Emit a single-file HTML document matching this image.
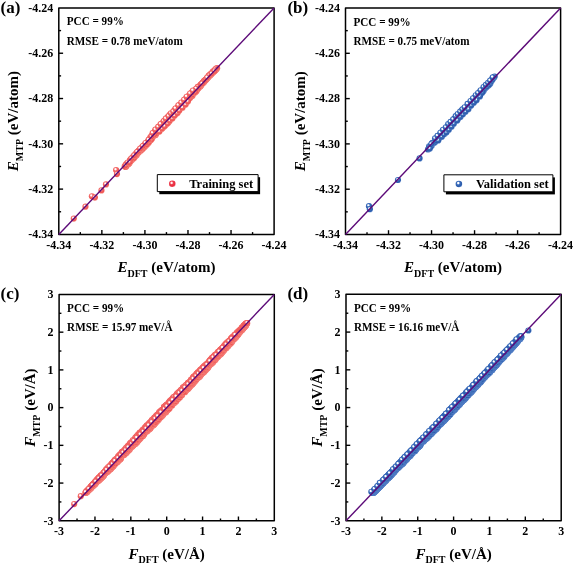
<!DOCTYPE html>
<html><head><meta charset="utf-8"><style>
html,body{margin:0;padding:0;background:#fff;width:575px;height:564px;overflow:hidden}
svg{display:block;will-change:transform}
text{font-family:"Liberation Serif", serif;fill:#000}
</style></head><body>
<svg width="575" height="564" viewBox="0 0 575 564">
<defs>
<radialGradient id="gr" cx="0.40" cy="0.36" r="0.62">
<stop offset="0" stop-color="#ffffff"/><stop offset="0.16" stop-color="#ffffff"/><stop offset="0.42" stop-color="#f36a6a"/><stop offset="0.85" stop-color="#f05552"/><stop offset="1" stop-color="#f47a74"/></radialGradient>
<radialGradient id="gb" cx="0.40" cy="0.36" r="0.62">
<stop offset="0" stop-color="#ffffff"/><stop offset="0.16" stop-color="#ffffff"/><stop offset="0.42" stop-color="#3a6cbc"/><stop offset="0.85" stop-color="#2a5aa9"/><stop offset="1" stop-color="#4f7cc4"/></radialGradient>
<radialGradient id="grl" cx="0.40" cy="0.36" r="0.62">
<stop offset="0" stop-color="#ffffff"/><stop offset="0.16" stop-color="#fde8ea"/><stop offset="0.42" stop-color="#ee3e4e"/><stop offset="0.85" stop-color="#e8283c"/><stop offset="1" stop-color="#f0606e"/></radialGradient>
</defs>
<g stroke="#000" stroke-width="1.4"><line x1="80.33" y1="234.4" x2="80.33" y2="232.10"/><line x1="58.8" y1="211.76" x2="61.10" y2="211.76"/><line x1="101.86" y1="234.4" x2="101.86" y2="230.10"/><line x1="58.8" y1="189.11" x2="63.10" y2="189.11"/><line x1="123.39" y1="234.4" x2="123.39" y2="232.10"/><line x1="58.8" y1="166.46" x2="61.10" y2="166.46"/><line x1="144.92" y1="234.4" x2="144.92" y2="230.10"/><line x1="58.8" y1="143.82" x2="63.10" y2="143.82"/><line x1="166.45" y1="234.4" x2="166.45" y2="232.10"/><line x1="58.8" y1="121.17" x2="61.10" y2="121.17"/><line x1="187.98" y1="234.4" x2="187.98" y2="230.10"/><line x1="58.8" y1="98.53" x2="63.10" y2="98.53"/><line x1="209.51" y1="234.4" x2="209.51" y2="232.10"/><line x1="58.8" y1="75.88" x2="61.10" y2="75.88"/><line x1="231.04" y1="234.4" x2="231.04" y2="230.10"/><line x1="58.8" y1="53.24" x2="63.10" y2="53.24"/><line x1="252.57" y1="234.4" x2="252.57" y2="232.10"/><line x1="58.8" y1="30.59" x2="61.10" y2="30.59"/></g><rect x="58.8" y="7.95" width="215.30" height="226.45" fill="none" stroke="#000" stroke-width="1.5" stroke-linejoin="round"/><g stroke="#000" stroke-width="1.4"><line x1="367.01" y1="234.5" x2="367.01" y2="232.20"/><line x1="345.5" y1="211.85" x2="347.80" y2="211.85"/><line x1="388.52" y1="234.5" x2="388.52" y2="230.20"/><line x1="345.5" y1="189.20" x2="349.80" y2="189.20"/><line x1="410.03" y1="234.5" x2="410.03" y2="232.20"/><line x1="345.5" y1="166.55" x2="347.80" y2="166.55"/><line x1="431.54" y1="234.5" x2="431.54" y2="230.20"/><line x1="345.5" y1="143.90" x2="349.80" y2="143.90"/><line x1="453.05" y1="234.5" x2="453.05" y2="232.20"/><line x1="345.5" y1="121.25" x2="347.80" y2="121.25"/><line x1="474.56" y1="234.5" x2="474.56" y2="230.20"/><line x1="345.5" y1="98.60" x2="349.80" y2="98.60"/><line x1="496.07" y1="234.5" x2="496.07" y2="232.20"/><line x1="345.5" y1="75.95" x2="347.80" y2="75.95"/><line x1="517.58" y1="234.5" x2="517.58" y2="230.20"/><line x1="345.5" y1="53.30" x2="349.80" y2="53.30"/><line x1="539.09" y1="234.5" x2="539.09" y2="232.20"/><line x1="345.5" y1="30.65" x2="347.80" y2="30.65"/></g><rect x="345.5" y="8.0" width="215.10" height="226.50" fill="none" stroke="#000" stroke-width="1.5" stroke-linejoin="round"/><g stroke="#000" stroke-width="1.4"><line x1="77.03" y1="520.8" x2="77.03" y2="518.50"/><line x1="59.1" y1="501.94" x2="61.40" y2="501.94"/><line x1="94.97" y1="520.8" x2="94.97" y2="516.50"/><line x1="59.1" y1="483.07" x2="63.40" y2="483.07"/><line x1="112.90" y1="520.8" x2="112.90" y2="518.50"/><line x1="59.1" y1="464.21" x2="61.40" y2="464.21"/><line x1="130.83" y1="520.8" x2="130.83" y2="516.50"/><line x1="59.1" y1="445.35" x2="63.40" y2="445.35"/><line x1="148.77" y1="520.8" x2="148.77" y2="518.50"/><line x1="59.1" y1="426.49" x2="61.40" y2="426.49"/><line x1="166.70" y1="520.8" x2="166.70" y2="516.50"/><line x1="59.1" y1="407.62" x2="63.40" y2="407.62"/><line x1="184.63" y1="520.8" x2="184.63" y2="518.50"/><line x1="59.1" y1="388.76" x2="61.40" y2="388.76"/><line x1="202.57" y1="520.8" x2="202.57" y2="516.50"/><line x1="59.1" y1="369.90" x2="63.40" y2="369.90"/><line x1="220.50" y1="520.8" x2="220.50" y2="518.50"/><line x1="59.1" y1="351.04" x2="61.40" y2="351.04"/><line x1="238.43" y1="520.8" x2="238.43" y2="516.50"/><line x1="59.1" y1="332.17" x2="63.40" y2="332.17"/><line x1="256.37" y1="520.8" x2="256.37" y2="518.50"/><line x1="59.1" y1="313.31" x2="61.40" y2="313.31"/></g><rect x="59.1" y="294.45" width="215.20" height="226.35" fill="none" stroke="#000" stroke-width="1.5" stroke-linejoin="round"/><g stroke="#000" stroke-width="1.4"><line x1="363.93" y1="520.8" x2="363.93" y2="518.50"/><line x1="346.0" y1="501.93" x2="348.30" y2="501.93"/><line x1="381.87" y1="520.8" x2="381.87" y2="516.50"/><line x1="346.0" y1="483.06" x2="350.30" y2="483.06"/><line x1="399.80" y1="520.8" x2="399.80" y2="518.50"/><line x1="346.0" y1="464.19" x2="348.30" y2="464.19"/><line x1="417.73" y1="520.8" x2="417.73" y2="516.50"/><line x1="346.0" y1="445.32" x2="350.30" y2="445.32"/><line x1="435.67" y1="520.8" x2="435.67" y2="518.50"/><line x1="346.0" y1="426.45" x2="348.30" y2="426.45"/><line x1="453.60" y1="520.8" x2="453.60" y2="516.50"/><line x1="346.0" y1="407.57" x2="350.30" y2="407.57"/><line x1="471.53" y1="520.8" x2="471.53" y2="518.50"/><line x1="346.0" y1="388.70" x2="348.30" y2="388.70"/><line x1="489.47" y1="520.8" x2="489.47" y2="516.50"/><line x1="346.0" y1="369.83" x2="350.30" y2="369.83"/><line x1="507.40" y1="520.8" x2="507.40" y2="518.50"/><line x1="346.0" y1="350.96" x2="348.30" y2="350.96"/><line x1="525.33" y1="520.8" x2="525.33" y2="516.50"/><line x1="346.0" y1="332.09" x2="350.30" y2="332.09"/><line x1="543.27" y1="520.8" x2="543.27" y2="518.50"/><line x1="346.0" y1="313.22" x2="348.30" y2="313.22"/></g><rect x="346.0" y="294.35" width="215.20" height="226.45" fill="none" stroke="#000" stroke-width="1.5" stroke-linejoin="round"/><g fill="url(#gr)"><circle cx="73.80" cy="218.60" r="3.1"/><circle cx="85.50" cy="206.70" r="3.1"/><circle cx="91.90" cy="196.30" r="3.1"/><circle cx="94.90" cy="197.60" r="3.1"/><circle cx="101.50" cy="190.40" r="3.1"/><circle cx="106.00" cy="184.40" r="3.1"/><circle cx="116.10" cy="170.10" r="3.1"/><circle cx="117.00" cy="174.10" r="3.1"/><circle cx="198.71" cy="86.51" r="3.1"/><circle cx="178.28" cy="111.24" r="3.1"/><circle cx="172.66" cy="116.04" r="3.1"/><circle cx="211.66" cy="73.35" r="3.1"/><circle cx="131.74" cy="160.33" r="3.1"/><circle cx="148.56" cy="140.69" r="3.1"/><circle cx="191.01" cy="93.33" r="3.1"/><circle cx="174.22" cy="114.75" r="3.1"/><circle cx="182.18" cy="106.17" r="3.1"/><circle cx="184.46" cy="101.35" r="3.1"/><circle cx="126.15" cy="164.69" r="3.1"/><circle cx="155.85" cy="133.60" r="3.1"/><circle cx="215.69" cy="69.70" r="3.1"/><circle cx="133.21" cy="157.71" r="3.1"/><circle cx="125.99" cy="164.68" r="3.1"/><circle cx="210.91" cy="74.48" r="3.1"/><circle cx="173.21" cy="113.78" r="3.1"/><circle cx="149.84" cy="140.81" r="3.1"/><circle cx="166.24" cy="118.65" r="3.1"/><circle cx="168.50" cy="121.65" r="3.1"/><circle cx="190.44" cy="97.28" r="3.1"/><circle cx="141.28" cy="149.51" r="3.1"/><circle cx="135.38" cy="155.43" r="3.1"/><circle cx="192.39" cy="91.89" r="3.1"/><circle cx="187.05" cy="100.80" r="3.1"/><circle cx="142.32" cy="146.90" r="3.1"/><circle cx="141.58" cy="148.43" r="3.1"/><circle cx="152.05" cy="137.99" r="3.1"/><circle cx="182.89" cy="104.86" r="3.1"/><circle cx="190.97" cy="93.99" r="3.1"/><circle cx="203.15" cy="82.58" r="3.1"/><circle cx="133.34" cy="156.79" r="3.1"/><circle cx="181.65" cy="105.94" r="3.1"/><circle cx="213.37" cy="72.29" r="3.1"/><circle cx="195.83" cy="91.53" r="3.1"/><circle cx="200.49" cy="86.14" r="3.1"/><circle cx="200.24" cy="86.46" r="3.1"/><circle cx="152.17" cy="135.59" r="3.1"/><circle cx="137.12" cy="153.54" r="3.1"/><circle cx="138.78" cy="150.96" r="3.1"/><circle cx="200.57" cy="84.73" r="3.1"/><circle cx="154.22" cy="132.37" r="3.1"/><circle cx="167.81" cy="119.36" r="3.1"/><circle cx="125.61" cy="166.97" r="3.1"/><circle cx="168.22" cy="116.54" r="3.1"/><circle cx="206.53" cy="79.20" r="3.1"/><circle cx="193.45" cy="92.91" r="3.1"/><circle cx="170.32" cy="119.08" r="3.1"/><circle cx="174.76" cy="110.86" r="3.1"/><circle cx="209.91" cy="75.77" r="3.1"/><circle cx="148.90" cy="142.07" r="3.1"/><circle cx="192.57" cy="92.95" r="3.1"/><circle cx="146.33" cy="144.24" r="3.1"/><circle cx="210.49" cy="74.21" r="3.1"/><circle cx="150.21" cy="139.75" r="3.1"/><circle cx="171.08" cy="118.02" r="3.1"/><circle cx="143.70" cy="145.71" r="3.1"/><circle cx="130.37" cy="160.43" r="3.1"/><circle cx="125.53" cy="166.09" r="3.1"/><circle cx="154.96" cy="130.99" r="3.1"/><circle cx="136.66" cy="155.29" r="3.1"/><circle cx="127.98" cy="164.15" r="3.1"/><circle cx="131.47" cy="159.03" r="3.1"/><circle cx="199.33" cy="86.80" r="3.1"/><circle cx="161.43" cy="128.70" r="3.1"/><circle cx="155.68" cy="130.30" r="3.1"/><circle cx="156.30" cy="129.89" r="3.1"/><circle cx="138.89" cy="150.53" r="3.1"/><circle cx="163.36" cy="123.60" r="3.1"/><circle cx="185.87" cy="102.33" r="3.1"/><circle cx="210.20" cy="74.75" r="3.1"/><circle cx="158.08" cy="128.21" r="3.1"/><circle cx="217.13" cy="68.20" r="3.1"/><circle cx="174.67" cy="110.04" r="3.1"/><circle cx="152.55" cy="136.21" r="3.1"/><circle cx="157.19" cy="128.77" r="3.1"/><circle cx="163.53" cy="121.53" r="3.1"/><circle cx="201.21" cy="85.24" r="3.1"/><circle cx="167.37" cy="122.78" r="3.1"/><circle cx="143.12" cy="146.59" r="3.1"/><circle cx="147.62" cy="141.98" r="3.1"/><circle cx="162.41" cy="128.04" r="3.1"/><circle cx="186.04" cy="101.17" r="3.1"/><circle cx="200.46" cy="85.26" r="3.1"/><circle cx="138.00" cy="152.56" r="3.1"/><circle cx="132.55" cy="157.43" r="3.1"/><circle cx="178.12" cy="107.10" r="3.1"/><circle cx="208.70" cy="75.91" r="3.1"/><circle cx="134.22" cy="156.10" r="3.1"/><circle cx="194.69" cy="90.94" r="3.1"/><circle cx="128.92" cy="163.14" r="3.1"/><circle cx="156.64" cy="132.59" r="3.1"/><circle cx="151.72" cy="138.38" r="3.1"/><circle cx="187.63" cy="101.36" r="3.1"/><circle cx="179.36" cy="105.11" r="3.1"/><circle cx="176.08" cy="108.76" r="3.1"/><circle cx="162.12" cy="126.81" r="3.1"/><circle cx="207.99" cy="77.24" r="3.1"/><circle cx="190.05" cy="95.51" r="3.1"/><circle cx="178.55" cy="107.52" r="3.1"/><circle cx="152.62" cy="134.77" r="3.1"/><circle cx="180.68" cy="107.80" r="3.1"/><circle cx="178.00" cy="107.43" r="3.1"/><circle cx="163.62" cy="126.76" r="3.1"/><circle cx="169.71" cy="114.96" r="3.1"/><circle cx="179.37" cy="106.52" r="3.1"/><circle cx="136.82" cy="152.85" r="3.1"/><circle cx="191.01" cy="96.02" r="3.1"/><circle cx="134.84" cy="156.32" r="3.1"/><circle cx="166.89" cy="121.64" r="3.1"/><circle cx="208.60" cy="76.60" r="3.1"/><circle cx="145.84" cy="145.24" r="3.1"/><circle cx="165.75" cy="124.37" r="3.1"/><circle cx="184.39" cy="103.94" r="3.1"/><circle cx="142.91" cy="148.31" r="3.1"/><circle cx="158.13" cy="128.62" r="3.1"/><circle cx="197.48" cy="89.10" r="3.1"/><circle cx="171.16" cy="115.50" r="3.1"/><circle cx="185.22" cy="99.38" r="3.1"/><circle cx="191.84" cy="95.95" r="3.1"/><circle cx="176.38" cy="108.60" r="3.1"/><circle cx="201.42" cy="84.36" r="3.1"/><circle cx="150.18" cy="137.52" r="3.1"/><circle cx="204.27" cy="80.74" r="3.1"/><circle cx="126.43" cy="166.17" r="3.1"/><circle cx="167.40" cy="117.48" r="3.1"/><circle cx="130.16" cy="161.79" r="3.1"/><circle cx="181.60" cy="104.57" r="3.1"/><circle cx="148.91" cy="139.81" r="3.1"/><circle cx="132.86" cy="158.63" r="3.1"/><circle cx="153.01" cy="135.03" r="3.1"/><circle cx="162.55" cy="123.53" r="3.1"/><circle cx="160.65" cy="125.79" r="3.1"/><circle cx="165.93" cy="124.64" r="3.1"/><circle cx="212.46" cy="72.45" r="3.1"/><circle cx="129.36" cy="163.16" r="3.1"/><circle cx="213.18" cy="71.42" r="3.1"/><circle cx="210.27" cy="74.99" r="3.1"/><circle cx="140.83" cy="149.56" r="3.1"/><circle cx="171.47" cy="113.69" r="3.1"/><circle cx="188.06" cy="96.26" r="3.1"/><circle cx="202.68" cy="82.71" r="3.1"/><circle cx="137.78" cy="151.53" r="3.1"/><circle cx="145.20" cy="146.10" r="3.1"/><circle cx="130.01" cy="160.30" r="3.1"/><circle cx="176.58" cy="108.29" r="3.1"/><circle cx="204.64" cy="80.53" r="3.1"/><circle cx="157.87" cy="130.43" r="3.1"/><circle cx="184.09" cy="101.94" r="3.1"/><circle cx="207.06" cy="78.61" r="3.1"/><circle cx="182.32" cy="102.79" r="3.1"/><circle cx="209.08" cy="75.66" r="3.1"/><circle cx="197.77" cy="86.89" r="3.1"/><circle cx="151.26" cy="136.37" r="3.1"/><circle cx="179.59" cy="107.91" r="3.1"/><circle cx="166.30" cy="123.82" r="3.1"/><circle cx="168.78" cy="120.08" r="3.1"/><circle cx="170.44" cy="114.47" r="3.1"/><circle cx="158.73" cy="130.92" r="3.1"/><circle cx="152.26" cy="137.97" r="3.1"/><circle cx="138.74" cy="152.46" r="3.1"/><circle cx="196.15" cy="90.71" r="3.1"/><circle cx="171.08" cy="117.72" r="3.1"/><circle cx="183.91" cy="105.07" r="3.1"/><circle cx="189.20" cy="96.05" r="3.1"/><circle cx="144.38" cy="147.24" r="3.1"/><circle cx="215.99" cy="69.42" r="3.1"/><circle cx="212.61" cy="72.61" r="3.1"/><circle cx="196.35" cy="89.20" r="3.1"/><circle cx="145.41" cy="144.01" r="3.1"/><circle cx="174.56" cy="114.40" r="3.1"/><circle cx="196.02" cy="90.15" r="3.1"/><circle cx="216.46" cy="68.99" r="3.1"/><circle cx="159.76" cy="129.27" r="3.1"/><circle cx="175.94" cy="109.74" r="3.1"/><circle cx="139.80" cy="150.50" r="3.1"/><circle cx="204.14" cy="81.40" r="3.1"/><circle cx="146.64" cy="143.60" r="3.1"/><circle cx="181.93" cy="104.65" r="3.1"/><circle cx="175.99" cy="113.89" r="3.1"/><circle cx="196.56" cy="91.10" r="3.1"/><circle cx="187.99" cy="97.40" r="3.1"/><circle cx="139.19" cy="150.44" r="3.1"/><circle cx="206.00" cy="79.79" r="3.1"/><circle cx="205.33" cy="79.93" r="3.1"/><circle cx="134.55" cy="157.17" r="3.1"/><circle cx="211.56" cy="73.71" r="3.1"/><circle cx="128.63" cy="163.97" r="3.1"/><circle cx="185.37" cy="101.53" r="3.1"/><circle cx="212.89" cy="72.02" r="3.1"/><circle cx="216.08" cy="68.52" r="3.1"/><circle cx="215.17" cy="70.40" r="3.1"/><circle cx="126.90" cy="163.51" r="3.1"/><circle cx="188.64" cy="98.53" r="3.1"/><circle cx="149.18" cy="141.73" r="3.1"/><circle cx="176.60" cy="112.76" r="3.1"/><circle cx="198.90" cy="87.00" r="3.1"/><circle cx="193.54" cy="90.79" r="3.1"/><circle cx="135.15" cy="155.63" r="3.1"/><circle cx="144.84" cy="145.75" r="3.1"/><circle cx="214.66" cy="70.45" r="3.1"/><circle cx="167.74" cy="117.48" r="3.1"/><circle cx="129.28" cy="162.16" r="3.1"/><circle cx="167.62" cy="121.64" r="3.1"/><circle cx="175.75" cy="109.67" r="3.1"/><circle cx="214.14" cy="70.98" r="3.1"/><circle cx="198.21" cy="88.39" r="3.1"/><circle cx="204.10" cy="81.14" r="3.1"/><circle cx="127.27" cy="164.34" r="3.1"/><circle cx="207.86" cy="77.63" r="3.1"/><circle cx="136.51" cy="154.49" r="3.1"/><circle cx="175.48" cy="111.91" r="3.1"/><circle cx="184.15" cy="102.55" r="3.1"/><circle cx="190.06" cy="97.89" r="3.1"/><circle cx="136.81" cy="153.12" r="3.1"/><circle cx="207.16" cy="78.22" r="3.1"/><circle cx="141.08" cy="150.60" r="3.1"/><circle cx="147.12" cy="142.80" r="3.1"/><circle cx="197.83" cy="87.28" r="3.1"/><circle cx="192.55" cy="95.72" r="3.1"/><circle cx="155.68" cy="134.90" r="3.1"/><circle cx="150.26" cy="140.33" r="3.1"/><circle cx="161.03" cy="125.41" r="3.1"/><circle cx="192.61" cy="94.61" r="3.1"/><circle cx="124.77" cy="166.20" r="3.1"/><circle cx="188.31" cy="100.01" r="3.1"/><circle cx="125.82" cy="165.37" r="3.1"/><circle cx="205.51" cy="80.38" r="3.1"/><circle cx="130.59" cy="159.27" r="3.1"/><circle cx="197.82" cy="88.75" r="3.1"/><circle cx="205.78" cy="79.62" r="3.1"/><circle cx="172.10" cy="118.04" r="3.1"/><circle cx="215.19" cy="69.62" r="3.1"/><circle cx="214.43" cy="71.37" r="3.1"/><circle cx="145.68" cy="145.43" r="3.1"/><circle cx="180.71" cy="106.06" r="3.1"/><circle cx="201.02" cy="84.65" r="3.1"/><circle cx="208.17" cy="77.06" r="3.1"/><circle cx="155.42" cy="134.22" r="3.1"/><circle cx="169.50" cy="117.01" r="3.1"/><circle cx="203.87" cy="82.43" r="3.1"/><circle cx="161.55" cy="128.76" r="3.1"/><circle cx="147.82" cy="143.33" r="3.1"/><circle cx="188.18" cy="96.63" r="3.1"/><circle cx="203.29" cy="82.58" r="3.1"/><circle cx="201.52" cy="84.22" r="3.1"/><circle cx="137.95" cy="152.43" r="3.1"/><circle cx="183.95" cy="103.48" r="3.1"/><circle cx="154.83" cy="135.34" r="3.1"/><circle cx="158.76" cy="127.35" r="3.1"/><circle cx="161.89" cy="123.66" r="3.1"/><circle cx="209.33" cy="75.46" r="3.1"/><circle cx="156.46" cy="133.54" r="3.1"/><circle cx="142.62" cy="149.06" r="3.1"/><circle cx="131.91" cy="158.26" r="3.1"/><circle cx="151.19" cy="137.12" r="3.1"/><circle cx="143.86" cy="147.07" r="3.1"/><circle cx="168.64" cy="121.88" r="3.1"/><circle cx="179.11" cy="109.11" r="3.1"/><circle cx="194.58" cy="92.79" r="3.1"/><circle cx="202.52" cy="83.49" r="3.1"/><circle cx="130.13" cy="161.62" r="3.1"/><circle cx="159.16" cy="131.31" r="3.1"/><circle cx="127.65" cy="162.60" r="3.1"/><circle cx="133.94" cy="158.18" r="3.1"/><circle cx="131.33" cy="158.60" r="3.1"/><circle cx="153.95" cy="135.48" r="3.1"/><circle cx="140.27" cy="149.96" r="3.1"/><circle cx="202.14" cy="83.70" r="3.1"/><circle cx="175.74" cy="112.86" r="3.1"/><circle cx="187.17" cy="99.41" r="3.1"/><circle cx="158.97" cy="126.62" r="3.1"/><circle cx="141.47" cy="148.77" r="3.1"/><circle cx="135.23" cy="155.51" r="3.1"/><circle cx="173.23" cy="115.38" r="3.1"/><circle cx="156.37" cy="131.03" r="3.1"/><circle cx="142.73" cy="146.65" r="3.1"/><circle cx="161.87" cy="125.76" r="3.1"/><circle cx="186.53" cy="98.19" r="3.1"/><circle cx="173.62" cy="114.85" r="3.1"/><circle cx="180.11" cy="104.97" r="3.1"/><circle cx="193.07" cy="91.86" r="3.1"/><circle cx="211.74" cy="73.68" r="3.1"/><circle cx="147.05" cy="144.40" r="3.1"/><circle cx="150.67" cy="139.50" r="3.1"/><circle cx="207.21" cy="77.63" r="3.1"/><circle cx="196.12" cy="88.80" r="3.1"/><circle cx="166.55" cy="122.81" r="3.1"/><circle cx="148.41" cy="142.99" r="3.1"/><circle cx="195.27" cy="92.18" r="3.1"/><circle cx="151.27" cy="139.82" r="3.1"/><circle cx="135.63" cy="153.80" r="3.1"/><circle cx="154.33" cy="134.77" r="3.1"/><circle cx="165.23" cy="120.18" r="3.1"/><circle cx="164.28" cy="124.95" r="3.1"/><circle cx="192.10" cy="92.97" r="3.1"/><circle cx="173.94" cy="113.19" r="3.1"/><circle cx="187.61" cy="98.01" r="3.1"/><circle cx="129.71" cy="162.23" r="3.1"/><circle cx="161.74" cy="124.02" r="3.1"/><circle cx="159.51" cy="131.50" r="3.1"/><circle cx="162.18" cy="128.51" r="3.1"/><circle cx="164.70" cy="126.28" r="3.1"/><circle cx="167.81" cy="123.33" r="3.1"/><circle cx="169.81" cy="120.80" r="3.1"/><circle cx="172.41" cy="118.44" r="3.1"/><circle cx="174.58" cy="115.70" r="3.1"/><circle cx="177.54" cy="113.07" r="3.1"/><circle cx="179.38" cy="110.46" r="3.1"/><circle cx="182.53" cy="107.74" r="3.1"/><circle cx="185.71" cy="104.53" r="3.1"/><circle cx="187.87" cy="101.53" r="3.1"/><circle cx="134.17" cy="155.46" r="3.1"/><circle cx="137.17" cy="152.03" r="3.1"/><circle cx="140.16" cy="148.63" r="3.1"/><circle cx="142.85" cy="145.99" r="3.1"/><circle cx="145.47" cy="143.00" r="3.1"/><circle cx="148.60" cy="139.90" r="3.1"/><circle cx="151.54" cy="136.57" r="3.1"/><circle cx="152.68" cy="133.02" r="3.1"/><circle cx="155.41" cy="129.65" r="3.1"/><circle cx="158.23" cy="126.93" r="3.1"/><circle cx="160.63" cy="124.06" r="3.1"/><circle cx="163.79" cy="120.99" r="3.1"/><circle cx="165.82" cy="118.63" r="3.1"/><circle cx="168.74" cy="116.13" r="3.1"/><circle cx="170.97" cy="113.35" r="3.1"/><circle cx="173.32" cy="111.38" r="3.1"/><circle cx="175.44" cy="108.48" r="3.1"/><circle cx="178.38" cy="105.32" r="3.1"/><circle cx="181.28" cy="102.61" r="3.1"/><circle cx="184.05" cy="99.74" r="3.1"/><circle cx="186.65" cy="96.74" r="3.1"/><circle cx="190.05" cy="93.53" r="3.1"/><circle cx="192.93" cy="90.59" r="3.1"/></g><g fill="url(#gb)"><circle cx="369.00" cy="206.20" r="3.1"/><circle cx="369.90" cy="209.20" r="3.1"/><circle cx="398.00" cy="180.00" r="3.1"/><circle cx="419.60" cy="158.40" r="3.1"/><circle cx="489.17" cy="84.10" r="3.1"/><circle cx="494.14" cy="77.17" r="3.1"/><circle cx="438.77" cy="138.77" r="3.1"/><circle cx="432.02" cy="143.33" r="3.1"/><circle cx="480.88" cy="93.59" r="3.1"/><circle cx="435.23" cy="141.50" r="3.1"/><circle cx="473.76" cy="101.64" r="3.1"/><circle cx="431.70" cy="145.77" r="3.1"/><circle cx="452.60" cy="123.02" r="3.1"/><circle cx="455.67" cy="120.73" r="3.1"/><circle cx="466.73" cy="108.21" r="3.1"/><circle cx="445.82" cy="130.20" r="3.1"/><circle cx="484.65" cy="88.86" r="3.1"/><circle cx="455.36" cy="118.13" r="3.1"/><circle cx="493.52" cy="77.92" r="3.1"/><circle cx="486.48" cy="85.69" r="3.1"/><circle cx="460.53" cy="113.13" r="3.1"/><circle cx="435.83" cy="140.94" r="3.1"/><circle cx="492.48" cy="78.64" r="3.1"/><circle cx="476.60" cy="97.87" r="3.1"/><circle cx="484.70" cy="88.16" r="3.1"/><circle cx="427.98" cy="149.52" r="3.1"/><circle cx="447.57" cy="127.67" r="3.1"/><circle cx="440.71" cy="134.13" r="3.1"/><circle cx="449.59" cy="126.89" r="3.1"/><circle cx="494.69" cy="76.54" r="3.1"/><circle cx="468.16" cy="107.72" r="3.1"/><circle cx="458.97" cy="116.55" r="3.1"/><circle cx="466.70" cy="108.92" r="3.1"/><circle cx="460.32" cy="114.44" r="3.1"/><circle cx="429.18" cy="146.36" r="3.1"/><circle cx="445.90" cy="132.42" r="3.1"/><circle cx="471.19" cy="104.08" r="3.1"/><circle cx="442.82" cy="130.91" r="3.1"/><circle cx="470.22" cy="105.70" r="3.1"/><circle cx="435.03" cy="142.24" r="3.1"/><circle cx="440.13" cy="136.06" r="3.1"/><circle cx="468.11" cy="105.85" r="3.1"/><circle cx="441.55" cy="133.55" r="3.1"/><circle cx="480.17" cy="91.69" r="3.1"/><circle cx="471.77" cy="102.97" r="3.1"/><circle cx="458.64" cy="118.02" r="3.1"/><circle cx="483.58" cy="88.80" r="3.1"/><circle cx="470.75" cy="104.51" r="3.1"/><circle cx="434.18" cy="142.76" r="3.1"/><circle cx="432.47" cy="142.97" r="3.1"/><circle cx="462.52" cy="110.19" r="3.1"/><circle cx="488.51" cy="85.48" r="3.1"/><circle cx="440.21" cy="135.09" r="3.1"/><circle cx="454.82" cy="121.13" r="3.1"/><circle cx="428.79" cy="148.47" r="3.1"/><circle cx="452.30" cy="121.36" r="3.1"/><circle cx="457.69" cy="118.08" r="3.1"/><circle cx="490.77" cy="81.27" r="3.1"/><circle cx="457.86" cy="114.78" r="3.1"/><circle cx="483.57" cy="91.00" r="3.1"/><circle cx="464.97" cy="109.98" r="3.1"/><circle cx="478.55" cy="94.13" r="3.1"/><circle cx="479.09" cy="96.05" r="3.1"/><circle cx="444.29" cy="133.79" r="3.1"/><circle cx="485.76" cy="87.66" r="3.1"/><circle cx="454.54" cy="118.72" r="3.1"/><circle cx="430.41" cy="146.55" r="3.1"/><circle cx="460.14" cy="114.90" r="3.1"/><circle cx="436.92" cy="140.26" r="3.1"/><circle cx="461.51" cy="110.95" r="3.1"/><circle cx="438.32" cy="137.60" r="3.1"/><circle cx="491.41" cy="80.47" r="3.1"/><circle cx="450.14" cy="125.24" r="3.1"/><circle cx="492.34" cy="79.92" r="3.1"/><circle cx="450.36" cy="124.40" r="3.1"/><circle cx="490.24" cy="83.64" r="3.1"/><circle cx="448.22" cy="125.14" r="3.1"/><circle cx="429.93" cy="148.56" r="3.1"/><circle cx="474.53" cy="98.51" r="3.1"/><circle cx="452.18" cy="124.57" r="3.1"/><circle cx="464.38" cy="108.63" r="3.1"/><circle cx="446.59" cy="129.80" r="3.1"/><circle cx="448.16" cy="127.36" r="3.1"/><circle cx="441.71" cy="132.08" r="3.1"/><circle cx="438.30" cy="140.47" r="3.1"/><circle cx="472.58" cy="102.21" r="3.1"/><circle cx="479.08" cy="93.63" r="3.1"/><circle cx="431.25" cy="144.25" r="3.1"/><circle cx="437.98" cy="135.93" r="3.1"/><circle cx="475.09" cy="97.38" r="3.1"/><circle cx="488.90" cy="84.93" r="3.1"/><circle cx="482.72" cy="91.14" r="3.1"/><circle cx="445.82" cy="128.39" r="3.1"/><circle cx="453.07" cy="121.49" r="3.1"/><circle cx="461.71" cy="113.23" r="3.1"/><circle cx="475.05" cy="100.73" r="3.1"/><circle cx="464.59" cy="111.24" r="3.1"/><circle cx="477.03" cy="97.31" r="3.1"/><circle cx="468.75" cy="105.47" r="3.1"/><circle cx="473.10" cy="100.03" r="3.1"/><circle cx="490.81" cy="81.92" r="3.1"/><circle cx="482.28" cy="92.76" r="3.1"/><circle cx="478.16" cy="96.86" r="3.1"/><circle cx="486.92" cy="86.68" r="3.1"/><circle cx="441.90" cy="136.79" r="3.1"/><circle cx="444.05" cy="134.33" r="3.1"/><circle cx="446.54" cy="132.28" r="3.1"/><circle cx="448.84" cy="129.78" r="3.1"/><circle cx="451.58" cy="126.70" r="3.1"/><circle cx="453.84" cy="123.77" r="3.1"/><circle cx="457.32" cy="120.40" r="3.1"/><circle cx="460.44" cy="116.96" r="3.1"/><circle cx="462.96" cy="114.33" r="3.1"/><circle cx="465.56" cy="111.80" r="3.1"/><circle cx="468.39" cy="109.17" r="3.1"/><circle cx="471.22" cy="105.53" r="3.1"/><circle cx="473.83" cy="102.81" r="3.1"/><circle cx="476.56" cy="100.13" r="3.1"/><circle cx="479.95" cy="96.46" r="3.1"/><circle cx="435.09" cy="138.34" r="3.1"/><circle cx="437.55" cy="135.86" r="3.1"/><circle cx="440.38" cy="132.76" r="3.1"/><circle cx="443.06" cy="129.77" r="3.1"/><circle cx="445.87" cy="127.31" r="3.1"/><circle cx="448.24" cy="124.08" r="3.1"/><circle cx="450.53" cy="121.89" r="3.1"/><circle cx="453.19" cy="119.36" r="3.1"/><circle cx="455.68" cy="116.17" r="3.1"/><circle cx="457.73" cy="114.09" r="3.1"/><circle cx="460.16" cy="111.58" r="3.1"/><circle cx="462.39" cy="109.33" r="3.1"/><circle cx="464.65" cy="107.29" r="3.1"/><circle cx="467.58" cy="103.93" r="3.1"/><circle cx="470.52" cy="101.00" r="3.1"/><circle cx="473.02" cy="98.34" r="3.1"/><circle cx="475.76" cy="95.25" r="3.1"/><circle cx="478.09" cy="93.05" r="3.1"/><circle cx="480.62" cy="90.27" r="3.1"/><circle cx="483.52" cy="86.98" r="3.1"/><circle cx="485.87" cy="84.91" r="3.1"/><circle cx="488.13" cy="82.84" r="3.1"/><circle cx="490.12" cy="80.60" r="3.1"/><circle cx="492.75" cy="77.41" r="3.1"/></g><g fill="url(#gr)"><circle cx="74.20" cy="504.10" r="3.1"/><circle cx="80.80" cy="496.20" r="3.1"/><circle cx="86.60" cy="492.20" r="3.1"/><circle cx="86.04" cy="492.92" r="3.1"/><circle cx="86.01" cy="491.95" r="3.1"/><circle cx="85.68" cy="492.32" r="3.1"/><circle cx="86.53" cy="492.24" r="3.1"/><circle cx="86.54" cy="491.73" r="3.1"/><circle cx="86.50" cy="492.07" r="3.1"/><circle cx="87.24" cy="492.10" r="3.1"/><circle cx="86.65" cy="491.23" r="3.1"/><circle cx="86.69" cy="491.68" r="3.1"/><circle cx="87.36" cy="491.63" r="3.1"/><circle cx="87.02" cy="490.90" r="3.1"/><circle cx="87.51" cy="491.57" r="3.1"/><circle cx="87.26" cy="491.30" r="3.1"/><circle cx="87.42" cy="490.68" r="3.1"/><circle cx="87.45" cy="490.76" r="3.1"/><circle cx="87.55" cy="490.71" r="3.1"/><circle cx="87.56" cy="490.95" r="3.1"/><circle cx="87.39" cy="490.73" r="3.1"/><circle cx="87.75" cy="490.57" r="3.1"/><circle cx="88.06" cy="490.38" r="3.1"/><circle cx="88.42" cy="490.14" r="3.1"/><circle cx="88.20" cy="490.79" r="3.1"/><circle cx="87.85" cy="489.92" r="3.1"/><circle cx="88.59" cy="490.31" r="3.1"/><circle cx="88.74" cy="489.61" r="3.1"/><circle cx="88.37" cy="489.79" r="3.1"/><circle cx="88.70" cy="489.75" r="3.1"/><circle cx="88.82" cy="489.69" r="3.1"/><circle cx="89.21" cy="489.87" r="3.1"/><circle cx="89.00" cy="489.69" r="3.1"/><circle cx="88.81" cy="489.12" r="3.1"/><circle cx="89.63" cy="489.47" r="3.1"/><circle cx="89.22" cy="488.63" r="3.1"/><circle cx="89.50" cy="488.75" r="3.1"/><circle cx="89.54" cy="489.23" r="3.1"/><circle cx="89.84" cy="489.08" r="3.1"/><circle cx="89.98" cy="488.88" r="3.1"/><circle cx="90.02" cy="489.08" r="3.1"/><circle cx="90.07" cy="488.84" r="3.1"/><circle cx="89.83" cy="488.04" r="3.1"/><circle cx="90.46" cy="488.54" r="3.1"/><circle cx="89.99" cy="487.73" r="3.1"/><circle cx="90.30" cy="488.02" r="3.1"/><circle cx="90.88" cy="488.11" r="3.1"/><circle cx="91.20" cy="488.02" r="3.1"/><circle cx="91.30" cy="487.96" r="3.1"/><circle cx="91.04" cy="487.58" r="3.1"/><circle cx="90.63" cy="487.59" r="3.1"/><circle cx="90.76" cy="487.57" r="3.1"/><circle cx="91.34" cy="487.57" r="3.1"/><circle cx="91.55" cy="487.25" r="3.1"/><circle cx="90.76" cy="486.64" r="3.1"/><circle cx="90.94" cy="486.75" r="3.1"/><circle cx="91.25" cy="486.69" r="3.1"/><circle cx="91.39" cy="486.91" r="3.1"/><circle cx="91.25" cy="486.44" r="3.1"/><circle cx="91.78" cy="486.65" r="3.1"/><circle cx="91.68" cy="486.01" r="3.1"/><circle cx="92.08" cy="486.00" r="3.1"/><circle cx="92.19" cy="486.67" r="3.1"/><circle cx="91.82" cy="485.82" r="3.1"/><circle cx="92.29" cy="485.36" r="3.1"/><circle cx="92.12" cy="485.93" r="3.1"/><circle cx="92.27" cy="485.28" r="3.1"/><circle cx="92.81" cy="486.05" r="3.1"/><circle cx="92.57" cy="485.72" r="3.1"/><circle cx="92.55" cy="484.85" r="3.1"/><circle cx="92.57" cy="485.02" r="3.1"/><circle cx="92.42" cy="484.94" r="3.1"/><circle cx="92.82" cy="484.98" r="3.1"/><circle cx="93.67" cy="485.73" r="3.1"/><circle cx="93.90" cy="485.03" r="3.1"/><circle cx="93.65" cy="484.89" r="3.1"/><circle cx="93.36" cy="484.65" r="3.1"/><circle cx="93.65" cy="484.28" r="3.1"/><circle cx="93.33" cy="483.95" r="3.1"/><circle cx="93.77" cy="483.64" r="3.1"/><circle cx="93.67" cy="483.95" r="3.1"/><circle cx="94.18" cy="484.59" r="3.1"/><circle cx="93.64" cy="483.82" r="3.1"/><circle cx="94.24" cy="483.84" r="3.1"/><circle cx="94.84" cy="484.46" r="3.1"/><circle cx="94.18" cy="483.27" r="3.1"/><circle cx="94.36" cy="482.82" r="3.1"/><circle cx="95.35" cy="483.81" r="3.1"/><circle cx="95.38" cy="483.92" r="3.1"/><circle cx="95.29" cy="483.03" r="3.1"/><circle cx="94.77" cy="483.18" r="3.1"/><circle cx="95.17" cy="482.98" r="3.1"/><circle cx="95.57" cy="483.34" r="3.1"/><circle cx="95.16" cy="482.06" r="3.1"/><circle cx="94.89" cy="482.60" r="3.1"/><circle cx="95.04" cy="482.11" r="3.1"/><circle cx="95.08" cy="482.25" r="3.1"/><circle cx="96.47" cy="482.55" r="3.1"/><circle cx="95.92" cy="482.78" r="3.1"/><circle cx="96.26" cy="481.85" r="3.1"/><circle cx="95.60" cy="481.67" r="3.1"/><circle cx="95.72" cy="481.13" r="3.1"/><circle cx="95.93" cy="481.30" r="3.1"/><circle cx="96.77" cy="481.60" r="3.1"/><circle cx="96.79" cy="481.38" r="3.1"/><circle cx="96.77" cy="481.19" r="3.1"/><circle cx="96.71" cy="481.45" r="3.1"/><circle cx="96.60" cy="481.26" r="3.1"/><circle cx="97.46" cy="481.57" r="3.1"/><circle cx="96.43" cy="480.73" r="3.1"/><circle cx="96.79" cy="480.30" r="3.1"/><circle cx="96.81" cy="480.53" r="3.1"/><circle cx="96.81" cy="479.90" r="3.1"/><circle cx="97.13" cy="480.75" r="3.1"/><circle cx="97.18" cy="480.70" r="3.1"/><circle cx="97.00" cy="479.96" r="3.1"/><circle cx="97.98" cy="480.45" r="3.1"/><circle cx="97.71" cy="479.96" r="3.1"/><circle cx="98.06" cy="480.03" r="3.1"/><circle cx="97.54" cy="479.53" r="3.1"/><circle cx="98.35" cy="479.69" r="3.1"/><circle cx="98.82" cy="480.65" r="3.1"/><circle cx="98.48" cy="480.06" r="3.1"/><circle cx="97.71" cy="479.19" r="3.1"/><circle cx="99.07" cy="480.09" r="3.1"/><circle cx="98.86" cy="479.13" r="3.1"/><circle cx="98.25" cy="478.31" r="3.1"/><circle cx="98.48" cy="479.22" r="3.1"/><circle cx="99.74" cy="479.55" r="3.1"/><circle cx="98.49" cy="478.57" r="3.1"/><circle cx="98.52" cy="478.07" r="3.1"/><circle cx="99.27" cy="478.50" r="3.1"/><circle cx="99.90" cy="479.38" r="3.1"/><circle cx="98.72" cy="477.95" r="3.1"/><circle cx="100.16" cy="479.10" r="3.1"/><circle cx="99.25" cy="478.04" r="3.1"/><circle cx="100.17" cy="478.70" r="3.1"/><circle cx="100.10" cy="477.92" r="3.1"/><circle cx="100.57" cy="478.00" r="3.1"/><circle cx="99.57" cy="476.90" r="3.1"/><circle cx="100.83" cy="478.46" r="3.1"/><circle cx="99.87" cy="476.73" r="3.1"/><circle cx="101.02" cy="478.08" r="3.1"/><circle cx="100.92" cy="477.44" r="3.1"/><circle cx="101.34" cy="478.11" r="3.1"/><circle cx="100.58" cy="476.55" r="3.1"/><circle cx="101.68" cy="477.72" r="3.1"/><circle cx="100.92" cy="476.47" r="3.1"/><circle cx="101.47" cy="476.68" r="3.1"/><circle cx="101.48" cy="477.43" r="3.1"/><circle cx="101.96" cy="477.16" r="3.1"/><circle cx="101.91" cy="477.25" r="3.1"/><circle cx="101.77" cy="477.15" r="3.1"/><circle cx="100.73" cy="475.64" r="3.1"/><circle cx="101.04" cy="475.30" r="3.1"/><circle cx="102.53" cy="476.29" r="3.1"/><circle cx="103.03" cy="476.50" r="3.1"/><circle cx="102.69" cy="476.78" r="3.1"/><circle cx="101.76" cy="475.95" r="3.1"/><circle cx="101.54" cy="475.45" r="3.1"/><circle cx="101.52" cy="475.28" r="3.1"/><circle cx="102.23" cy="475.55" r="3.1"/><circle cx="102.91" cy="475.68" r="3.1"/><circle cx="102.81" cy="475.49" r="3.1"/><circle cx="102.30" cy="475.02" r="3.1"/><circle cx="103.52" cy="475.43" r="3.1"/><circle cx="103.56" cy="474.99" r="3.1"/><circle cx="103.18" cy="474.92" r="3.1"/><circle cx="103.76" cy="475.77" r="3.1"/><circle cx="104.06" cy="475.18" r="3.1"/><circle cx="103.32" cy="473.91" r="3.1"/><circle cx="103.71" cy="474.35" r="3.1"/><circle cx="103.63" cy="474.76" r="3.1"/><circle cx="103.94" cy="474.16" r="3.1"/><circle cx="103.47" cy="473.22" r="3.1"/><circle cx="103.30" cy="473.29" r="3.1"/><circle cx="103.90" cy="473.72" r="3.1"/><circle cx="104.24" cy="473.63" r="3.1"/><circle cx="104.26" cy="473.25" r="3.1"/><circle cx="104.38" cy="473.59" r="3.1"/><circle cx="103.87" cy="472.67" r="3.1"/><circle cx="104.50" cy="473.18" r="3.1"/><circle cx="104.09" cy="472.54" r="3.1"/><circle cx="105.08" cy="473.60" r="3.1"/><circle cx="104.37" cy="473.01" r="3.1"/><circle cx="105.23" cy="472.68" r="3.1"/><circle cx="105.52" cy="473.25" r="3.1"/><circle cx="104.98" cy="472.00" r="3.1"/><circle cx="104.92" cy="472.07" r="3.1"/><circle cx="105.54" cy="472.65" r="3.1"/><circle cx="105.09" cy="472.11" r="3.1"/><circle cx="104.71" cy="471.93" r="3.1"/><circle cx="105.29" cy="471.46" r="3.1"/><circle cx="105.88" cy="472.62" r="3.1"/><circle cx="106.24" cy="472.12" r="3.1"/><circle cx="105.59" cy="470.99" r="3.1"/><circle cx="106.43" cy="472.45" r="3.1"/><circle cx="107.22" cy="471.99" r="3.1"/><circle cx="105.78" cy="471.36" r="3.1"/><circle cx="106.25" cy="470.68" r="3.1"/><circle cx="106.12" cy="471.16" r="3.1"/><circle cx="105.75" cy="470.08" r="3.1"/><circle cx="107.50" cy="471.46" r="3.1"/><circle cx="106.83" cy="470.83" r="3.1"/><circle cx="107.07" cy="471.16" r="3.1"/><circle cx="107.19" cy="470.81" r="3.1"/><circle cx="107.39" cy="470.43" r="3.1"/><circle cx="107.95" cy="471.48" r="3.1"/><circle cx="106.45" cy="469.40" r="3.1"/><circle cx="107.24" cy="469.92" r="3.1"/><circle cx="108.01" cy="470.71" r="3.1"/><circle cx="108.06" cy="470.81" r="3.1"/><circle cx="106.82" cy="468.77" r="3.1"/><circle cx="106.75" cy="469.32" r="3.1"/><circle cx="107.39" cy="469.39" r="3.1"/><circle cx="108.15" cy="469.49" r="3.1"/><circle cx="109.10" cy="470.52" r="3.1"/><circle cx="108.34" cy="469.04" r="3.1"/><circle cx="108.23" cy="469.34" r="3.1"/><circle cx="108.28" cy="468.89" r="3.1"/><circle cx="109.05" cy="469.45" r="3.1"/><circle cx="108.89" cy="469.69" r="3.1"/><circle cx="108.96" cy="469.47" r="3.1"/><circle cx="108.90" cy="468.74" r="3.1"/><circle cx="108.29" cy="467.68" r="3.1"/><circle cx="108.79" cy="467.69" r="3.1"/><circle cx="109.65" cy="468.97" r="3.1"/><circle cx="109.68" cy="469.10" r="3.1"/><circle cx="109.37" cy="468.14" r="3.1"/><circle cx="110.57" cy="468.63" r="3.1"/><circle cx="108.27" cy="467.18" r="3.1"/><circle cx="110.60" cy="469.19" r="3.1"/><circle cx="109.47" cy="467.04" r="3.1"/><circle cx="110.64" cy="468.87" r="3.1"/><circle cx="109.84" cy="467.55" r="3.1"/><circle cx="110.97" cy="468.77" r="3.1"/><circle cx="110.73" cy="468.13" r="3.1"/><circle cx="110.83" cy="467.63" r="3.1"/><circle cx="110.87" cy="467.80" r="3.1"/><circle cx="111.42" cy="467.41" r="3.1"/><circle cx="111.28" cy="467.43" r="3.1"/><circle cx="110.76" cy="466.97" r="3.1"/><circle cx="110.80" cy="467.15" r="3.1"/><circle cx="111.77" cy="467.17" r="3.1"/><circle cx="110.28" cy="466.02" r="3.1"/><circle cx="112.14" cy="466.82" r="3.1"/><circle cx="112.37" cy="466.96" r="3.1"/><circle cx="110.27" cy="465.47" r="3.1"/><circle cx="110.48" cy="465.46" r="3.1"/><circle cx="112.53" cy="467.05" r="3.1"/><circle cx="112.09" cy="466.09" r="3.1"/><circle cx="112.07" cy="465.64" r="3.1"/><circle cx="111.28" cy="465.42" r="3.1"/><circle cx="112.83" cy="466.00" r="3.1"/><circle cx="113.25" cy="465.97" r="3.1"/><circle cx="111.29" cy="464.70" r="3.1"/><circle cx="112.67" cy="465.77" r="3.1"/><circle cx="112.44" cy="465.35" r="3.1"/><circle cx="113.49" cy="466.13" r="3.1"/><circle cx="113.25" cy="465.60" r="3.1"/><circle cx="113.02" cy="464.59" r="3.1"/><circle cx="112.49" cy="464.16" r="3.1"/><circle cx="111.97" cy="463.71" r="3.1"/><circle cx="113.05" cy="464.69" r="3.1"/><circle cx="112.52" cy="463.29" r="3.1"/><circle cx="112.28" cy="463.15" r="3.1"/><circle cx="114.03" cy="465.19" r="3.1"/><circle cx="112.91" cy="463.03" r="3.1"/><circle cx="113.68" cy="463.51" r="3.1"/><circle cx="112.72" cy="462.57" r="3.1"/><circle cx="114.03" cy="463.94" r="3.1"/><circle cx="114.15" cy="463.91" r="3.1"/><circle cx="113.75" cy="463.74" r="3.1"/><circle cx="114.78" cy="464.35" r="3.1"/><circle cx="114.19" cy="462.81" r="3.1"/><circle cx="113.54" cy="462.78" r="3.1"/><circle cx="114.53" cy="462.99" r="3.1"/><circle cx="115.13" cy="463.95" r="3.1"/><circle cx="114.14" cy="462.63" r="3.1"/><circle cx="114.12" cy="462.48" r="3.1"/><circle cx="113.78" cy="461.79" r="3.1"/><circle cx="115.08" cy="462.56" r="3.1"/><circle cx="114.24" cy="461.15" r="3.1"/><circle cx="114.32" cy="461.27" r="3.1"/><circle cx="116.09" cy="463.30" r="3.1"/><circle cx="115.47" cy="461.62" r="3.1"/><circle cx="114.65" cy="461.51" r="3.1"/><circle cx="116.11" cy="461.84" r="3.1"/><circle cx="115.78" cy="461.42" r="3.1"/><circle cx="114.95" cy="460.53" r="3.1"/><circle cx="115.57" cy="461.04" r="3.1"/><circle cx="116.09" cy="461.93" r="3.1"/><circle cx="114.61" cy="460.41" r="3.1"/><circle cx="116.75" cy="461.60" r="3.1"/><circle cx="114.87" cy="460.05" r="3.1"/><circle cx="117.15" cy="461.30" r="3.1"/><circle cx="116.81" cy="461.26" r="3.1"/><circle cx="116.63" cy="461.28" r="3.1"/><circle cx="115.61" cy="459.38" r="3.1"/><circle cx="117.77" cy="461.89" r="3.1"/><circle cx="117.69" cy="461.31" r="3.1"/><circle cx="115.74" cy="459.50" r="3.1"/><circle cx="117.63" cy="460.91" r="3.1"/><circle cx="117.34" cy="459.76" r="3.1"/><circle cx="117.37" cy="459.58" r="3.1"/><circle cx="117.20" cy="459.74" r="3.1"/><circle cx="116.54" cy="458.74" r="3.1"/><circle cx="117.63" cy="459.64" r="3.1"/><circle cx="118.00" cy="459.87" r="3.1"/><circle cx="118.71" cy="460.59" r="3.1"/><circle cx="116.98" cy="458.82" r="3.1"/><circle cx="118.54" cy="460.07" r="3.1"/><circle cx="118.18" cy="459.64" r="3.1"/><circle cx="118.60" cy="459.22" r="3.1"/><circle cx="118.02" cy="458.17" r="3.1"/><circle cx="119.54" cy="459.66" r="3.1"/><circle cx="119.19" cy="459.46" r="3.1"/><circle cx="118.58" cy="458.12" r="3.1"/><circle cx="118.51" cy="457.68" r="3.1"/><circle cx="119.96" cy="459.60" r="3.1"/><circle cx="118.69" cy="458.49" r="3.1"/><circle cx="120.11" cy="459.27" r="3.1"/><circle cx="118.75" cy="458.02" r="3.1"/><circle cx="120.25" cy="459.04" r="3.1"/><circle cx="118.71" cy="457.09" r="3.1"/><circle cx="118.15" cy="456.31" r="3.1"/><circle cx="118.52" cy="456.49" r="3.1"/><circle cx="119.62" cy="457.51" r="3.1"/><circle cx="120.63" cy="458.64" r="3.1"/><circle cx="119.60" cy="456.58" r="3.1"/><circle cx="121.04" cy="458.49" r="3.1"/><circle cx="120.39" cy="457.52" r="3.1"/><circle cx="119.10" cy="456.16" r="3.1"/><circle cx="120.75" cy="457.26" r="3.1"/><circle cx="119.02" cy="455.62" r="3.1"/><circle cx="119.84" cy="456.46" r="3.1"/><circle cx="120.97" cy="456.36" r="3.1"/><circle cx="121.34" cy="457.13" r="3.1"/><circle cx="120.38" cy="455.78" r="3.1"/><circle cx="120.71" cy="455.85" r="3.1"/><circle cx="120.39" cy="455.65" r="3.1"/><circle cx="121.41" cy="456.33" r="3.1"/><circle cx="121.15" cy="455.68" r="3.1"/><circle cx="120.20" cy="454.76" r="3.1"/><circle cx="121.70" cy="455.50" r="3.1"/><circle cx="120.05" cy="454.38" r="3.1"/><circle cx="120.81" cy="454.89" r="3.1"/><circle cx="120.77" cy="454.87" r="3.1"/><circle cx="121.81" cy="455.07" r="3.1"/><circle cx="121.57" cy="454.25" r="3.1"/><circle cx="121.22" cy="454.10" r="3.1"/><circle cx="121.84" cy="455.09" r="3.1"/><circle cx="122.09" cy="454.52" r="3.1"/><circle cx="121.45" cy="454.14" r="3.1"/><circle cx="121.92" cy="454.50" r="3.1"/><circle cx="122.06" cy="453.58" r="3.1"/><circle cx="122.89" cy="454.31" r="3.1"/><circle cx="122.16" cy="453.83" r="3.1"/><circle cx="124.11" cy="454.98" r="3.1"/><circle cx="123.13" cy="454.50" r="3.1"/><circle cx="123.37" cy="453.78" r="3.1"/><circle cx="121.90" cy="452.47" r="3.1"/><circle cx="121.74" cy="452.54" r="3.1"/><circle cx="123.09" cy="453.80" r="3.1"/><circle cx="124.39" cy="453.87" r="3.1"/><circle cx="124.86" cy="454.36" r="3.1"/><circle cx="123.89" cy="452.86" r="3.1"/><circle cx="122.15" cy="451.96" r="3.1"/><circle cx="124.79" cy="453.30" r="3.1"/><circle cx="124.26" cy="453.48" r="3.1"/><circle cx="122.96" cy="451.56" r="3.1"/><circle cx="124.73" cy="453.11" r="3.1"/><circle cx="124.45" cy="452.73" r="3.1"/><circle cx="124.04" cy="452.46" r="3.1"/><circle cx="124.39" cy="451.72" r="3.1"/><circle cx="124.47" cy="451.77" r="3.1"/><circle cx="125.11" cy="452.87" r="3.1"/><circle cx="126.45" cy="453.03" r="3.1"/><circle cx="125.91" cy="452.96" r="3.1"/><circle cx="124.68" cy="451.20" r="3.1"/><circle cx="124.72" cy="451.36" r="3.1"/><circle cx="124.26" cy="450.71" r="3.1"/><circle cx="124.09" cy="450.77" r="3.1"/><circle cx="124.54" cy="450.94" r="3.1"/><circle cx="125.80" cy="451.55" r="3.1"/><circle cx="126.50" cy="452.00" r="3.1"/><circle cx="124.44" cy="450.29" r="3.1"/><circle cx="126.96" cy="451.45" r="3.1"/><circle cx="126.00" cy="450.97" r="3.1"/><circle cx="124.98" cy="449.37" r="3.1"/><circle cx="127.12" cy="451.40" r="3.1"/><circle cx="127.31" cy="451.17" r="3.1"/><circle cx="126.33" cy="450.01" r="3.1"/><circle cx="127.94" cy="451.18" r="3.1"/><circle cx="127.52" cy="450.67" r="3.1"/><circle cx="127.02" cy="449.95" r="3.1"/><circle cx="127.66" cy="451.27" r="3.1"/><circle cx="127.18" cy="449.63" r="3.1"/><circle cx="127.06" cy="449.78" r="3.1"/><circle cx="128.06" cy="450.49" r="3.1"/><circle cx="127.58" cy="449.45" r="3.1"/><circle cx="126.54" cy="448.70" r="3.1"/><circle cx="128.20" cy="450.44" r="3.1"/><circle cx="126.14" cy="447.76" r="3.1"/><circle cx="128.55" cy="449.62" r="3.1"/><circle cx="128.49" cy="449.75" r="3.1"/><circle cx="126.44" cy="447.98" r="3.1"/><circle cx="128.81" cy="450.08" r="3.1"/><circle cx="128.95" cy="449.65" r="3.1"/><circle cx="128.49" cy="449.12" r="3.1"/><circle cx="129.63" cy="449.76" r="3.1"/><circle cx="128.59" cy="448.28" r="3.1"/><circle cx="129.03" cy="448.67" r="3.1"/><circle cx="129.20" cy="448.44" r="3.1"/><circle cx="129.57" cy="448.88" r="3.1"/><circle cx="128.84" cy="448.01" r="3.1"/><circle cx="128.71" cy="447.60" r="3.1"/><circle cx="129.64" cy="447.95" r="3.1"/><circle cx="127.69" cy="446.18" r="3.1"/><circle cx="128.83" cy="446.88" r="3.1"/><circle cx="129.81" cy="447.75" r="3.1"/><circle cx="129.43" cy="447.30" r="3.1"/><circle cx="129.77" cy="447.36" r="3.1"/><circle cx="130.24" cy="447.92" r="3.1"/><circle cx="130.59" cy="447.66" r="3.1"/><circle cx="130.66" cy="447.32" r="3.1"/><circle cx="128.75" cy="445.32" r="3.1"/><circle cx="130.71" cy="446.77" r="3.1"/><circle cx="130.44" cy="446.95" r="3.1"/><circle cx="129.95" cy="445.94" r="3.1"/><circle cx="130.69" cy="446.30" r="3.1"/><circle cx="129.16" cy="445.19" r="3.1"/><circle cx="131.24" cy="446.84" r="3.1"/><circle cx="130.05" cy="445.20" r="3.1"/><circle cx="131.60" cy="446.78" r="3.1"/><circle cx="129.79" cy="444.22" r="3.1"/><circle cx="130.71" cy="445.08" r="3.1"/><circle cx="129.78" cy="444.61" r="3.1"/><circle cx="132.48" cy="446.54" r="3.1"/><circle cx="131.65" cy="445.44" r="3.1"/><circle cx="131.89" cy="445.76" r="3.1"/><circle cx="130.21" cy="444.33" r="3.1"/><circle cx="131.59" cy="445.37" r="3.1"/><circle cx="131.62" cy="444.55" r="3.1"/><circle cx="130.33" cy="443.09" r="3.1"/><circle cx="132.87" cy="445.66" r="3.1"/><circle cx="131.85" cy="444.26" r="3.1"/><circle cx="131.64" cy="443.48" r="3.1"/><circle cx="130.57" cy="443.10" r="3.1"/><circle cx="133.54" cy="444.87" r="3.1"/><circle cx="133.64" cy="444.76" r="3.1"/><circle cx="133.66" cy="445.00" r="3.1"/><circle cx="133.48" cy="445.12" r="3.1"/><circle cx="133.31" cy="444.02" r="3.1"/><circle cx="132.00" cy="443.09" r="3.1"/><circle cx="133.90" cy="444.65" r="3.1"/><circle cx="133.82" cy="444.50" r="3.1"/><circle cx="133.04" cy="443.28" r="3.1"/><circle cx="131.58" cy="442.13" r="3.1"/><circle cx="133.18" cy="442.91" r="3.1"/><circle cx="134.40" cy="444.09" r="3.1"/><circle cx="134.82" cy="443.69" r="3.1"/><circle cx="133.80" cy="443.43" r="3.1"/><circle cx="133.75" cy="442.67" r="3.1"/><circle cx="132.65" cy="441.21" r="3.1"/><circle cx="135.03" cy="443.04" r="3.1"/><circle cx="135.65" cy="443.67" r="3.1"/><circle cx="135.71" cy="443.38" r="3.1"/><circle cx="135.33" cy="442.84" r="3.1"/><circle cx="133.43" cy="440.85" r="3.1"/><circle cx="135.57" cy="443.09" r="3.1"/><circle cx="135.87" cy="442.82" r="3.1"/><circle cx="133.02" cy="440.11" r="3.1"/><circle cx="134.30" cy="440.96" r="3.1"/><circle cx="135.87" cy="442.58" r="3.1"/><circle cx="135.52" cy="441.62" r="3.1"/><circle cx="135.21" cy="441.54" r="3.1"/><circle cx="134.78" cy="441.11" r="3.1"/><circle cx="136.47" cy="442.46" r="3.1"/><circle cx="136.95" cy="442.24" r="3.1"/><circle cx="135.62" cy="440.83" r="3.1"/><circle cx="135.05" cy="440.70" r="3.1"/><circle cx="134.77" cy="439.39" r="3.1"/><circle cx="137.28" cy="441.99" r="3.1"/><circle cx="134.85" cy="439.49" r="3.1"/><circle cx="134.87" cy="438.99" r="3.1"/><circle cx="135.73" cy="439.37" r="3.1"/><circle cx="135.27" cy="439.08" r="3.1"/><circle cx="137.69" cy="441.32" r="3.1"/><circle cx="135.74" cy="439.18" r="3.1"/><circle cx="136.09" cy="439.50" r="3.1"/><circle cx="135.29" cy="438.65" r="3.1"/><circle cx="136.16" cy="439.06" r="3.1"/><circle cx="137.65" cy="440.72" r="3.1"/><circle cx="137.96" cy="440.52" r="3.1"/><circle cx="136.79" cy="439.49" r="3.1"/><circle cx="138.66" cy="440.20" r="3.1"/><circle cx="135.55" cy="437.44" r="3.1"/><circle cx="137.43" cy="438.84" r="3.1"/><circle cx="138.73" cy="439.94" r="3.1"/><circle cx="137.15" cy="437.78" r="3.1"/><circle cx="137.13" cy="438.00" r="3.1"/><circle cx="138.21" cy="438.41" r="3.1"/><circle cx="137.70" cy="438.20" r="3.1"/><circle cx="137.08" cy="437.45" r="3.1"/><circle cx="139.49" cy="439.36" r="3.1"/><circle cx="136.81" cy="436.85" r="3.1"/><circle cx="139.33" cy="439.33" r="3.1"/><circle cx="136.73" cy="436.65" r="3.1"/><circle cx="137.67" cy="437.35" r="3.1"/><circle cx="138.70" cy="437.22" r="3.1"/><circle cx="139.40" cy="438.34" r="3.1"/><circle cx="138.38" cy="436.88" r="3.1"/><circle cx="138.56" cy="437.04" r="3.1"/><circle cx="140.52" cy="438.47" r="3.1"/><circle cx="139.85" cy="437.60" r="3.1"/><circle cx="139.21" cy="437.18" r="3.1"/><circle cx="137.46" cy="435.25" r="3.1"/><circle cx="137.73" cy="435.12" r="3.1"/><circle cx="139.20" cy="436.54" r="3.1"/><circle cx="140.76" cy="437.34" r="3.1"/><circle cx="139.84" cy="436.39" r="3.1"/><circle cx="140.83" cy="437.21" r="3.1"/><circle cx="139.46" cy="435.42" r="3.1"/><circle cx="139.34" cy="435.48" r="3.1"/><circle cx="139.48" cy="435.21" r="3.1"/><circle cx="140.31" cy="435.75" r="3.1"/><circle cx="140.69" cy="436.53" r="3.1"/><circle cx="141.83" cy="436.40" r="3.1"/><circle cx="139.31" cy="433.96" r="3.1"/><circle cx="141.58" cy="435.90" r="3.1"/><circle cx="139.71" cy="434.25" r="3.1"/><circle cx="141.24" cy="435.97" r="3.1"/><circle cx="139.46" cy="433.09" r="3.1"/><circle cx="139.76" cy="433.77" r="3.1"/><circle cx="140.53" cy="433.79" r="3.1"/><circle cx="140.84" cy="434.75" r="3.1"/><circle cx="139.69" cy="432.99" r="3.1"/><circle cx="140.55" cy="433.50" r="3.1"/><circle cx="142.97" cy="435.78" r="3.1"/><circle cx="143.15" cy="435.96" r="3.1"/><circle cx="140.23" cy="432.51" r="3.1"/><circle cx="141.38" cy="434.02" r="3.1"/><circle cx="141.34" cy="433.24" r="3.1"/><circle cx="141.65" cy="433.24" r="3.1"/><circle cx="140.63" cy="432.32" r="3.1"/><circle cx="141.86" cy="433.20" r="3.1"/><circle cx="142.12" cy="433.07" r="3.1"/><circle cx="143.26" cy="434.64" r="3.1"/><circle cx="143.60" cy="434.77" r="3.1"/><circle cx="142.34" cy="433.07" r="3.1"/><circle cx="141.58" cy="432.30" r="3.1"/><circle cx="144.25" cy="433.86" r="3.1"/><circle cx="144.28" cy="434.25" r="3.1"/><circle cx="142.43" cy="432.05" r="3.1"/><circle cx="143.76" cy="433.57" r="3.1"/><circle cx="142.85" cy="432.38" r="3.1"/><circle cx="142.00" cy="431.35" r="3.1"/><circle cx="141.71" cy="431.13" r="3.1"/><circle cx="143.07" cy="431.92" r="3.1"/><circle cx="143.73" cy="432.17" r="3.1"/><circle cx="142.53" cy="431.11" r="3.1"/><circle cx="142.70" cy="431.23" r="3.1"/><circle cx="143.69" cy="431.09" r="3.1"/><circle cx="144.52" cy="431.65" r="3.1"/><circle cx="144.61" cy="432.07" r="3.1"/><circle cx="143.14" cy="429.76" r="3.1"/><circle cx="143.24" cy="430.50" r="3.1"/><circle cx="142.89" cy="429.80" r="3.1"/><circle cx="143.23" cy="429.96" r="3.1"/><circle cx="145.55" cy="432.04" r="3.1"/><circle cx="144.41" cy="429.95" r="3.1"/><circle cx="144.62" cy="430.91" r="3.1"/><circle cx="144.59" cy="429.80" r="3.1"/><circle cx="143.86" cy="429.89" r="3.1"/><circle cx="146.03" cy="430.88" r="3.1"/><circle cx="144.90" cy="429.36" r="3.1"/><circle cx="144.21" cy="428.71" r="3.1"/><circle cx="144.80" cy="429.54" r="3.1"/><circle cx="147.40" cy="431.37" r="3.1"/><circle cx="146.09" cy="429.81" r="3.1"/><circle cx="147.32" cy="430.78" r="3.1"/><circle cx="145.65" cy="428.95" r="3.1"/><circle cx="145.31" cy="428.92" r="3.1"/><circle cx="145.87" cy="429.62" r="3.1"/><circle cx="147.19" cy="430.14" r="3.1"/><circle cx="147.40" cy="430.38" r="3.1"/><circle cx="146.01" cy="428.58" r="3.1"/><circle cx="145.15" cy="427.74" r="3.1"/><circle cx="146.43" cy="428.76" r="3.1"/><circle cx="145.95" cy="427.87" r="3.1"/><circle cx="145.12" cy="427.40" r="3.1"/><circle cx="148.17" cy="429.93" r="3.1"/><circle cx="146.75" cy="427.99" r="3.1"/><circle cx="148.10" cy="429.48" r="3.1"/><circle cx="146.82" cy="428.06" r="3.1"/><circle cx="146.01" cy="427.26" r="3.1"/><circle cx="146.31" cy="427.28" r="3.1"/><circle cx="147.00" cy="427.04" r="3.1"/><circle cx="146.36" cy="426.09" r="3.1"/><circle cx="149.56" cy="429.19" r="3.1"/><circle cx="146.61" cy="426.06" r="3.1"/><circle cx="148.31" cy="427.49" r="3.1"/><circle cx="149.04" cy="427.92" r="3.1"/><circle cx="148.80" cy="427.30" r="3.1"/><circle cx="150.02" cy="428.69" r="3.1"/><circle cx="149.87" cy="428.13" r="3.1"/><circle cx="146.86" cy="425.37" r="3.1"/><circle cx="147.28" cy="425.84" r="3.1"/><circle cx="150.56" cy="428.13" r="3.1"/><circle cx="148.92" cy="427.15" r="3.1"/><circle cx="148.55" cy="425.69" r="3.1"/><circle cx="150.57" cy="427.73" r="3.1"/><circle cx="149.43" cy="427.06" r="3.1"/><circle cx="150.50" cy="427.87" r="3.1"/><circle cx="149.93" cy="426.83" r="3.1"/><circle cx="149.39" cy="425.76" r="3.1"/><circle cx="148.51" cy="424.46" r="3.1"/><circle cx="150.89" cy="426.77" r="3.1"/><circle cx="148.29" cy="424.51" r="3.1"/><circle cx="149.77" cy="424.89" r="3.1"/><circle cx="149.60" cy="424.84" r="3.1"/><circle cx="151.01" cy="425.66" r="3.1"/><circle cx="148.90" cy="424.18" r="3.1"/><circle cx="150.71" cy="426.04" r="3.1"/><circle cx="150.65" cy="424.83" r="3.1"/><circle cx="149.28" cy="424.11" r="3.1"/><circle cx="151.32" cy="425.83" r="3.1"/><circle cx="151.38" cy="425.64" r="3.1"/><circle cx="152.01" cy="425.64" r="3.1"/><circle cx="149.62" cy="422.83" r="3.1"/><circle cx="150.47" cy="424.02" r="3.1"/><circle cx="149.49" cy="423.00" r="3.1"/><circle cx="152.69" cy="425.83" r="3.1"/><circle cx="150.39" cy="422.90" r="3.1"/><circle cx="151.93" cy="424.69" r="3.1"/><circle cx="151.03" cy="423.31" r="3.1"/><circle cx="150.54" cy="422.71" r="3.1"/><circle cx="152.97" cy="425.23" r="3.1"/><circle cx="152.80" cy="424.35" r="3.1"/><circle cx="151.19" cy="422.58" r="3.1"/><circle cx="154.03" cy="424.64" r="3.1"/><circle cx="152.31" cy="423.25" r="3.1"/><circle cx="153.20" cy="424.21" r="3.1"/><circle cx="153.42" cy="423.82" r="3.1"/><circle cx="150.85" cy="421.55" r="3.1"/><circle cx="152.97" cy="423.33" r="3.1"/><circle cx="154.07" cy="424.47" r="3.1"/><circle cx="152.01" cy="421.24" r="3.1"/><circle cx="154.26" cy="424.17" r="3.1"/><circle cx="153.02" cy="422.53" r="3.1"/><circle cx="154.18" cy="422.80" r="3.1"/><circle cx="154.10" cy="423.26" r="3.1"/><circle cx="151.88" cy="420.47" r="3.1"/><circle cx="152.80" cy="421.09" r="3.1"/><circle cx="155.44" cy="423.06" r="3.1"/><circle cx="155.12" cy="423.37" r="3.1"/><circle cx="153.96" cy="421.38" r="3.1"/><circle cx="151.90" cy="420.13" r="3.1"/><circle cx="154.92" cy="422.80" r="3.1"/><circle cx="155.53" cy="422.17" r="3.1"/><circle cx="155.61" cy="422.46" r="3.1"/><circle cx="155.03" cy="422.28" r="3.1"/><circle cx="154.96" cy="421.74" r="3.1"/><circle cx="154.46" cy="420.37" r="3.1"/><circle cx="154.42" cy="420.50" r="3.1"/><circle cx="155.23" cy="421.46" r="3.1"/><circle cx="154.73" cy="420.54" r="3.1"/><circle cx="153.21" cy="419.09" r="3.1"/><circle cx="156.39" cy="422.08" r="3.1"/><circle cx="155.53" cy="420.87" r="3.1"/><circle cx="155.71" cy="420.11" r="3.1"/><circle cx="154.46" cy="419.02" r="3.1"/><circle cx="154.34" cy="418.39" r="3.1"/><circle cx="157.12" cy="421.03" r="3.1"/><circle cx="156.83" cy="420.86" r="3.1"/><circle cx="155.92" cy="419.94" r="3.1"/><circle cx="157.23" cy="421.07" r="3.1"/><circle cx="155.35" cy="418.23" r="3.1"/><circle cx="154.21" cy="417.96" r="3.1"/><circle cx="155.63" cy="418.93" r="3.1"/><circle cx="156.10" cy="418.79" r="3.1"/><circle cx="157.26" cy="420.18" r="3.1"/><circle cx="156.19" cy="418.99" r="3.1"/><circle cx="155.45" cy="417.15" r="3.1"/><circle cx="158.50" cy="419.95" r="3.1"/><circle cx="155.19" cy="417.43" r="3.1"/><circle cx="156.45" cy="417.94" r="3.1"/><circle cx="158.24" cy="419.06" r="3.1"/><circle cx="156.92" cy="417.60" r="3.1"/><circle cx="155.76" cy="416.12" r="3.1"/><circle cx="156.81" cy="417.01" r="3.1"/><circle cx="158.80" cy="419.29" r="3.1"/><circle cx="157.50" cy="417.66" r="3.1"/><circle cx="158.16" cy="417.74" r="3.1"/><circle cx="157.50" cy="416.87" r="3.1"/><circle cx="158.16" cy="417.19" r="3.1"/><circle cx="158.61" cy="417.36" r="3.1"/><circle cx="157.61" cy="416.87" r="3.1"/><circle cx="157.36" cy="416.73" r="3.1"/><circle cx="157.49" cy="416.11" r="3.1"/><circle cx="156.87" cy="415.89" r="3.1"/><circle cx="158.67" cy="416.83" r="3.1"/><circle cx="160.18" cy="417.87" r="3.1"/><circle cx="157.14" cy="414.91" r="3.1"/><circle cx="157.91" cy="415.09" r="3.1"/><circle cx="158.91" cy="416.31" r="3.1"/><circle cx="157.52" cy="414.60" r="3.1"/><circle cx="159.82" cy="416.67" r="3.1"/><circle cx="158.26" cy="414.70" r="3.1"/><circle cx="160.33" cy="417.21" r="3.1"/><circle cx="158.69" cy="414.84" r="3.1"/><circle cx="158.51" cy="414.71" r="3.1"/><circle cx="160.14" cy="415.54" r="3.1"/><circle cx="160.35" cy="416.27" r="3.1"/><circle cx="161.19" cy="417.09" r="3.1"/><circle cx="159.40" cy="414.54" r="3.1"/><circle cx="161.04" cy="415.81" r="3.1"/><circle cx="161.12" cy="416.08" r="3.1"/><circle cx="159.73" cy="414.11" r="3.1"/><circle cx="160.53" cy="414.62" r="3.1"/><circle cx="160.48" cy="414.53" r="3.1"/><circle cx="159.20" cy="413.21" r="3.1"/><circle cx="160.50" cy="413.84" r="3.1"/><circle cx="162.05" cy="416.12" r="3.1"/><circle cx="162.31" cy="415.83" r="3.1"/><circle cx="160.73" cy="413.78" r="3.1"/><circle cx="159.97" cy="413.52" r="3.1"/><circle cx="159.48" cy="412.60" r="3.1"/><circle cx="159.30" cy="412.10" r="3.1"/><circle cx="160.06" cy="412.21" r="3.1"/><circle cx="163.09" cy="415.11" r="3.1"/><circle cx="162.09" cy="413.42" r="3.1"/><circle cx="162.46" cy="414.23" r="3.1"/><circle cx="162.57" cy="414.55" r="3.1"/><circle cx="161.66" cy="412.80" r="3.1"/><circle cx="163.28" cy="413.89" r="3.1"/><circle cx="163.21" cy="413.51" r="3.1"/><circle cx="161.66" cy="411.79" r="3.1"/><circle cx="162.56" cy="412.59" r="3.1"/><circle cx="161.98" cy="411.96" r="3.1"/><circle cx="162.69" cy="412.66" r="3.1"/><circle cx="163.22" cy="413.14" r="3.1"/><circle cx="160.74" cy="410.87" r="3.1"/><circle cx="161.56" cy="410.71" r="3.1"/><circle cx="163.99" cy="413.15" r="3.1"/><circle cx="161.63" cy="410.62" r="3.1"/><circle cx="162.95" cy="411.67" r="3.1"/><circle cx="164.57" cy="412.47" r="3.1"/><circle cx="162.14" cy="410.73" r="3.1"/><circle cx="163.97" cy="411.79" r="3.1"/><circle cx="162.03" cy="409.92" r="3.1"/><circle cx="164.21" cy="411.99" r="3.1"/><circle cx="163.64" cy="410.66" r="3.1"/><circle cx="162.78" cy="410.37" r="3.1"/><circle cx="165.68" cy="412.44" r="3.1"/><circle cx="164.99" cy="411.34" r="3.1"/><circle cx="165.55" cy="411.53" r="3.1"/><circle cx="162.85" cy="409.58" r="3.1"/><circle cx="166.20" cy="411.93" r="3.1"/><circle cx="165.58" cy="411.87" r="3.1"/><circle cx="164.67" cy="410.78" r="3.1"/><circle cx="166.07" cy="411.48" r="3.1"/><circle cx="164.20" cy="409.24" r="3.1"/><circle cx="166.14" cy="411.69" r="3.1"/><circle cx="165.07" cy="409.70" r="3.1"/><circle cx="166.08" cy="410.62" r="3.1"/><circle cx="166.72" cy="410.68" r="3.1"/><circle cx="163.98" cy="407.83" r="3.1"/><circle cx="165.43" cy="409.94" r="3.1"/><circle cx="164.12" cy="408.10" r="3.1"/><circle cx="165.98" cy="409.67" r="3.1"/><circle cx="164.89" cy="408.10" r="3.1"/><circle cx="165.77" cy="409.23" r="3.1"/><circle cx="166.83" cy="410.27" r="3.1"/><circle cx="164.38" cy="406.73" r="3.1"/><circle cx="167.65" cy="410.04" r="3.1"/><circle cx="164.33" cy="406.69" r="3.1"/><circle cx="164.20" cy="406.85" r="3.1"/><circle cx="165.64" cy="407.23" r="3.1"/><circle cx="167.67" cy="409.66" r="3.1"/><circle cx="164.66" cy="406.56" r="3.1"/><circle cx="166.38" cy="407.24" r="3.1"/><circle cx="166.05" cy="406.87" r="3.1"/><circle cx="167.75" cy="408.19" r="3.1"/><circle cx="168.20" cy="408.92" r="3.1"/><circle cx="167.16" cy="407.38" r="3.1"/><circle cx="168.62" cy="409.26" r="3.1"/><circle cx="167.52" cy="407.92" r="3.1"/><circle cx="165.75" cy="405.71" r="3.1"/><circle cx="167.05" cy="406.76" r="3.1"/><circle cx="166.42" cy="405.40" r="3.1"/><circle cx="165.90" cy="405.63" r="3.1"/><circle cx="167.47" cy="406.15" r="3.1"/><circle cx="166.31" cy="405.08" r="3.1"/><circle cx="167.88" cy="406.78" r="3.1"/><circle cx="169.62" cy="408.40" r="3.1"/><circle cx="169.10" cy="406.93" r="3.1"/><circle cx="168.64" cy="406.49" r="3.1"/><circle cx="169.47" cy="406.59" r="3.1"/><circle cx="166.77" cy="404.60" r="3.1"/><circle cx="168.78" cy="406.48" r="3.1"/><circle cx="168.92" cy="406.25" r="3.1"/><circle cx="167.83" cy="404.93" r="3.1"/><circle cx="167.93" cy="405.14" r="3.1"/><circle cx="168.29" cy="404.60" r="3.1"/><circle cx="170.02" cy="405.89" r="3.1"/><circle cx="168.06" cy="403.67" r="3.1"/><circle cx="168.54" cy="404.44" r="3.1"/><circle cx="169.23" cy="404.53" r="3.1"/><circle cx="170.40" cy="405.30" r="3.1"/><circle cx="168.65" cy="403.64" r="3.1"/><circle cx="168.51" cy="404.00" r="3.1"/><circle cx="168.63" cy="403.48" r="3.1"/><circle cx="169.32" cy="403.70" r="3.1"/><circle cx="170.44" cy="404.46" r="3.1"/><circle cx="169.08" cy="402.68" r="3.1"/><circle cx="172.24" cy="405.57" r="3.1"/><circle cx="169.38" cy="402.99" r="3.1"/><circle cx="169.39" cy="403.07" r="3.1"/><circle cx="170.65" cy="404.39" r="3.1"/><circle cx="169.24" cy="402.00" r="3.1"/><circle cx="170.76" cy="403.45" r="3.1"/><circle cx="169.48" cy="402.53" r="3.1"/><circle cx="170.83" cy="402.98" r="3.1"/><circle cx="171.03" cy="402.69" r="3.1"/><circle cx="172.17" cy="403.89" r="3.1"/><circle cx="170.19" cy="402.12" r="3.1"/><circle cx="169.71" cy="401.44" r="3.1"/><circle cx="172.60" cy="404.24" r="3.1"/><circle cx="172.25" cy="402.80" r="3.1"/><circle cx="170.39" cy="400.93" r="3.1"/><circle cx="171.20" cy="401.92" r="3.1"/><circle cx="171.44" cy="401.83" r="3.1"/><circle cx="170.28" cy="400.76" r="3.1"/><circle cx="172.63" cy="402.41" r="3.1"/><circle cx="171.23" cy="400.87" r="3.1"/><circle cx="173.63" cy="403.06" r="3.1"/><circle cx="173.14" cy="402.78" r="3.1"/><circle cx="173.15" cy="402.87" r="3.1"/><circle cx="174.11" cy="402.85" r="3.1"/><circle cx="171.44" cy="400.73" r="3.1"/><circle cx="171.19" cy="399.89" r="3.1"/><circle cx="171.66" cy="400.59" r="3.1"/><circle cx="174.75" cy="402.47" r="3.1"/><circle cx="174.36" cy="402.75" r="3.1"/><circle cx="172.43" cy="400.70" r="3.1"/><circle cx="173.84" cy="400.99" r="3.1"/><circle cx="175.05" cy="401.90" r="3.1"/><circle cx="172.34" cy="398.97" r="3.1"/><circle cx="173.43" cy="399.97" r="3.1"/><circle cx="175.05" cy="401.58" r="3.1"/><circle cx="172.72" cy="398.83" r="3.1"/><circle cx="175.35" cy="401.17" r="3.1"/><circle cx="174.46" cy="400.46" r="3.1"/><circle cx="173.21" cy="398.89" r="3.1"/><circle cx="175.12" cy="400.30" r="3.1"/><circle cx="173.01" cy="398.14" r="3.1"/><circle cx="175.86" cy="401.52" r="3.1"/><circle cx="174.11" cy="399.55" r="3.1"/><circle cx="176.41" cy="400.67" r="3.1"/><circle cx="176.33" cy="401.04" r="3.1"/><circle cx="175.86" cy="399.67" r="3.1"/><circle cx="173.57" cy="397.45" r="3.1"/><circle cx="175.07" cy="399.40" r="3.1"/><circle cx="173.41" cy="397.50" r="3.1"/><circle cx="174.98" cy="398.18" r="3.1"/><circle cx="175.62" cy="398.46" r="3.1"/><circle cx="173.89" cy="397.19" r="3.1"/><circle cx="174.67" cy="398.02" r="3.1"/><circle cx="176.10" cy="398.53" r="3.1"/><circle cx="176.59" cy="399.13" r="3.1"/><circle cx="174.87" cy="397.46" r="3.1"/><circle cx="174.35" cy="396.84" r="3.1"/><circle cx="177.22" cy="398.84" r="3.1"/><circle cx="177.43" cy="398.57" r="3.1"/><circle cx="176.68" cy="398.44" r="3.1"/><circle cx="175.84" cy="397.10" r="3.1"/><circle cx="175.93" cy="397.33" r="3.1"/><circle cx="178.17" cy="399.06" r="3.1"/><circle cx="176.57" cy="397.43" r="3.1"/><circle cx="178.12" cy="398.00" r="3.1"/><circle cx="177.84" cy="398.06" r="3.1"/><circle cx="176.06" cy="395.44" r="3.1"/><circle cx="176.04" cy="396.17" r="3.1"/><circle cx="176.15" cy="396.11" r="3.1"/><circle cx="176.23" cy="395.78" r="3.1"/><circle cx="178.48" cy="397.55" r="3.1"/><circle cx="178.99" cy="397.56" r="3.1"/><circle cx="176.67" cy="395.15" r="3.1"/><circle cx="176.59" cy="395.42" r="3.1"/><circle cx="178.93" cy="396.70" r="3.1"/><circle cx="178.79" cy="396.46" r="3.1"/><circle cx="177.72" cy="395.89" r="3.1"/><circle cx="179.47" cy="396.49" r="3.1"/><circle cx="176.98" cy="394.28" r="3.1"/><circle cx="179.91" cy="397.49" r="3.1"/><circle cx="177.18" cy="393.83" r="3.1"/><circle cx="177.84" cy="394.84" r="3.1"/><circle cx="177.09" cy="394.13" r="3.1"/><circle cx="178.32" cy="394.41" r="3.1"/><circle cx="179.61" cy="395.30" r="3.1"/><circle cx="180.43" cy="395.71" r="3.1"/><circle cx="177.57" cy="393.47" r="3.1"/><circle cx="180.06" cy="395.12" r="3.1"/><circle cx="180.00" cy="395.09" r="3.1"/><circle cx="179.07" cy="393.61" r="3.1"/><circle cx="178.59" cy="393.68" r="3.1"/><circle cx="179.99" cy="395.03" r="3.1"/><circle cx="178.93" cy="392.96" r="3.1"/><circle cx="180.87" cy="395.01" r="3.1"/><circle cx="180.44" cy="394.60" r="3.1"/><circle cx="181.83" cy="395.37" r="3.1"/><circle cx="178.47" cy="392.44" r="3.1"/><circle cx="179.59" cy="392.64" r="3.1"/><circle cx="180.51" cy="393.21" r="3.1"/><circle cx="180.88" cy="393.61" r="3.1"/><circle cx="181.97" cy="394.96" r="3.1"/><circle cx="180.63" cy="392.72" r="3.1"/><circle cx="181.18" cy="392.94" r="3.1"/><circle cx="180.93" cy="393.07" r="3.1"/><circle cx="180.30" cy="391.70" r="3.1"/><circle cx="179.86" cy="391.35" r="3.1"/><circle cx="182.16" cy="393.73" r="3.1"/><circle cx="180.92" cy="392.64" r="3.1"/><circle cx="182.34" cy="392.95" r="3.1"/><circle cx="182.53" cy="393.08" r="3.1"/><circle cx="182.17" cy="393.10" r="3.1"/><circle cx="182.27" cy="392.78" r="3.1"/><circle cx="182.56" cy="392.86" r="3.1"/><circle cx="180.59" cy="390.49" r="3.1"/><circle cx="181.98" cy="391.95" r="3.1"/><circle cx="183.10" cy="392.22" r="3.1"/><circle cx="182.69" cy="392.34" r="3.1"/><circle cx="182.90" cy="391.75" r="3.1"/><circle cx="181.18" cy="389.73" r="3.1"/><circle cx="182.46" cy="391.47" r="3.1"/><circle cx="181.14" cy="390.15" r="3.1"/><circle cx="182.81" cy="390.50" r="3.1"/><circle cx="183.58" cy="391.53" r="3.1"/><circle cx="183.67" cy="391.52" r="3.1"/><circle cx="184.56" cy="391.94" r="3.1"/><circle cx="182.35" cy="390.17" r="3.1"/><circle cx="184.90" cy="392.26" r="3.1"/><circle cx="183.92" cy="390.92" r="3.1"/><circle cx="182.84" cy="389.59" r="3.1"/><circle cx="185.01" cy="391.99" r="3.1"/><circle cx="183.78" cy="390.45" r="3.1"/><circle cx="182.95" cy="388.82" r="3.1"/><circle cx="183.00" cy="388.80" r="3.1"/><circle cx="185.24" cy="390.53" r="3.1"/><circle cx="184.73" cy="390.53" r="3.1"/><circle cx="185.81" cy="391.11" r="3.1"/><circle cx="182.94" cy="387.84" r="3.1"/><circle cx="183.88" cy="388.87" r="3.1"/><circle cx="185.05" cy="389.18" r="3.1"/><circle cx="182.91" cy="387.58" r="3.1"/><circle cx="184.50" cy="388.72" r="3.1"/><circle cx="185.94" cy="389.85" r="3.1"/><circle cx="186.59" cy="389.95" r="3.1"/><circle cx="185.53" cy="388.89" r="3.1"/><circle cx="184.12" cy="387.81" r="3.1"/><circle cx="184.07" cy="386.72" r="3.1"/><circle cx="185.25" cy="388.65" r="3.1"/><circle cx="185.16" cy="387.69" r="3.1"/><circle cx="186.76" cy="388.89" r="3.1"/><circle cx="186.36" cy="388.87" r="3.1"/><circle cx="187.33" cy="389.19" r="3.1"/><circle cx="185.19" cy="386.87" r="3.1"/><circle cx="186.61" cy="388.45" r="3.1"/><circle cx="187.50" cy="389.22" r="3.1"/><circle cx="186.94" cy="388.45" r="3.1"/><circle cx="187.87" cy="388.91" r="3.1"/><circle cx="188.14" cy="388.85" r="3.1"/><circle cx="188.20" cy="388.83" r="3.1"/><circle cx="187.87" cy="388.55" r="3.1"/><circle cx="185.89" cy="386.56" r="3.1"/><circle cx="186.04" cy="385.83" r="3.1"/><circle cx="186.54" cy="386.26" r="3.1"/><circle cx="186.20" cy="386.07" r="3.1"/><circle cx="187.26" cy="387.10" r="3.1"/><circle cx="188.94" cy="388.05" r="3.1"/><circle cx="187.28" cy="385.65" r="3.1"/><circle cx="186.13" cy="385.36" r="3.1"/><circle cx="186.16" cy="384.80" r="3.1"/><circle cx="187.83" cy="386.45" r="3.1"/><circle cx="189.18" cy="387.20" r="3.1"/><circle cx="187.98" cy="385.41" r="3.1"/><circle cx="187.32" cy="385.30" r="3.1"/><circle cx="188.00" cy="385.05" r="3.1"/><circle cx="188.98" cy="386.36" r="3.1"/><circle cx="189.42" cy="385.83" r="3.1"/><circle cx="189.71" cy="386.27" r="3.1"/><circle cx="189.15" cy="385.42" r="3.1"/><circle cx="188.51" cy="385.16" r="3.1"/><circle cx="187.58" cy="383.73" r="3.1"/><circle cx="190.32" cy="386.47" r="3.1"/><circle cx="189.99" cy="385.84" r="3.1"/><circle cx="190.29" cy="385.56" r="3.1"/><circle cx="188.76" cy="384.18" r="3.1"/><circle cx="190.17" cy="385.05" r="3.1"/><circle cx="189.96" cy="384.49" r="3.1"/><circle cx="188.40" cy="382.86" r="3.1"/><circle cx="188.03" cy="382.75" r="3.1"/><circle cx="188.48" cy="382.86" r="3.1"/><circle cx="188.68" cy="382.61" r="3.1"/><circle cx="190.50" cy="384.51" r="3.1"/><circle cx="188.82" cy="382.48" r="3.1"/><circle cx="191.32" cy="384.54" r="3.1"/><circle cx="191.17" cy="384.77" r="3.1"/><circle cx="191.28" cy="383.87" r="3.1"/><circle cx="191.60" cy="383.88" r="3.1"/><circle cx="191.97" cy="384.60" r="3.1"/><circle cx="192.39" cy="384.40" r="3.1"/><circle cx="190.52" cy="382.32" r="3.1"/><circle cx="190.03" cy="381.50" r="3.1"/><circle cx="191.13" cy="382.94" r="3.1"/><circle cx="190.69" cy="382.19" r="3.1"/><circle cx="192.14" cy="383.41" r="3.1"/><circle cx="191.84" cy="382.42" r="3.1"/><circle cx="192.88" cy="383.38" r="3.1"/><circle cx="191.02" cy="381.20" r="3.1"/><circle cx="191.47" cy="381.65" r="3.1"/><circle cx="193.13" cy="382.84" r="3.1"/><circle cx="193.32" cy="383.10" r="3.1"/><circle cx="193.02" cy="383.02" r="3.1"/><circle cx="191.31" cy="381.03" r="3.1"/><circle cx="191.33" cy="381.02" r="3.1"/><circle cx="193.45" cy="382.68" r="3.1"/><circle cx="192.46" cy="381.03" r="3.1"/><circle cx="191.14" cy="380.04" r="3.1"/><circle cx="191.10" cy="379.59" r="3.1"/><circle cx="193.66" cy="381.88" r="3.1"/><circle cx="192.28" cy="380.08" r="3.1"/><circle cx="194.34" cy="381.59" r="3.1"/><circle cx="192.47" cy="380.68" r="3.1"/><circle cx="193.92" cy="380.94" r="3.1"/><circle cx="194.49" cy="381.85" r="3.1"/><circle cx="192.46" cy="379.91" r="3.1"/><circle cx="192.69" cy="379.41" r="3.1"/><circle cx="194.38" cy="380.57" r="3.1"/><circle cx="194.78" cy="381.43" r="3.1"/><circle cx="192.86" cy="378.94" r="3.1"/><circle cx="194.63" cy="380.65" r="3.1"/><circle cx="192.56" cy="378.71" r="3.1"/><circle cx="195.39" cy="380.84" r="3.1"/><circle cx="195.14" cy="380.20" r="3.1"/><circle cx="194.84" cy="380.25" r="3.1"/><circle cx="194.17" cy="378.55" r="3.1"/><circle cx="194.49" cy="378.64" r="3.1"/><circle cx="193.04" cy="377.29" r="3.1"/><circle cx="194.29" cy="378.69" r="3.1"/><circle cx="196.08" cy="380.02" r="3.1"/><circle cx="195.88" cy="379.58" r="3.1"/><circle cx="195.16" cy="378.70" r="3.1"/><circle cx="194.80" cy="378.15" r="3.1"/><circle cx="193.77" cy="376.96" r="3.1"/><circle cx="196.67" cy="379.15" r="3.1"/><circle cx="194.47" cy="377.43" r="3.1"/><circle cx="195.65" cy="378.12" r="3.1"/><circle cx="195.98" cy="378.11" r="3.1"/><circle cx="193.79" cy="376.50" r="3.1"/><circle cx="194.67" cy="376.10" r="3.1"/><circle cx="194.66" cy="376.46" r="3.1"/><circle cx="195.41" cy="376.96" r="3.1"/><circle cx="196.27" cy="377.92" r="3.1"/><circle cx="197.11" cy="378.15" r="3.1"/><circle cx="196.80" cy="377.95" r="3.1"/><circle cx="195.90" cy="376.81" r="3.1"/><circle cx="195.18" cy="376.13" r="3.1"/><circle cx="197.41" cy="377.67" r="3.1"/><circle cx="197.78" cy="377.36" r="3.1"/><circle cx="196.57" cy="376.86" r="3.1"/><circle cx="197.95" cy="377.26" r="3.1"/><circle cx="197.49" cy="377.06" r="3.1"/><circle cx="197.75" cy="377.42" r="3.1"/><circle cx="196.28" cy="375.46" r="3.1"/><circle cx="197.91" cy="377.05" r="3.1"/><circle cx="197.52" cy="375.78" r="3.1"/><circle cx="196.33" cy="374.22" r="3.1"/><circle cx="199.15" cy="377.18" r="3.1"/><circle cx="197.80" cy="375.62" r="3.1"/><circle cx="198.30" cy="375.47" r="3.1"/><circle cx="197.60" cy="375.15" r="3.1"/><circle cx="196.57" cy="373.88" r="3.1"/><circle cx="199.77" cy="376.59" r="3.1"/><circle cx="196.85" cy="373.58" r="3.1"/><circle cx="199.49" cy="375.67" r="3.1"/><circle cx="200.11" cy="376.05" r="3.1"/><circle cx="199.90" cy="375.65" r="3.1"/><circle cx="199.48" cy="375.81" r="3.1"/><circle cx="199.55" cy="375.27" r="3.1"/><circle cx="198.27" cy="373.83" r="3.1"/><circle cx="200.57" cy="375.34" r="3.1"/><circle cx="197.93" cy="373.26" r="3.1"/><circle cx="200.59" cy="375.54" r="3.1"/><circle cx="198.07" cy="372.34" r="3.1"/><circle cx="200.27" cy="375.05" r="3.1"/><circle cx="197.90" cy="372.44" r="3.1"/><circle cx="199.22" cy="372.83" r="3.1"/><circle cx="198.84" cy="372.40" r="3.1"/><circle cx="199.62" cy="372.93" r="3.1"/><circle cx="200.96" cy="373.90" r="3.1"/><circle cx="200.71" cy="374.31" r="3.1"/><circle cx="199.54" cy="372.03" r="3.1"/><circle cx="199.48" cy="372.17" r="3.1"/><circle cx="201.63" cy="374.12" r="3.1"/><circle cx="201.46" cy="373.74" r="3.1"/><circle cx="200.62" cy="373.17" r="3.1"/><circle cx="200.66" cy="372.28" r="3.1"/><circle cx="199.87" cy="372.05" r="3.1"/><circle cx="199.72" cy="370.82" r="3.1"/><circle cx="201.66" cy="372.40" r="3.1"/><circle cx="201.97" cy="373.13" r="3.1"/><circle cx="199.87" cy="371.27" r="3.1"/><circle cx="201.32" cy="372.53" r="3.1"/><circle cx="202.19" cy="372.77" r="3.1"/><circle cx="200.50" cy="370.66" r="3.1"/><circle cx="203.00" cy="372.64" r="3.1"/><circle cx="200.77" cy="370.85" r="3.1"/><circle cx="202.93" cy="372.23" r="3.1"/><circle cx="200.37" cy="370.16" r="3.1"/><circle cx="202.43" cy="371.78" r="3.1"/><circle cx="200.40" cy="369.96" r="3.1"/><circle cx="203.52" cy="372.57" r="3.1"/><circle cx="202.68" cy="370.70" r="3.1"/><circle cx="204.01" cy="371.94" r="3.1"/><circle cx="202.65" cy="370.34" r="3.1"/><circle cx="201.30" cy="369.04" r="3.1"/><circle cx="203.72" cy="370.92" r="3.1"/><circle cx="204.60" cy="371.47" r="3.1"/><circle cx="203.07" cy="370.60" r="3.1"/><circle cx="201.85" cy="368.98" r="3.1"/><circle cx="203.38" cy="370.44" r="3.1"/><circle cx="203.35" cy="370.27" r="3.1"/><circle cx="203.25" cy="369.76" r="3.1"/><circle cx="203.90" cy="370.65" r="3.1"/><circle cx="204.78" cy="370.42" r="3.1"/><circle cx="203.25" cy="368.60" r="3.1"/><circle cx="205.07" cy="370.12" r="3.1"/><circle cx="202.59" cy="368.19" r="3.1"/><circle cx="202.84" cy="367.52" r="3.1"/><circle cx="203.04" cy="367.98" r="3.1"/><circle cx="202.85" cy="368.03" r="3.1"/><circle cx="205.21" cy="370.08" r="3.1"/><circle cx="204.04" cy="367.86" r="3.1"/><circle cx="205.23" cy="369.69" r="3.1"/><circle cx="203.62" cy="367.14" r="3.1"/><circle cx="205.58" cy="369.73" r="3.1"/><circle cx="205.35" cy="369.04" r="3.1"/><circle cx="206.21" cy="369.79" r="3.1"/><circle cx="203.75" cy="367.33" r="3.1"/><circle cx="205.37" cy="367.94" r="3.1"/><circle cx="204.46" cy="367.32" r="3.1"/><circle cx="206.40" cy="368.83" r="3.1"/><circle cx="205.82" cy="368.05" r="3.1"/><circle cx="206.15" cy="368.12" r="3.1"/><circle cx="203.92" cy="366.32" r="3.1"/><circle cx="206.75" cy="367.87" r="3.1"/><circle cx="206.00" cy="367.02" r="3.1"/><circle cx="207.49" cy="368.00" r="3.1"/><circle cx="207.71" cy="368.23" r="3.1"/><circle cx="207.04" cy="367.47" r="3.1"/><circle cx="205.47" cy="365.74" r="3.1"/><circle cx="204.84" cy="365.50" r="3.1"/><circle cx="205.47" cy="365.46" r="3.1"/><circle cx="207.36" cy="367.49" r="3.1"/><circle cx="208.12" cy="367.25" r="3.1"/><circle cx="207.20" cy="366.78" r="3.1"/><circle cx="208.18" cy="367.00" r="3.1"/><circle cx="206.65" cy="366.00" r="3.1"/><circle cx="206.22" cy="365.02" r="3.1"/><circle cx="206.43" cy="364.82" r="3.1"/><circle cx="207.42" cy="365.94" r="3.1"/><circle cx="206.05" cy="364.63" r="3.1"/><circle cx="208.89" cy="366.37" r="3.1"/><circle cx="207.28" cy="364.56" r="3.1"/><circle cx="207.65" cy="364.63" r="3.1"/><circle cx="207.77" cy="365.57" r="3.1"/><circle cx="207.29" cy="364.69" r="3.1"/><circle cx="208.27" cy="365.29" r="3.1"/><circle cx="208.65" cy="365.28" r="3.1"/><circle cx="207.70" cy="364.66" r="3.1"/><circle cx="207.08" cy="363.56" r="3.1"/><circle cx="207.65" cy="363.90" r="3.1"/><circle cx="209.57" cy="365.53" r="3.1"/><circle cx="209.34" cy="365.14" r="3.1"/><circle cx="208.35" cy="363.57" r="3.1"/><circle cx="209.87" cy="364.78" r="3.1"/><circle cx="208.42" cy="363.80" r="3.1"/><circle cx="208.58" cy="363.86" r="3.1"/><circle cx="208.56" cy="363.40" r="3.1"/><circle cx="209.24" cy="363.10" r="3.1"/><circle cx="208.79" cy="362.89" r="3.1"/><circle cx="209.13" cy="363.34" r="3.1"/><circle cx="209.42" cy="363.63" r="3.1"/><circle cx="209.96" cy="362.92" r="3.1"/><circle cx="209.91" cy="362.91" r="3.1"/><circle cx="208.75" cy="361.80" r="3.1"/><circle cx="211.34" cy="363.59" r="3.1"/><circle cx="210.03" cy="362.76" r="3.1"/><circle cx="211.59" cy="363.71" r="3.1"/><circle cx="209.31" cy="361.55" r="3.1"/><circle cx="211.43" cy="363.16" r="3.1"/><circle cx="211.32" cy="363.25" r="3.1"/><circle cx="211.38" cy="362.90" r="3.1"/><circle cx="210.31" cy="361.64" r="3.1"/><circle cx="211.64" cy="363.05" r="3.1"/><circle cx="211.73" cy="362.63" r="3.1"/><circle cx="209.77" cy="360.40" r="3.1"/><circle cx="209.87" cy="360.91" r="3.1"/><circle cx="212.62" cy="362.82" r="3.1"/><circle cx="212.02" cy="362.27" r="3.1"/><circle cx="210.55" cy="360.93" r="3.1"/><circle cx="210.41" cy="360.24" r="3.1"/><circle cx="211.13" cy="361.12" r="3.1"/><circle cx="213.10" cy="362.09" r="3.1"/><circle cx="213.25" cy="362.07" r="3.1"/><circle cx="212.39" cy="361.41" r="3.1"/><circle cx="210.96" cy="359.23" r="3.1"/><circle cx="212.65" cy="361.16" r="3.1"/><circle cx="212.64" cy="361.24" r="3.1"/><circle cx="211.17" cy="359.04" r="3.1"/><circle cx="211.83" cy="359.71" r="3.1"/><circle cx="213.48" cy="360.85" r="3.1"/><circle cx="213.63" cy="360.47" r="3.1"/><circle cx="211.79" cy="358.45" r="3.1"/><circle cx="213.58" cy="360.70" r="3.1"/><circle cx="211.95" cy="358.75" r="3.1"/><circle cx="213.05" cy="359.31" r="3.1"/><circle cx="214.00" cy="360.28" r="3.1"/><circle cx="214.22" cy="360.76" r="3.1"/><circle cx="212.21" cy="357.89" r="3.1"/><circle cx="213.01" cy="359.01" r="3.1"/><circle cx="214.42" cy="359.35" r="3.1"/><circle cx="212.41" cy="357.54" r="3.1"/><circle cx="212.58" cy="357.77" r="3.1"/><circle cx="213.09" cy="357.68" r="3.1"/><circle cx="215.04" cy="359.11" r="3.1"/><circle cx="215.36" cy="359.93" r="3.1"/><circle cx="214.50" cy="358.16" r="3.1"/><circle cx="214.54" cy="358.91" r="3.1"/><circle cx="213.92" cy="357.50" r="3.1"/><circle cx="215.71" cy="358.97" r="3.1"/><circle cx="214.92" cy="358.31" r="3.1"/><circle cx="213.72" cy="356.50" r="3.1"/><circle cx="213.65" cy="356.38" r="3.1"/><circle cx="215.21" cy="358.01" r="3.1"/><circle cx="215.82" cy="358.73" r="3.1"/><circle cx="214.95" cy="357.59" r="3.1"/><circle cx="214.89" cy="357.27" r="3.1"/><circle cx="215.59" cy="356.97" r="3.1"/><circle cx="215.81" cy="356.94" r="3.1"/><circle cx="215.93" cy="357.72" r="3.1"/><circle cx="215.08" cy="356.38" r="3.1"/><circle cx="215.37" cy="356.29" r="3.1"/><circle cx="216.00" cy="356.91" r="3.1"/><circle cx="217.04" cy="357.01" r="3.1"/><circle cx="216.89" cy="357.24" r="3.1"/><circle cx="215.31" cy="355.14" r="3.1"/><circle cx="215.06" cy="354.91" r="3.1"/><circle cx="217.20" cy="356.47" r="3.1"/><circle cx="217.94" cy="356.88" r="3.1"/><circle cx="216.86" cy="355.94" r="3.1"/><circle cx="215.67" cy="354.77" r="3.1"/><circle cx="216.15" cy="354.67" r="3.1"/><circle cx="217.13" cy="355.32" r="3.1"/><circle cx="217.53" cy="356.32" r="3.1"/><circle cx="216.76" cy="354.64" r="3.1"/><circle cx="217.22" cy="355.76" r="3.1"/><circle cx="217.39" cy="355.49" r="3.1"/><circle cx="218.42" cy="356.33" r="3.1"/><circle cx="217.21" cy="354.74" r="3.1"/><circle cx="216.71" cy="354.23" r="3.1"/><circle cx="217.36" cy="354.58" r="3.1"/><circle cx="218.25" cy="355.36" r="3.1"/><circle cx="217.20" cy="354.01" r="3.1"/><circle cx="217.72" cy="353.85" r="3.1"/><circle cx="218.12" cy="354.05" r="3.1"/><circle cx="217.57" cy="353.94" r="3.1"/><circle cx="217.67" cy="353.36" r="3.1"/><circle cx="217.44" cy="353.38" r="3.1"/><circle cx="219.85" cy="354.88" r="3.1"/><circle cx="219.47" cy="353.94" r="3.1"/><circle cx="219.29" cy="354.15" r="3.1"/><circle cx="219.35" cy="353.88" r="3.1"/><circle cx="220.02" cy="353.87" r="3.1"/><circle cx="219.94" cy="353.63" r="3.1"/><circle cx="217.84" cy="352.07" r="3.1"/><circle cx="218.70" cy="352.06" r="3.1"/><circle cx="220.90" cy="353.87" r="3.1"/><circle cx="219.74" cy="353.26" r="3.1"/><circle cx="218.65" cy="352.20" r="3.1"/><circle cx="221.23" cy="353.56" r="3.1"/><circle cx="221.18" cy="353.67" r="3.1"/><circle cx="219.71" cy="352.31" r="3.1"/><circle cx="219.36" cy="351.33" r="3.1"/><circle cx="221.46" cy="353.34" r="3.1"/><circle cx="219.25" cy="351.29" r="3.1"/><circle cx="221.37" cy="352.89" r="3.1"/><circle cx="221.65" cy="353.16" r="3.1"/><circle cx="220.41" cy="351.95" r="3.1"/><circle cx="220.62" cy="351.28" r="3.1"/><circle cx="220.86" cy="351.61" r="3.1"/><circle cx="221.41" cy="352.51" r="3.1"/><circle cx="220.91" cy="351.57" r="3.1"/><circle cx="220.52" cy="351.15" r="3.1"/><circle cx="221.31" cy="351.24" r="3.1"/><circle cx="220.31" cy="350.59" r="3.1"/><circle cx="220.19" cy="350.17" r="3.1"/><circle cx="220.59" cy="349.61" r="3.1"/><circle cx="220.83" cy="349.50" r="3.1"/><circle cx="222.70" cy="351.69" r="3.1"/><circle cx="221.47" cy="350.36" r="3.1"/><circle cx="221.70" cy="349.77" r="3.1"/><circle cx="222.67" cy="351.10" r="3.1"/><circle cx="221.07" cy="349.36" r="3.1"/><circle cx="223.42" cy="350.93" r="3.1"/><circle cx="222.90" cy="350.40" r="3.1"/><circle cx="223.57" cy="350.85" r="3.1"/><circle cx="221.70" cy="349.00" r="3.1"/><circle cx="223.13" cy="349.79" r="3.1"/><circle cx="222.66" cy="349.46" r="3.1"/><circle cx="223.77" cy="350.08" r="3.1"/><circle cx="221.84" cy="348.79" r="3.1"/><circle cx="223.62" cy="349.56" r="3.1"/><circle cx="224.23" cy="349.71" r="3.1"/><circle cx="224.04" cy="350.00" r="3.1"/><circle cx="223.27" cy="349.17" r="3.1"/><circle cx="222.44" cy="347.78" r="3.1"/><circle cx="223.91" cy="348.84" r="3.1"/><circle cx="223.07" cy="347.92" r="3.1"/><circle cx="223.51" cy="347.97" r="3.1"/><circle cx="223.92" cy="348.60" r="3.1"/><circle cx="225.01" cy="349.01" r="3.1"/><circle cx="224.64" cy="348.13" r="3.1"/><circle cx="224.91" cy="348.36" r="3.1"/><circle cx="224.25" cy="348.23" r="3.1"/><circle cx="224.74" cy="347.96" r="3.1"/><circle cx="223.98" cy="347.35" r="3.1"/><circle cx="225.10" cy="348.41" r="3.1"/><circle cx="224.58" cy="347.13" r="3.1"/><circle cx="223.81" cy="346.40" r="3.1"/><circle cx="225.50" cy="347.46" r="3.1"/><circle cx="224.81" cy="346.68" r="3.1"/><circle cx="226.38" cy="347.85" r="3.1"/><circle cx="225.58" cy="347.06" r="3.1"/><circle cx="226.11" cy="348.09" r="3.1"/><circle cx="226.36" cy="348.04" r="3.1"/><circle cx="226.75" cy="347.34" r="3.1"/><circle cx="225.28" cy="346.62" r="3.1"/><circle cx="224.48" cy="345.24" r="3.1"/><circle cx="225.49" cy="345.74" r="3.1"/><circle cx="226.48" cy="346.30" r="3.1"/><circle cx="224.86" cy="345.01" r="3.1"/><circle cx="226.47" cy="346.32" r="3.1"/><circle cx="225.45" cy="345.05" r="3.1"/><circle cx="227.07" cy="346.92" r="3.1"/><circle cx="225.88" cy="345.44" r="3.1"/><circle cx="225.98" cy="344.82" r="3.1"/><circle cx="227.14" cy="346.31" r="3.1"/><circle cx="226.18" cy="345.09" r="3.1"/><circle cx="225.73" cy="344.06" r="3.1"/><circle cx="227.57" cy="345.29" r="3.1"/><circle cx="226.89" cy="344.59" r="3.1"/><circle cx="226.47" cy="344.21" r="3.1"/><circle cx="228.21" cy="345.98" r="3.1"/><circle cx="226.29" cy="343.44" r="3.1"/><circle cx="228.46" cy="345.82" r="3.1"/><circle cx="228.42" cy="345.45" r="3.1"/><circle cx="227.58" cy="343.71" r="3.1"/><circle cx="227.64" cy="344.03" r="3.1"/><circle cx="226.71" cy="343.34" r="3.1"/><circle cx="227.15" cy="342.99" r="3.1"/><circle cx="228.90" cy="344.32" r="3.1"/><circle cx="229.06" cy="344.45" r="3.1"/><circle cx="228.21" cy="343.97" r="3.1"/><circle cx="227.23" cy="342.74" r="3.1"/><circle cx="228.94" cy="343.66" r="3.1"/><circle cx="228.97" cy="344.08" r="3.1"/><circle cx="229.15" cy="343.74" r="3.1"/><circle cx="228.15" cy="342.40" r="3.1"/><circle cx="227.76" cy="342.27" r="3.1"/><circle cx="228.56" cy="341.88" r="3.1"/><circle cx="227.92" cy="341.82" r="3.1"/><circle cx="230.35" cy="343.42" r="3.1"/><circle cx="229.59" cy="342.62" r="3.1"/><circle cx="230.67" cy="343.09" r="3.1"/><circle cx="230.08" cy="342.32" r="3.1"/><circle cx="230.72" cy="343.46" r="3.1"/><circle cx="229.79" cy="342.28" r="3.1"/><circle cx="230.83" cy="342.40" r="3.1"/><circle cx="230.12" cy="341.56" r="3.1"/><circle cx="230.21" cy="341.60" r="3.1"/><circle cx="229.67" cy="341.60" r="3.1"/><circle cx="229.98" cy="341.01" r="3.1"/><circle cx="229.90" cy="341.01" r="3.1"/><circle cx="231.74" cy="342.18" r="3.1"/><circle cx="229.29" cy="340.49" r="3.1"/><circle cx="231.73" cy="342.19" r="3.1"/><circle cx="230.24" cy="340.56" r="3.1"/><circle cx="230.40" cy="340.02" r="3.1"/><circle cx="230.86" cy="340.55" r="3.1"/><circle cx="230.72" cy="340.48" r="3.1"/><circle cx="232.11" cy="341.00" r="3.1"/><circle cx="232.04" cy="340.82" r="3.1"/><circle cx="231.51" cy="340.20" r="3.1"/><circle cx="231.09" cy="339.44" r="3.1"/><circle cx="230.77" cy="339.54" r="3.1"/><circle cx="231.19" cy="339.13" r="3.1"/><circle cx="231.34" cy="339.81" r="3.1"/><circle cx="231.02" cy="338.64" r="3.1"/><circle cx="232.17" cy="340.07" r="3.1"/><circle cx="231.53" cy="338.86" r="3.1"/><circle cx="232.73" cy="339.52" r="3.1"/><circle cx="231.37" cy="338.27" r="3.1"/><circle cx="231.77" cy="338.53" r="3.1"/><circle cx="233.12" cy="339.39" r="3.1"/><circle cx="232.41" cy="338.42" r="3.1"/><circle cx="233.30" cy="338.99" r="3.1"/><circle cx="232.56" cy="338.29" r="3.1"/><circle cx="232.19" cy="338.05" r="3.1"/><circle cx="232.54" cy="337.70" r="3.1"/><circle cx="232.20" cy="337.49" r="3.1"/><circle cx="234.02" cy="339.41" r="3.1"/><circle cx="233.78" cy="339.08" r="3.1"/><circle cx="233.74" cy="338.35" r="3.1"/><circle cx="232.30" cy="337.33" r="3.1"/><circle cx="232.73" cy="337.02" r="3.1"/><circle cx="233.31" cy="337.05" r="3.1"/><circle cx="234.26" cy="337.89" r="3.1"/><circle cx="233.36" cy="337.23" r="3.1"/><circle cx="233.40" cy="336.46" r="3.1"/><circle cx="235.34" cy="338.12" r="3.1"/><circle cx="234.73" cy="337.23" r="3.1"/><circle cx="235.43" cy="337.81" r="3.1"/><circle cx="234.31" cy="337.16" r="3.1"/><circle cx="234.76" cy="336.77" r="3.1"/><circle cx="234.77" cy="336.99" r="3.1"/><circle cx="234.19" cy="335.80" r="3.1"/><circle cx="235.42" cy="337.13" r="3.1"/><circle cx="234.99" cy="336.86" r="3.1"/><circle cx="235.43" cy="337.17" r="3.1"/><circle cx="235.77" cy="336.94" r="3.1"/><circle cx="235.87" cy="336.49" r="3.1"/><circle cx="236.01" cy="336.96" r="3.1"/><circle cx="234.62" cy="335.06" r="3.1"/><circle cx="236.35" cy="336.23" r="3.1"/><circle cx="236.48" cy="336.72" r="3.1"/><circle cx="236.41" cy="336.32" r="3.1"/><circle cx="236.16" cy="335.32" r="3.1"/><circle cx="236.20" cy="335.17" r="3.1"/><circle cx="234.96" cy="334.73" r="3.1"/><circle cx="237.08" cy="335.69" r="3.1"/><circle cx="236.64" cy="335.45" r="3.1"/><circle cx="236.05" cy="334.72" r="3.1"/><circle cx="235.54" cy="334.47" r="3.1"/><circle cx="236.77" cy="335.40" r="3.1"/><circle cx="237.39" cy="334.75" r="3.1"/><circle cx="237.66" cy="335.30" r="3.1"/><circle cx="237.53" cy="334.74" r="3.1"/><circle cx="237.72" cy="334.72" r="3.1"/><circle cx="237.30" cy="333.87" r="3.1"/><circle cx="237.95" cy="334.77" r="3.1"/><circle cx="236.57" cy="333.25" r="3.1"/><circle cx="237.75" cy="333.72" r="3.1"/><circle cx="237.06" cy="333.02" r="3.1"/><circle cx="237.66" cy="333.88" r="3.1"/><circle cx="238.33" cy="333.60" r="3.1"/><circle cx="238.33" cy="334.31" r="3.1"/><circle cx="237.88" cy="332.85" r="3.1"/><circle cx="237.23" cy="332.33" r="3.1"/><circle cx="237.40" cy="332.56" r="3.1"/><circle cx="238.32" cy="332.77" r="3.1"/><circle cx="238.96" cy="333.25" r="3.1"/><circle cx="238.28" cy="333.12" r="3.1"/><circle cx="238.88" cy="332.71" r="3.1"/><circle cx="238.20" cy="331.93" r="3.1"/><circle cx="238.26" cy="332.12" r="3.1"/><circle cx="239.06" cy="332.65" r="3.1"/><circle cx="238.91" cy="332.38" r="3.1"/><circle cx="238.48" cy="331.35" r="3.1"/><circle cx="239.48" cy="332.71" r="3.1"/><circle cx="239.32" cy="331.80" r="3.1"/><circle cx="238.95" cy="331.48" r="3.1"/><circle cx="239.34" cy="331.45" r="3.1"/><circle cx="240.01" cy="331.65" r="3.1"/><circle cx="239.66" cy="331.85" r="3.1"/><circle cx="240.36" cy="331.74" r="3.1"/><circle cx="240.05" cy="331.02" r="3.1"/><circle cx="239.18" cy="330.66" r="3.1"/><circle cx="239.68" cy="330.44" r="3.1"/><circle cx="240.29" cy="330.47" r="3.1"/><circle cx="240.69" cy="331.27" r="3.1"/><circle cx="240.33" cy="330.89" r="3.1"/><circle cx="240.44" cy="330.14" r="3.1"/><circle cx="240.32" cy="330.68" r="3.1"/><circle cx="241.11" cy="330.51" r="3.1"/><circle cx="240.54" cy="330.51" r="3.1"/><circle cx="241.22" cy="330.41" r="3.1"/><circle cx="241.03" cy="330.39" r="3.1"/><circle cx="240.99" cy="330.25" r="3.1"/><circle cx="240.46" cy="329.30" r="3.1"/><circle cx="241.29" cy="329.66" r="3.1"/><circle cx="241.64" cy="329.35" r="3.1"/><circle cx="241.93" cy="329.89" r="3.1"/><circle cx="241.79" cy="330.03" r="3.1"/><circle cx="241.25" cy="329.00" r="3.1"/><circle cx="241.39" cy="328.76" r="3.1"/><circle cx="242.27" cy="329.84" r="3.1"/><circle cx="242.65" cy="329.45" r="3.1"/><circle cx="242.06" cy="328.99" r="3.1"/><circle cx="242.38" cy="328.94" r="3.1"/><circle cx="241.95" cy="327.81" r="3.1"/><circle cx="242.03" cy="327.84" r="3.1"/><circle cx="242.90" cy="328.87" r="3.1"/><circle cx="241.94" cy="327.94" r="3.1"/><circle cx="242.13" cy="328.02" r="3.1"/><circle cx="242.19" cy="327.70" r="3.1"/><circle cx="243.43" cy="327.90" r="3.1"/><circle cx="243.69" cy="328.01" r="3.1"/><circle cx="243.20" cy="328.02" r="3.1"/><circle cx="243.38" cy="328.23" r="3.1"/><circle cx="243.38" cy="327.60" r="3.1"/><circle cx="243.33" cy="327.82" r="3.1"/><circle cx="243.14" cy="326.51" r="3.1"/><circle cx="243.19" cy="327.14" r="3.1"/><circle cx="244.10" cy="327.41" r="3.1"/><circle cx="244.06" cy="327.39" r="3.1"/><circle cx="244.37" cy="326.93" r="3.1"/><circle cx="243.59" cy="326.61" r="3.1"/><circle cx="243.56" cy="325.94" r="3.1"/><circle cx="243.90" cy="325.97" r="3.1"/><circle cx="244.29" cy="326.37" r="3.1"/><circle cx="244.22" cy="326.53" r="3.1"/><circle cx="243.84" cy="325.66" r="3.1"/><circle cx="244.89" cy="326.72" r="3.1"/><circle cx="244.93" cy="325.87" r="3.1"/><circle cx="244.68" cy="325.85" r="3.1"/><circle cx="244.15" cy="325.43" r="3.1"/><circle cx="245.46" cy="325.57" r="3.1"/><circle cx="245.09" cy="325.48" r="3.1"/><circle cx="245.72" cy="325.72" r="3.1"/><circle cx="245.20" cy="324.75" r="3.1"/><circle cx="245.86" cy="325.47" r="3.1"/><circle cx="245.34" cy="324.41" r="3.1"/><circle cx="245.85" cy="325.51" r="3.1"/><circle cx="245.16" cy="324.39" r="3.1"/><circle cx="246.00" cy="324.59" r="3.1"/><circle cx="246.00" cy="325.04" r="3.1"/><circle cx="245.98" cy="324.29" r="3.1"/><circle cx="245.39" cy="324.09" r="3.1"/><circle cx="245.82" cy="324.27" r="3.1"/><circle cx="246.28" cy="323.92" r="3.1"/><circle cx="246.42" cy="324.13" r="3.1"/><circle cx="246.76" cy="323.77" r="3.1"/><circle cx="246.20" cy="323.44" r="3.1"/><circle cx="246.40" cy="323.44" r="3.1"/><circle cx="246.92" cy="323.52" r="3.1"/><circle cx="246.76" cy="323.35" r="3.1"/><circle cx="247.22" cy="323.13" r="3.1"/><circle cx="85.71" cy="492.23" r="3.1"/><circle cx="88.93" cy="489.02" r="3.1"/><circle cx="92.56" cy="485.28" r="3.1"/><circle cx="95.83" cy="481.73" r="3.1"/><circle cx="99.08" cy="478.46" r="3.1"/><circle cx="101.80" cy="475.56" r="3.1"/><circle cx="104.42" cy="472.31" r="3.1"/><circle cx="106.78" cy="469.88" r="3.1"/><circle cx="109.48" cy="466.76" r="3.1"/><circle cx="112.68" cy="464.13" r="3.1"/><circle cx="114.94" cy="461.02" r="3.1"/><circle cx="118.10" cy="458.12" r="3.1"/><circle cx="120.87" cy="455.29" r="3.1"/><circle cx="123.24" cy="452.55" r="3.1"/><circle cx="125.92" cy="450.10" r="3.1"/><circle cx="128.39" cy="447.43" r="3.1"/><circle cx="131.88" cy="443.78" r="3.1"/><circle cx="133.91" cy="441.00" r="3.1"/><circle cx="136.86" cy="437.88" r="3.1"/><circle cx="140.41" cy="434.57" r="3.1"/><circle cx="143.49" cy="431.75" r="3.1"/><circle cx="146.25" cy="428.64" r="3.1"/><circle cx="148.79" cy="425.43" r="3.1"/><circle cx="151.87" cy="422.11" r="3.1"/><circle cx="155.23" cy="418.66" r="3.1"/><circle cx="157.83" cy="416.21" r="3.1"/><circle cx="161.10" cy="412.54" r="3.1"/><circle cx="164.64" cy="409.13" r="3.1"/><circle cx="167.08" cy="406.48" r="3.1"/><circle cx="170.03" cy="403.17" r="3.1"/><circle cx="172.77" cy="400.17" r="3.1"/><circle cx="176.29" cy="396.60" r="3.1"/><circle cx="179.47" cy="393.04" r="3.1"/><circle cx="182.18" cy="390.75" r="3.1"/><circle cx="185.04" cy="387.68" r="3.1"/><circle cx="188.23" cy="384.31" r="3.1"/><circle cx="191.21" cy="381.53" r="3.1"/><circle cx="193.39" cy="378.84" r="3.1"/><circle cx="196.24" cy="376.07" r="3.1"/><circle cx="198.64" cy="373.67" r="3.1"/><circle cx="201.02" cy="370.82" r="3.1"/><circle cx="203.64" cy="368.08" r="3.1"/><circle cx="207.09" cy="364.79" r="3.1"/><circle cx="209.93" cy="361.21" r="3.1"/><circle cx="213.32" cy="357.44" r="3.1"/><circle cx="216.29" cy="355.14" r="3.1"/><circle cx="219.23" cy="351.61" r="3.1"/><circle cx="222.70" cy="347.91" r="3.1"/><circle cx="226.34" cy="344.59" r="3.1"/><circle cx="229.19" cy="341.44" r="3.1"/><circle cx="231.80" cy="338.80" r="3.1"/><circle cx="235.20" cy="334.94" r="3.1"/></g><g fill="url(#gb)"><circle cx="528.40" cy="330.50" r="3.1"/><circle cx="372.50" cy="492.57" r="3.1"/><circle cx="373.13" cy="493.01" r="3.1"/><circle cx="373.15" cy="492.63" r="3.1"/><circle cx="372.96" cy="492.30" r="3.1"/><circle cx="372.45" cy="492.19" r="3.1"/><circle cx="373.06" cy="492.96" r="3.1"/><circle cx="372.94" cy="491.96" r="3.1"/><circle cx="373.84" cy="492.60" r="3.1"/><circle cx="373.18" cy="491.44" r="3.1"/><circle cx="372.90" cy="491.61" r="3.1"/><circle cx="373.71" cy="492.54" r="3.1"/><circle cx="374.08" cy="492.41" r="3.1"/><circle cx="373.47" cy="491.89" r="3.1"/><circle cx="373.55" cy="491.06" r="3.1"/><circle cx="373.54" cy="491.25" r="3.1"/><circle cx="374.40" cy="491.16" r="3.1"/><circle cx="374.55" cy="492.02" r="3.1"/><circle cx="374.68" cy="491.79" r="3.1"/><circle cx="374.65" cy="491.75" r="3.1"/><circle cx="375.01" cy="491.44" r="3.1"/><circle cx="374.92" cy="491.13" r="3.1"/><circle cx="374.94" cy="490.66" r="3.1"/><circle cx="375.09" cy="490.30" r="3.1"/><circle cx="374.69" cy="489.80" r="3.1"/><circle cx="374.97" cy="490.58" r="3.1"/><circle cx="375.30" cy="490.41" r="3.1"/><circle cx="375.57" cy="489.97" r="3.1"/><circle cx="375.47" cy="489.67" r="3.1"/><circle cx="376.08" cy="490.37" r="3.1"/><circle cx="375.69" cy="490.48" r="3.1"/><circle cx="376.33" cy="490.49" r="3.1"/><circle cx="376.18" cy="490.19" r="3.1"/><circle cx="376.30" cy="490.43" r="3.1"/><circle cx="376.52" cy="489.66" r="3.1"/><circle cx="376.32" cy="489.27" r="3.1"/><circle cx="375.73" cy="488.75" r="3.1"/><circle cx="376.10" cy="489.22" r="3.1"/><circle cx="376.82" cy="489.09" r="3.1"/><circle cx="376.02" cy="488.78" r="3.1"/><circle cx="377.08" cy="489.24" r="3.1"/><circle cx="376.93" cy="488.72" r="3.1"/><circle cx="376.27" cy="488.30" r="3.1"/><circle cx="377.32" cy="489.26" r="3.1"/><circle cx="377.29" cy="488.71" r="3.1"/><circle cx="377.91" cy="488.58" r="3.1"/><circle cx="377.37" cy="488.51" r="3.1"/><circle cx="377.93" cy="488.13" r="3.1"/><circle cx="377.52" cy="487.62" r="3.1"/><circle cx="377.96" cy="488.54" r="3.1"/><circle cx="377.84" cy="487.89" r="3.1"/><circle cx="378.17" cy="488.29" r="3.1"/><circle cx="378.29" cy="488.33" r="3.1"/><circle cx="378.38" cy="488.03" r="3.1"/><circle cx="378.48" cy="487.52" r="3.1"/><circle cx="377.60" cy="486.50" r="3.1"/><circle cx="378.32" cy="487.19" r="3.1"/><circle cx="379.10" cy="487.42" r="3.1"/><circle cx="378.72" cy="486.85" r="3.1"/><circle cx="378.66" cy="487.08" r="3.1"/><circle cx="378.81" cy="487.09" r="3.1"/><circle cx="379.45" cy="486.61" r="3.1"/><circle cx="379.47" cy="486.80" r="3.1"/><circle cx="378.42" cy="485.82" r="3.1"/><circle cx="379.22" cy="486.70" r="3.1"/><circle cx="380.05" cy="486.38" r="3.1"/><circle cx="379.34" cy="486.16" r="3.1"/><circle cx="380.27" cy="486.41" r="3.1"/><circle cx="380.13" cy="486.30" r="3.1"/><circle cx="379.50" cy="485.16" r="3.1"/><circle cx="379.15" cy="485.23" r="3.1"/><circle cx="380.21" cy="486.17" r="3.1"/><circle cx="380.20" cy="485.71" r="3.1"/><circle cx="380.36" cy="485.90" r="3.1"/><circle cx="380.31" cy="485.31" r="3.1"/><circle cx="381.05" cy="485.37" r="3.1"/><circle cx="380.98" cy="485.58" r="3.1"/><circle cx="380.65" cy="485.05" r="3.1"/><circle cx="380.47" cy="484.54" r="3.1"/><circle cx="380.72" cy="484.33" r="3.1"/><circle cx="381.71" cy="484.81" r="3.1"/><circle cx="381.06" cy="484.21" r="3.1"/><circle cx="381.49" cy="484.73" r="3.1"/><circle cx="380.65" cy="483.89" r="3.1"/><circle cx="381.38" cy="483.77" r="3.1"/><circle cx="381.34" cy="483.90" r="3.1"/><circle cx="381.40" cy="483.32" r="3.1"/><circle cx="382.20" cy="483.82" r="3.1"/><circle cx="381.25" cy="483.34" r="3.1"/><circle cx="382.16" cy="484.15" r="3.1"/><circle cx="382.14" cy="483.43" r="3.1"/><circle cx="381.89" cy="483.71" r="3.1"/><circle cx="382.99" cy="483.56" r="3.1"/><circle cx="383.07" cy="483.48" r="3.1"/><circle cx="381.72" cy="482.31" r="3.1"/><circle cx="382.35" cy="482.43" r="3.1"/><circle cx="382.10" cy="482.14" r="3.1"/><circle cx="382.45" cy="482.03" r="3.1"/><circle cx="383.08" cy="482.99" r="3.1"/><circle cx="382.52" cy="481.96" r="3.1"/><circle cx="383.36" cy="482.20" r="3.1"/><circle cx="383.58" cy="483.09" r="3.1"/><circle cx="383.61" cy="482.75" r="3.1"/><circle cx="382.80" cy="481.06" r="3.1"/><circle cx="382.86" cy="481.53" r="3.1"/><circle cx="382.66" cy="481.23" r="3.1"/><circle cx="383.61" cy="481.50" r="3.1"/><circle cx="384.01" cy="481.69" r="3.1"/><circle cx="383.00" cy="480.91" r="3.1"/><circle cx="383.18" cy="481.18" r="3.1"/><circle cx="383.28" cy="480.64" r="3.1"/><circle cx="384.55" cy="481.10" r="3.1"/><circle cx="384.85" cy="481.66" r="3.1"/><circle cx="383.46" cy="480.29" r="3.1"/><circle cx="384.75" cy="481.22" r="3.1"/><circle cx="384.08" cy="480.59" r="3.1"/><circle cx="384.08" cy="479.66" r="3.1"/><circle cx="384.23" cy="480.03" r="3.1"/><circle cx="384.77" cy="480.66" r="3.1"/><circle cx="385.13" cy="480.53" r="3.1"/><circle cx="385.29" cy="480.43" r="3.1"/><circle cx="386.09" cy="480.66" r="3.1"/><circle cx="384.93" cy="479.37" r="3.1"/><circle cx="385.86" cy="480.62" r="3.1"/><circle cx="385.92" cy="480.14" r="3.1"/><circle cx="384.66" cy="478.97" r="3.1"/><circle cx="384.80" cy="479.25" r="3.1"/><circle cx="385.37" cy="479.20" r="3.1"/><circle cx="386.17" cy="479.45" r="3.1"/><circle cx="385.58" cy="478.38" r="3.1"/><circle cx="386.20" cy="479.23" r="3.1"/><circle cx="385.97" cy="479.31" r="3.1"/><circle cx="386.28" cy="478.64" r="3.1"/><circle cx="385.47" cy="478.24" r="3.1"/><circle cx="386.52" cy="478.39" r="3.1"/><circle cx="386.96" cy="479.17" r="3.1"/><circle cx="386.91" cy="478.47" r="3.1"/><circle cx="386.04" cy="477.87" r="3.1"/><circle cx="386.94" cy="477.78" r="3.1"/><circle cx="386.36" cy="477.17" r="3.1"/><circle cx="387.34" cy="478.03" r="3.1"/><circle cx="387.22" cy="477.92" r="3.1"/><circle cx="387.81" cy="477.74" r="3.1"/><circle cx="386.97" cy="477.23" r="3.1"/><circle cx="388.23" cy="478.47" r="3.1"/><circle cx="386.73" cy="477.09" r="3.1"/><circle cx="386.98" cy="476.74" r="3.1"/><circle cx="388.53" cy="477.97" r="3.1"/><circle cx="387.13" cy="476.90" r="3.1"/><circle cx="388.13" cy="476.93" r="3.1"/><circle cx="388.12" cy="477.15" r="3.1"/><circle cx="388.05" cy="476.60" r="3.1"/><circle cx="389.23" cy="477.13" r="3.1"/><circle cx="387.80" cy="475.97" r="3.1"/><circle cx="387.83" cy="475.69" r="3.1"/><circle cx="389.73" cy="476.93" r="3.1"/><circle cx="388.24" cy="476.18" r="3.1"/><circle cx="389.86" cy="476.85" r="3.1"/><circle cx="388.96" cy="476.48" r="3.1"/><circle cx="388.77" cy="475.62" r="3.1"/><circle cx="388.61" cy="475.21" r="3.1"/><circle cx="389.25" cy="475.92" r="3.1"/><circle cx="388.70" cy="474.49" r="3.1"/><circle cx="390.55" cy="476.00" r="3.1"/><circle cx="388.95" cy="475.09" r="3.1"/><circle cx="389.23" cy="474.71" r="3.1"/><circle cx="389.74" cy="474.75" r="3.1"/><circle cx="390.43" cy="475.25" r="3.1"/><circle cx="389.79" cy="474.92" r="3.1"/><circle cx="388.96" cy="474.26" r="3.1"/><circle cx="390.22" cy="474.40" r="3.1"/><circle cx="391.32" cy="475.23" r="3.1"/><circle cx="390.38" cy="474.46" r="3.1"/><circle cx="391.01" cy="474.62" r="3.1"/><circle cx="391.28" cy="474.98" r="3.1"/><circle cx="390.99" cy="474.43" r="3.1"/><circle cx="391.40" cy="474.62" r="3.1"/><circle cx="391.92" cy="474.81" r="3.1"/><circle cx="390.66" cy="473.93" r="3.1"/><circle cx="391.45" cy="474.15" r="3.1"/><circle cx="390.85" cy="472.77" r="3.1"/><circle cx="391.31" cy="473.23" r="3.1"/><circle cx="391.91" cy="473.46" r="3.1"/><circle cx="390.94" cy="472.24" r="3.1"/><circle cx="391.19" cy="473.26" r="3.1"/><circle cx="392.15" cy="473.82" r="3.1"/><circle cx="391.55" cy="472.91" r="3.1"/><circle cx="392.23" cy="472.89" r="3.1"/><circle cx="392.60" cy="473.84" r="3.1"/><circle cx="392.77" cy="473.12" r="3.1"/><circle cx="393.02" cy="472.83" r="3.1"/><circle cx="392.34" cy="472.40" r="3.1"/><circle cx="392.21" cy="472.61" r="3.1"/><circle cx="392.35" cy="471.96" r="3.1"/><circle cx="392.17" cy="471.86" r="3.1"/><circle cx="391.97" cy="471.36" r="3.1"/><circle cx="392.08" cy="471.72" r="3.1"/><circle cx="393.07" cy="471.43" r="3.1"/><circle cx="393.47" cy="472.63" r="3.1"/><circle cx="394.10" cy="472.62" r="3.1"/><circle cx="392.50" cy="471.05" r="3.1"/><circle cx="393.25" cy="470.92" r="3.1"/><circle cx="394.25" cy="471.56" r="3.1"/><circle cx="393.40" cy="471.07" r="3.1"/><circle cx="393.79" cy="471.50" r="3.1"/><circle cx="393.32" cy="470.13" r="3.1"/><circle cx="394.28" cy="471.68" r="3.1"/><circle cx="394.70" cy="471.50" r="3.1"/><circle cx="394.67" cy="470.66" r="3.1"/><circle cx="393.52" cy="470.21" r="3.1"/><circle cx="393.79" cy="469.39" r="3.1"/><circle cx="393.50" cy="469.42" r="3.1"/><circle cx="394.48" cy="469.69" r="3.1"/><circle cx="395.59" cy="470.44" r="3.1"/><circle cx="395.12" cy="470.50" r="3.1"/><circle cx="395.51" cy="470.28" r="3.1"/><circle cx="394.34" cy="469.47" r="3.1"/><circle cx="395.94" cy="469.94" r="3.1"/><circle cx="394.41" cy="469.08" r="3.1"/><circle cx="394.74" cy="468.71" r="3.1"/><circle cx="395.77" cy="469.23" r="3.1"/><circle cx="394.87" cy="468.89" r="3.1"/><circle cx="394.65" cy="468.38" r="3.1"/><circle cx="395.09" cy="468.46" r="3.1"/><circle cx="395.82" cy="469.26" r="3.1"/><circle cx="395.89" cy="468.76" r="3.1"/><circle cx="396.25" cy="469.22" r="3.1"/><circle cx="395.98" cy="468.55" r="3.1"/><circle cx="396.26" cy="468.24" r="3.1"/><circle cx="395.41" cy="467.50" r="3.1"/><circle cx="395.98" cy="468.29" r="3.1"/><circle cx="397.09" cy="468.81" r="3.1"/><circle cx="396.37" cy="468.12" r="3.1"/><circle cx="396.81" cy="467.74" r="3.1"/><circle cx="396.57" cy="467.19" r="3.1"/><circle cx="396.86" cy="467.36" r="3.1"/><circle cx="396.53" cy="467.56" r="3.1"/><circle cx="396.95" cy="467.12" r="3.1"/><circle cx="397.85" cy="467.64" r="3.1"/><circle cx="397.83" cy="467.35" r="3.1"/><circle cx="396.61" cy="466.46" r="3.1"/><circle cx="396.79" cy="466.62" r="3.1"/><circle cx="398.52" cy="467.38" r="3.1"/><circle cx="398.75" cy="467.58" r="3.1"/><circle cx="397.35" cy="466.26" r="3.1"/><circle cx="398.24" cy="467.40" r="3.1"/><circle cx="398.25" cy="466.80" r="3.1"/><circle cx="398.10" cy="466.66" r="3.1"/><circle cx="398.60" cy="466.90" r="3.1"/><circle cx="399.06" cy="467.02" r="3.1"/><circle cx="397.90" cy="465.11" r="3.1"/><circle cx="398.61" cy="465.80" r="3.1"/><circle cx="398.51" cy="465.60" r="3.1"/><circle cx="399.00" cy="465.76" r="3.1"/><circle cx="399.07" cy="466.02" r="3.1"/><circle cx="399.54" cy="466.17" r="3.1"/><circle cx="398.34" cy="465.21" r="3.1"/><circle cx="398.79" cy="464.59" r="3.1"/><circle cx="399.02" cy="464.76" r="3.1"/><circle cx="400.13" cy="465.94" r="3.1"/><circle cx="400.30" cy="465.73" r="3.1"/><circle cx="399.69" cy="465.07" r="3.1"/><circle cx="398.65" cy="463.85" r="3.1"/><circle cx="398.95" cy="464.04" r="3.1"/><circle cx="400.51" cy="465.24" r="3.1"/><circle cx="400.27" cy="464.66" r="3.1"/><circle cx="401.11" cy="465.12" r="3.1"/><circle cx="399.03" cy="463.51" r="3.1"/><circle cx="399.62" cy="463.57" r="3.1"/><circle cx="401.45" cy="464.67" r="3.1"/><circle cx="399.68" cy="462.83" r="3.1"/><circle cx="400.21" cy="463.00" r="3.1"/><circle cx="400.06" cy="463.07" r="3.1"/><circle cx="400.68" cy="463.87" r="3.1"/><circle cx="400.65" cy="462.73" r="3.1"/><circle cx="400.35" cy="462.19" r="3.1"/><circle cx="401.42" cy="463.21" r="3.1"/><circle cx="401.74" cy="463.20" r="3.1"/><circle cx="401.83" cy="463.95" r="3.1"/><circle cx="402.04" cy="463.70" r="3.1"/><circle cx="402.30" cy="463.50" r="3.1"/><circle cx="401.19" cy="462.21" r="3.1"/><circle cx="400.72" cy="461.96" r="3.1"/><circle cx="402.87" cy="463.64" r="3.1"/><circle cx="401.42" cy="462.19" r="3.1"/><circle cx="403.04" cy="463.40" r="3.1"/><circle cx="401.24" cy="461.49" r="3.1"/><circle cx="402.94" cy="462.88" r="3.1"/><circle cx="402.58" cy="461.78" r="3.1"/><circle cx="402.37" cy="461.30" r="3.1"/><circle cx="402.59" cy="462.03" r="3.1"/><circle cx="403.16" cy="462.54" r="3.1"/><circle cx="402.52" cy="461.42" r="3.1"/><circle cx="403.20" cy="461.79" r="3.1"/><circle cx="403.99" cy="462.33" r="3.1"/><circle cx="403.72" cy="462.13" r="3.1"/><circle cx="402.22" cy="460.46" r="3.1"/><circle cx="402.92" cy="460.61" r="3.1"/><circle cx="404.07" cy="460.94" r="3.1"/><circle cx="403.77" cy="460.50" r="3.1"/><circle cx="404.32" cy="461.23" r="3.1"/><circle cx="404.51" cy="460.93" r="3.1"/><circle cx="404.70" cy="461.52" r="3.1"/><circle cx="403.02" cy="459.39" r="3.1"/><circle cx="404.08" cy="460.41" r="3.1"/><circle cx="403.40" cy="458.86" r="3.1"/><circle cx="404.31" cy="460.04" r="3.1"/><circle cx="405.17" cy="460.72" r="3.1"/><circle cx="405.23" cy="460.42" r="3.1"/><circle cx="405.08" cy="459.73" r="3.1"/><circle cx="404.50" cy="459.05" r="3.1"/><circle cx="404.24" cy="459.21" r="3.1"/><circle cx="404.87" cy="459.49" r="3.1"/><circle cx="404.91" cy="459.62" r="3.1"/><circle cx="404.59" cy="458.12" r="3.1"/><circle cx="404.06" cy="458.31" r="3.1"/><circle cx="406.31" cy="459.89" r="3.1"/><circle cx="404.71" cy="458.02" r="3.1"/><circle cx="404.97" cy="458.68" r="3.1"/><circle cx="406.92" cy="459.34" r="3.1"/><circle cx="405.78" cy="458.57" r="3.1"/><circle cx="405.89" cy="458.50" r="3.1"/><circle cx="405.95" cy="458.71" r="3.1"/><circle cx="406.39" cy="458.79" r="3.1"/><circle cx="407.00" cy="458.94" r="3.1"/><circle cx="406.13" cy="457.38" r="3.1"/><circle cx="405.97" cy="457.14" r="3.1"/><circle cx="406.98" cy="458.08" r="3.1"/><circle cx="407.28" cy="458.51" r="3.1"/><circle cx="407.15" cy="457.87" r="3.1"/><circle cx="405.45" cy="456.66" r="3.1"/><circle cx="407.55" cy="457.97" r="3.1"/><circle cx="406.68" cy="456.53" r="3.1"/><circle cx="407.44" cy="457.97" r="3.1"/><circle cx="406.01" cy="456.29" r="3.1"/><circle cx="407.33" cy="457.17" r="3.1"/><circle cx="408.32" cy="457.42" r="3.1"/><circle cx="407.43" cy="456.72" r="3.1"/><circle cx="408.19" cy="456.65" r="3.1"/><circle cx="406.65" cy="455.92" r="3.1"/><circle cx="406.87" cy="455.80" r="3.1"/><circle cx="408.52" cy="456.81" r="3.1"/><circle cx="407.78" cy="455.83" r="3.1"/><circle cx="409.27" cy="456.56" r="3.1"/><circle cx="407.71" cy="455.28" r="3.1"/><circle cx="407.55" cy="454.49" r="3.1"/><circle cx="408.21" cy="455.53" r="3.1"/><circle cx="408.37" cy="455.14" r="3.1"/><circle cx="409.82" cy="456.35" r="3.1"/><circle cx="408.86" cy="455.34" r="3.1"/><circle cx="409.44" cy="456.30" r="3.1"/><circle cx="408.77" cy="455.17" r="3.1"/><circle cx="408.63" cy="454.10" r="3.1"/><circle cx="409.24" cy="454.52" r="3.1"/><circle cx="409.74" cy="455.42" r="3.1"/><circle cx="409.68" cy="455.14" r="3.1"/><circle cx="410.49" cy="455.64" r="3.1"/><circle cx="409.85" cy="454.22" r="3.1"/><circle cx="409.84" cy="454.80" r="3.1"/><circle cx="408.88" cy="453.13" r="3.1"/><circle cx="410.75" cy="455.24" r="3.1"/><circle cx="410.62" cy="454.34" r="3.1"/><circle cx="410.80" cy="454.15" r="3.1"/><circle cx="409.94" cy="453.18" r="3.1"/><circle cx="409.62" cy="452.88" r="3.1"/><circle cx="410.57" cy="453.32" r="3.1"/><circle cx="411.24" cy="454.12" r="3.1"/><circle cx="410.45" cy="453.48" r="3.1"/><circle cx="410.45" cy="453.34" r="3.1"/><circle cx="410.28" cy="453.06" r="3.1"/><circle cx="410.50" cy="452.53" r="3.1"/><circle cx="410.06" cy="451.90" r="3.1"/><circle cx="410.72" cy="452.35" r="3.1"/><circle cx="410.70" cy="452.06" r="3.1"/><circle cx="410.50" cy="451.41" r="3.1"/><circle cx="410.60" cy="452.22" r="3.1"/><circle cx="412.68" cy="453.18" r="3.1"/><circle cx="410.57" cy="451.63" r="3.1"/><circle cx="410.71" cy="451.76" r="3.1"/><circle cx="411.89" cy="452.41" r="3.1"/><circle cx="410.83" cy="451.34" r="3.1"/><circle cx="412.55" cy="451.96" r="3.1"/><circle cx="412.14" cy="451.35" r="3.1"/><circle cx="412.00" cy="451.85" r="3.1"/><circle cx="412.87" cy="451.88" r="3.1"/><circle cx="412.83" cy="451.24" r="3.1"/><circle cx="412.41" cy="451.25" r="3.1"/><circle cx="412.39" cy="451.09" r="3.1"/><circle cx="413.04" cy="451.59" r="3.1"/><circle cx="413.39" cy="450.98" r="3.1"/><circle cx="413.49" cy="451.00" r="3.1"/><circle cx="413.28" cy="451.05" r="3.1"/><circle cx="412.34" cy="449.66" r="3.1"/><circle cx="413.51" cy="451.17" r="3.1"/><circle cx="412.36" cy="449.68" r="3.1"/><circle cx="413.11" cy="449.55" r="3.1"/><circle cx="413.84" cy="450.62" r="3.1"/><circle cx="414.84" cy="450.93" r="3.1"/><circle cx="414.76" cy="450.77" r="3.1"/><circle cx="414.81" cy="451.16" r="3.1"/><circle cx="413.37" cy="449.45" r="3.1"/><circle cx="415.00" cy="450.94" r="3.1"/><circle cx="415.12" cy="449.90" r="3.1"/><circle cx="414.83" cy="450.34" r="3.1"/><circle cx="415.08" cy="450.13" r="3.1"/><circle cx="415.05" cy="449.65" r="3.1"/><circle cx="414.80" cy="449.22" r="3.1"/><circle cx="414.29" cy="448.48" r="3.1"/><circle cx="415.76" cy="450.20" r="3.1"/><circle cx="414.61" cy="448.49" r="3.1"/><circle cx="415.97" cy="449.15" r="3.1"/><circle cx="414.96" cy="448.39" r="3.1"/><circle cx="415.48" cy="448.26" r="3.1"/><circle cx="415.03" cy="447.82" r="3.1"/><circle cx="415.08" cy="447.85" r="3.1"/><circle cx="415.72" cy="448.23" r="3.1"/><circle cx="414.79" cy="447.16" r="3.1"/><circle cx="416.61" cy="448.97" r="3.1"/><circle cx="415.11" cy="447.41" r="3.1"/><circle cx="416.52" cy="448.61" r="3.1"/><circle cx="415.66" cy="446.95" r="3.1"/><circle cx="415.38" cy="446.61" r="3.1"/><circle cx="415.41" cy="446.87" r="3.1"/><circle cx="416.09" cy="447.02" r="3.1"/><circle cx="416.31" cy="446.57" r="3.1"/><circle cx="417.70" cy="447.62" r="3.1"/><circle cx="416.22" cy="446.94" r="3.1"/><circle cx="417.06" cy="446.92" r="3.1"/><circle cx="416.04" cy="445.60" r="3.1"/><circle cx="416.87" cy="446.22" r="3.1"/><circle cx="417.96" cy="446.90" r="3.1"/><circle cx="418.08" cy="447.13" r="3.1"/><circle cx="418.57" cy="447.11" r="3.1"/><circle cx="418.62" cy="446.98" r="3.1"/><circle cx="417.11" cy="445.69" r="3.1"/><circle cx="418.23" cy="446.37" r="3.1"/><circle cx="417.74" cy="445.74" r="3.1"/><circle cx="418.12" cy="446.43" r="3.1"/><circle cx="418.09" cy="445.59" r="3.1"/><circle cx="419.01" cy="446.17" r="3.1"/><circle cx="417.64" cy="445.52" r="3.1"/><circle cx="419.33" cy="446.33" r="3.1"/><circle cx="417.15" cy="444.59" r="3.1"/><circle cx="417.71" cy="444.26" r="3.1"/><circle cx="418.50" cy="445.00" r="3.1"/><circle cx="418.81" cy="444.52" r="3.1"/><circle cx="419.87" cy="446.01" r="3.1"/><circle cx="419.67" cy="445.93" r="3.1"/><circle cx="419.82" cy="445.31" r="3.1"/><circle cx="418.77" cy="444.52" r="3.1"/><circle cx="419.07" cy="443.77" r="3.1"/><circle cx="419.28" cy="444.42" r="3.1"/><circle cx="418.81" cy="443.14" r="3.1"/><circle cx="419.34" cy="444.33" r="3.1"/><circle cx="418.80" cy="443.13" r="3.1"/><circle cx="420.74" cy="444.35" r="3.1"/><circle cx="420.69" cy="444.78" r="3.1"/><circle cx="419.06" cy="442.67" r="3.1"/><circle cx="419.90" cy="443.36" r="3.1"/><circle cx="420.02" cy="443.21" r="3.1"/><circle cx="420.55" cy="443.31" r="3.1"/><circle cx="420.67" cy="443.19" r="3.1"/><circle cx="420.44" cy="442.98" r="3.1"/><circle cx="420.91" cy="443.57" r="3.1"/><circle cx="420.05" cy="441.93" r="3.1"/><circle cx="419.36" cy="441.94" r="3.1"/><circle cx="420.12" cy="441.71" r="3.1"/><circle cx="421.26" cy="442.33" r="3.1"/><circle cx="420.45" cy="441.59" r="3.1"/><circle cx="420.77" cy="441.76" r="3.1"/><circle cx="420.25" cy="441.16" r="3.1"/><circle cx="421.41" cy="442.42" r="3.1"/><circle cx="421.17" cy="442.18" r="3.1"/><circle cx="421.05" cy="441.66" r="3.1"/><circle cx="421.42" cy="441.23" r="3.1"/><circle cx="422.43" cy="441.82" r="3.1"/><circle cx="422.00" cy="442.07" r="3.1"/><circle cx="420.79" cy="440.50" r="3.1"/><circle cx="422.12" cy="441.83" r="3.1"/><circle cx="422.29" cy="440.80" r="3.1"/><circle cx="422.43" cy="441.36" r="3.1"/><circle cx="422.42" cy="440.73" r="3.1"/><circle cx="422.40" cy="440.52" r="3.1"/><circle cx="423.72" cy="441.47" r="3.1"/><circle cx="421.29" cy="439.86" r="3.1"/><circle cx="422.26" cy="440.54" r="3.1"/><circle cx="423.01" cy="440.73" r="3.1"/><circle cx="422.19" cy="439.76" r="3.1"/><circle cx="422.54" cy="439.48" r="3.1"/><circle cx="422.28" cy="438.99" r="3.1"/><circle cx="422.92" cy="439.95" r="3.1"/><circle cx="424.14" cy="440.71" r="3.1"/><circle cx="423.03" cy="439.10" r="3.1"/><circle cx="424.03" cy="440.45" r="3.1"/><circle cx="423.52" cy="439.09" r="3.1"/><circle cx="423.39" cy="439.53" r="3.1"/><circle cx="423.74" cy="439.10" r="3.1"/><circle cx="423.85" cy="439.36" r="3.1"/><circle cx="424.17" cy="439.23" r="3.1"/><circle cx="423.98" cy="439.21" r="3.1"/><circle cx="423.17" cy="438.00" r="3.1"/><circle cx="423.92" cy="438.45" r="3.1"/><circle cx="425.06" cy="439.64" r="3.1"/><circle cx="424.62" cy="439.00" r="3.1"/><circle cx="424.45" cy="437.65" r="3.1"/><circle cx="425.54" cy="439.01" r="3.1"/><circle cx="425.25" cy="439.07" r="3.1"/><circle cx="424.98" cy="437.88" r="3.1"/><circle cx="425.48" cy="438.43" r="3.1"/><circle cx="425.31" cy="438.03" r="3.1"/><circle cx="425.37" cy="438.10" r="3.1"/><circle cx="425.12" cy="437.07" r="3.1"/><circle cx="425.22" cy="437.76" r="3.1"/><circle cx="426.61" cy="438.52" r="3.1"/><circle cx="426.66" cy="438.49" r="3.1"/><circle cx="424.87" cy="436.78" r="3.1"/><circle cx="426.39" cy="437.67" r="3.1"/><circle cx="425.98" cy="436.48" r="3.1"/><circle cx="425.75" cy="436.38" r="3.1"/><circle cx="425.97" cy="436.65" r="3.1"/><circle cx="427.16" cy="437.27" r="3.1"/><circle cx="426.60" cy="437.26" r="3.1"/><circle cx="426.27" cy="436.17" r="3.1"/><circle cx="427.79" cy="437.54" r="3.1"/><circle cx="428.01" cy="437.14" r="3.1"/><circle cx="426.24" cy="435.05" r="3.1"/><circle cx="427.14" cy="436.31" r="3.1"/><circle cx="427.17" cy="436.55" r="3.1"/><circle cx="428.00" cy="436.30" r="3.1"/><circle cx="427.40" cy="435.92" r="3.1"/><circle cx="426.66" cy="435.27" r="3.1"/><circle cx="428.32" cy="436.42" r="3.1"/><circle cx="428.49" cy="435.77" r="3.1"/><circle cx="426.73" cy="434.32" r="3.1"/><circle cx="427.95" cy="435.71" r="3.1"/><circle cx="426.73" cy="434.17" r="3.1"/><circle cx="427.81" cy="434.68" r="3.1"/><circle cx="429.41" cy="436.06" r="3.1"/><circle cx="428.85" cy="435.36" r="3.1"/><circle cx="427.50" cy="433.59" r="3.1"/><circle cx="428.00" cy="433.85" r="3.1"/><circle cx="429.06" cy="434.70" r="3.1"/><circle cx="428.95" cy="434.26" r="3.1"/><circle cx="428.12" cy="433.70" r="3.1"/><circle cx="429.69" cy="434.48" r="3.1"/><circle cx="429.36" cy="434.56" r="3.1"/><circle cx="430.05" cy="434.34" r="3.1"/><circle cx="428.22" cy="433.33" r="3.1"/><circle cx="430.14" cy="434.70" r="3.1"/><circle cx="429.53" cy="433.16" r="3.1"/><circle cx="429.59" cy="433.69" r="3.1"/><circle cx="429.44" cy="433.50" r="3.1"/><circle cx="429.76" cy="433.26" r="3.1"/><circle cx="428.82" cy="432.30" r="3.1"/><circle cx="430.54" cy="433.13" r="3.1"/><circle cx="431.53" cy="433.98" r="3.1"/><circle cx="430.07" cy="432.71" r="3.1"/><circle cx="430.94" cy="433.07" r="3.1"/><circle cx="429.67" cy="431.57" r="3.1"/><circle cx="430.04" cy="432.44" r="3.1"/><circle cx="430.60" cy="432.82" r="3.1"/><circle cx="430.68" cy="432.08" r="3.1"/><circle cx="431.56" cy="432.51" r="3.1"/><circle cx="431.15" cy="432.06" r="3.1"/><circle cx="431.18" cy="431.76" r="3.1"/><circle cx="430.32" cy="431.00" r="3.1"/><circle cx="431.66" cy="432.70" r="3.1"/><circle cx="430.36" cy="430.97" r="3.1"/><circle cx="431.13" cy="431.18" r="3.1"/><circle cx="432.41" cy="432.01" r="3.1"/><circle cx="432.69" cy="432.02" r="3.1"/><circle cx="432.80" cy="432.43" r="3.1"/><circle cx="431.01" cy="430.24" r="3.1"/><circle cx="432.21" cy="431.80" r="3.1"/><circle cx="432.48" cy="430.81" r="3.1"/><circle cx="431.38" cy="430.45" r="3.1"/><circle cx="432.30" cy="430.42" r="3.1"/><circle cx="431.93" cy="430.20" r="3.1"/><circle cx="431.82" cy="430.10" r="3.1"/><circle cx="433.55" cy="431.14" r="3.1"/><circle cx="432.75" cy="430.10" r="3.1"/><circle cx="432.13" cy="429.28" r="3.1"/><circle cx="432.94" cy="430.41" r="3.1"/><circle cx="431.73" cy="428.92" r="3.1"/><circle cx="431.93" cy="428.91" r="3.1"/><circle cx="432.60" cy="429.33" r="3.1"/><circle cx="432.96" cy="429.14" r="3.1"/><circle cx="432.70" cy="429.37" r="3.1"/><circle cx="433.58" cy="429.03" r="3.1"/><circle cx="433.52" cy="429.36" r="3.1"/><circle cx="434.48" cy="430.49" r="3.1"/><circle cx="434.92" cy="430.50" r="3.1"/><circle cx="434.86" cy="430.03" r="3.1"/><circle cx="433.96" cy="428.93" r="3.1"/><circle cx="434.37" cy="428.88" r="3.1"/><circle cx="434.09" cy="428.78" r="3.1"/><circle cx="434.23" cy="428.81" r="3.1"/><circle cx="434.33" cy="427.80" r="3.1"/><circle cx="433.95" cy="428.25" r="3.1"/><circle cx="433.37" cy="427.39" r="3.1"/><circle cx="435.36" cy="428.93" r="3.1"/><circle cx="434.20" cy="426.94" r="3.1"/><circle cx="436.18" cy="428.96" r="3.1"/><circle cx="436.45" cy="428.90" r="3.1"/><circle cx="436.66" cy="428.65" r="3.1"/><circle cx="435.27" cy="427.92" r="3.1"/><circle cx="435.52" cy="428.00" r="3.1"/><circle cx="435.97" cy="427.70" r="3.1"/><circle cx="436.77" cy="428.05" r="3.1"/><circle cx="435.32" cy="426.98" r="3.1"/><circle cx="436.13" cy="427.12" r="3.1"/><circle cx="436.77" cy="427.76" r="3.1"/><circle cx="436.31" cy="426.70" r="3.1"/><circle cx="437.03" cy="427.91" r="3.1"/><circle cx="435.77" cy="426.59" r="3.1"/><circle cx="436.83" cy="427.28" r="3.1"/><circle cx="435.43" cy="425.61" r="3.1"/><circle cx="436.52" cy="426.20" r="3.1"/><circle cx="437.16" cy="427.20" r="3.1"/><circle cx="437.72" cy="427.11" r="3.1"/><circle cx="436.09" cy="424.91" r="3.1"/><circle cx="436.79" cy="426.01" r="3.1"/><circle cx="438.01" cy="427.03" r="3.1"/><circle cx="436.49" cy="424.84" r="3.1"/><circle cx="437.46" cy="425.68" r="3.1"/><circle cx="438.10" cy="425.85" r="3.1"/><circle cx="436.60" cy="424.18" r="3.1"/><circle cx="437.36" cy="425.24" r="3.1"/><circle cx="438.38" cy="425.72" r="3.1"/><circle cx="438.25" cy="425.38" r="3.1"/><circle cx="437.21" cy="424.35" r="3.1"/><circle cx="437.92" cy="424.61" r="3.1"/><circle cx="437.19" cy="423.51" r="3.1"/><circle cx="437.85" cy="424.75" r="3.1"/><circle cx="438.19" cy="424.68" r="3.1"/><circle cx="439.40" cy="425.37" r="3.1"/><circle cx="438.40" cy="423.66" r="3.1"/><circle cx="438.65" cy="424.11" r="3.1"/><circle cx="438.02" cy="423.42" r="3.1"/><circle cx="438.18" cy="423.65" r="3.1"/><circle cx="438.34" cy="423.09" r="3.1"/><circle cx="438.73" cy="423.30" r="3.1"/><circle cx="437.88" cy="422.95" r="3.1"/><circle cx="438.51" cy="422.61" r="3.1"/><circle cx="439.80" cy="423.47" r="3.1"/><circle cx="439.30" cy="423.38" r="3.1"/><circle cx="439.52" cy="422.84" r="3.1"/><circle cx="439.46" cy="422.93" r="3.1"/><circle cx="440.00" cy="423.29" r="3.1"/><circle cx="440.77" cy="424.18" r="3.1"/><circle cx="440.46" cy="422.95" r="3.1"/><circle cx="440.15" cy="422.73" r="3.1"/><circle cx="441.63" cy="423.37" r="3.1"/><circle cx="440.97" cy="423.26" r="3.1"/><circle cx="439.18" cy="421.38" r="3.1"/><circle cx="439.46" cy="420.96" r="3.1"/><circle cx="441.34" cy="422.58" r="3.1"/><circle cx="441.79" cy="422.59" r="3.1"/><circle cx="440.65" cy="421.53" r="3.1"/><circle cx="439.84" cy="420.89" r="3.1"/><circle cx="442.12" cy="422.50" r="3.1"/><circle cx="441.25" cy="421.76" r="3.1"/><circle cx="440.22" cy="420.79" r="3.1"/><circle cx="442.20" cy="422.06" r="3.1"/><circle cx="441.07" cy="420.92" r="3.1"/><circle cx="442.50" cy="422.14" r="3.1"/><circle cx="440.79" cy="419.93" r="3.1"/><circle cx="442.63" cy="421.54" r="3.1"/><circle cx="441.87" cy="420.33" r="3.1"/><circle cx="442.35" cy="420.96" r="3.1"/><circle cx="442.10" cy="420.27" r="3.1"/><circle cx="441.75" cy="420.37" r="3.1"/><circle cx="442.60" cy="420.56" r="3.1"/><circle cx="442.77" cy="421.01" r="3.1"/><circle cx="441.39" cy="418.80" r="3.1"/><circle cx="443.22" cy="420.82" r="3.1"/><circle cx="443.77" cy="420.41" r="3.1"/><circle cx="443.09" cy="420.54" r="3.1"/><circle cx="442.05" cy="418.76" r="3.1"/><circle cx="444.12" cy="420.92" r="3.1"/><circle cx="444.04" cy="420.31" r="3.1"/><circle cx="442.91" cy="419.06" r="3.1"/><circle cx="444.35" cy="420.11" r="3.1"/><circle cx="444.23" cy="419.82" r="3.1"/><circle cx="442.82" cy="418.17" r="3.1"/><circle cx="443.13" cy="418.85" r="3.1"/><circle cx="443.10" cy="418.60" r="3.1"/><circle cx="442.80" cy="417.34" r="3.1"/><circle cx="444.97" cy="419.53" r="3.1"/><circle cx="442.78" cy="417.59" r="3.1"/><circle cx="445.49" cy="419.56" r="3.1"/><circle cx="443.84" cy="417.51" r="3.1"/><circle cx="444.85" cy="418.64" r="3.1"/><circle cx="444.56" cy="418.41" r="3.1"/><circle cx="445.69" cy="418.65" r="3.1"/><circle cx="444.15" cy="417.77" r="3.1"/><circle cx="444.76" cy="417.90" r="3.1"/><circle cx="445.88" cy="418.68" r="3.1"/><circle cx="445.76" cy="418.65" r="3.1"/><circle cx="444.05" cy="416.08" r="3.1"/><circle cx="444.44" cy="416.37" r="3.1"/><circle cx="445.70" cy="417.78" r="3.1"/><circle cx="444.91" cy="416.48" r="3.1"/><circle cx="444.68" cy="415.96" r="3.1"/><circle cx="445.53" cy="416.68" r="3.1"/><circle cx="444.76" cy="415.98" r="3.1"/><circle cx="446.41" cy="417.23" r="3.1"/><circle cx="444.84" cy="415.43" r="3.1"/><circle cx="446.76" cy="417.00" r="3.1"/><circle cx="445.36" cy="415.47" r="3.1"/><circle cx="445.16" cy="415.74" r="3.1"/><circle cx="445.83" cy="415.19" r="3.1"/><circle cx="445.53" cy="414.96" r="3.1"/><circle cx="447.76" cy="416.92" r="3.1"/><circle cx="448.04" cy="416.62" r="3.1"/><circle cx="447.85" cy="416.94" r="3.1"/><circle cx="445.67" cy="414.86" r="3.1"/><circle cx="447.58" cy="416.45" r="3.1"/><circle cx="446.25" cy="414.47" r="3.1"/><circle cx="448.39" cy="416.34" r="3.1"/><circle cx="446.98" cy="414.77" r="3.1"/><circle cx="446.40" cy="413.96" r="3.1"/><circle cx="447.50" cy="414.86" r="3.1"/><circle cx="447.27" cy="414.85" r="3.1"/><circle cx="446.21" cy="413.64" r="3.1"/><circle cx="448.69" cy="415.69" r="3.1"/><circle cx="448.93" cy="415.07" r="3.1"/><circle cx="447.83" cy="414.40" r="3.1"/><circle cx="448.66" cy="414.40" r="3.1"/><circle cx="448.54" cy="414.60" r="3.1"/><circle cx="448.44" cy="413.98" r="3.1"/><circle cx="449.02" cy="415.05" r="3.1"/><circle cx="447.81" cy="413.41" r="3.1"/><circle cx="448.11" cy="413.82" r="3.1"/><circle cx="449.43" cy="414.68" r="3.1"/><circle cx="447.94" cy="412.60" r="3.1"/><circle cx="448.81" cy="413.64" r="3.1"/><circle cx="450.23" cy="414.35" r="3.1"/><circle cx="449.96" cy="414.07" r="3.1"/><circle cx="449.17" cy="412.63" r="3.1"/><circle cx="450.38" cy="414.51" r="3.1"/><circle cx="448.83" cy="412.79" r="3.1"/><circle cx="448.88" cy="412.27" r="3.1"/><circle cx="448.69" cy="411.46" r="3.1"/><circle cx="449.36" cy="411.86" r="3.1"/><circle cx="450.02" cy="413.07" r="3.1"/><circle cx="450.11" cy="412.70" r="3.1"/><circle cx="449.58" cy="412.12" r="3.1"/><circle cx="449.09" cy="410.58" r="3.1"/><circle cx="449.76" cy="411.39" r="3.1"/><circle cx="449.96" cy="411.75" r="3.1"/><circle cx="450.99" cy="412.30" r="3.1"/><circle cx="451.27" cy="412.73" r="3.1"/><circle cx="449.55" cy="410.45" r="3.1"/><circle cx="450.41" cy="410.93" r="3.1"/><circle cx="450.61" cy="411.19" r="3.1"/><circle cx="450.40" cy="410.20" r="3.1"/><circle cx="452.11" cy="412.20" r="3.1"/><circle cx="451.02" cy="410.87" r="3.1"/><circle cx="451.49" cy="410.86" r="3.1"/><circle cx="451.07" cy="410.18" r="3.1"/><circle cx="451.09" cy="410.68" r="3.1"/><circle cx="450.36" cy="409.20" r="3.1"/><circle cx="450.58" cy="409.63" r="3.1"/><circle cx="450.34" cy="409.42" r="3.1"/><circle cx="452.67" cy="411.50" r="3.1"/><circle cx="451.75" cy="410.08" r="3.1"/><circle cx="450.78" cy="409.23" r="3.1"/><circle cx="450.86" cy="409.15" r="3.1"/><circle cx="452.73" cy="410.30" r="3.1"/><circle cx="451.49" cy="408.90" r="3.1"/><circle cx="453.54" cy="410.56" r="3.1"/><circle cx="453.71" cy="410.45" r="3.1"/><circle cx="451.29" cy="408.50" r="3.1"/><circle cx="453.01" cy="409.46" r="3.1"/><circle cx="453.97" cy="410.33" r="3.1"/><circle cx="451.60" cy="408.08" r="3.1"/><circle cx="452.91" cy="408.75" r="3.1"/><circle cx="453.00" cy="408.26" r="3.1"/><circle cx="453.45" cy="408.56" r="3.1"/><circle cx="452.39" cy="407.36" r="3.1"/><circle cx="453.46" cy="408.77" r="3.1"/><circle cx="452.69" cy="407.84" r="3.1"/><circle cx="454.82" cy="409.57" r="3.1"/><circle cx="455.15" cy="409.49" r="3.1"/><circle cx="454.18" cy="408.12" r="3.1"/><circle cx="455.06" cy="408.51" r="3.1"/><circle cx="454.46" cy="408.62" r="3.1"/><circle cx="453.39" cy="406.90" r="3.1"/><circle cx="453.74" cy="407.42" r="3.1"/><circle cx="455.21" cy="408.57" r="3.1"/><circle cx="454.64" cy="407.77" r="3.1"/><circle cx="453.72" cy="406.81" r="3.1"/><circle cx="454.85" cy="406.81" r="3.1"/><circle cx="455.49" cy="407.39" r="3.1"/><circle cx="453.95" cy="405.71" r="3.1"/><circle cx="454.25" cy="406.39" r="3.1"/><circle cx="454.58" cy="406.69" r="3.1"/><circle cx="456.13" cy="407.27" r="3.1"/><circle cx="455.31" cy="407.03" r="3.1"/><circle cx="456.86" cy="407.55" r="3.1"/><circle cx="455.48" cy="405.90" r="3.1"/><circle cx="455.99" cy="406.25" r="3.1"/><circle cx="454.43" cy="405.21" r="3.1"/><circle cx="456.47" cy="406.15" r="3.1"/><circle cx="455.34" cy="405.20" r="3.1"/><circle cx="455.46" cy="404.65" r="3.1"/><circle cx="455.93" cy="405.66" r="3.1"/><circle cx="456.19" cy="405.69" r="3.1"/><circle cx="456.99" cy="405.98" r="3.1"/><circle cx="457.46" cy="406.74" r="3.1"/><circle cx="456.76" cy="405.80" r="3.1"/><circle cx="456.59" cy="405.26" r="3.1"/><circle cx="456.01" cy="404.74" r="3.1"/><circle cx="455.54" cy="403.77" r="3.1"/><circle cx="457.59" cy="405.04" r="3.1"/><circle cx="455.84" cy="403.48" r="3.1"/><circle cx="456.30" cy="404.17" r="3.1"/><circle cx="457.58" cy="404.74" r="3.1"/><circle cx="456.51" cy="403.58" r="3.1"/><circle cx="457.70" cy="404.46" r="3.1"/><circle cx="457.39" cy="404.36" r="3.1"/><circle cx="457.67" cy="404.10" r="3.1"/><circle cx="458.73" cy="404.63" r="3.1"/><circle cx="459.01" cy="405.22" r="3.1"/><circle cx="456.67" cy="402.56" r="3.1"/><circle cx="457.62" cy="402.57" r="3.1"/><circle cx="457.47" cy="402.42" r="3.1"/><circle cx="459.66" cy="404.23" r="3.1"/><circle cx="459.45" cy="403.66" r="3.1"/><circle cx="459.97" cy="404.31" r="3.1"/><circle cx="458.73" cy="403.37" r="3.1"/><circle cx="459.33" cy="403.24" r="3.1"/><circle cx="460.14" cy="403.77" r="3.1"/><circle cx="459.57" cy="403.37" r="3.1"/><circle cx="458.16" cy="401.19" r="3.1"/><circle cx="458.50" cy="401.49" r="3.1"/><circle cx="459.71" cy="402.67" r="3.1"/><circle cx="458.55" cy="401.78" r="3.1"/><circle cx="458.77" cy="401.85" r="3.1"/><circle cx="459.41" cy="401.39" r="3.1"/><circle cx="458.69" cy="400.61" r="3.1"/><circle cx="460.71" cy="402.57" r="3.1"/><circle cx="460.59" cy="402.49" r="3.1"/><circle cx="459.21" cy="401.26" r="3.1"/><circle cx="459.64" cy="401.12" r="3.1"/><circle cx="459.40" cy="400.53" r="3.1"/><circle cx="459.63" cy="400.16" r="3.1"/><circle cx="459.75" cy="400.32" r="3.1"/><circle cx="461.43" cy="402.30" r="3.1"/><circle cx="461.84" cy="402.06" r="3.1"/><circle cx="461.40" cy="401.71" r="3.1"/><circle cx="460.96" cy="401.24" r="3.1"/><circle cx="461.38" cy="401.32" r="3.1"/><circle cx="459.89" cy="399.75" r="3.1"/><circle cx="462.41" cy="401.15" r="3.1"/><circle cx="462.45" cy="400.99" r="3.1"/><circle cx="461.81" cy="400.55" r="3.1"/><circle cx="461.44" cy="399.66" r="3.1"/><circle cx="461.28" cy="400.19" r="3.1"/><circle cx="461.76" cy="400.16" r="3.1"/><circle cx="461.73" cy="399.71" r="3.1"/><circle cx="460.63" cy="398.47" r="3.1"/><circle cx="462.56" cy="400.11" r="3.1"/><circle cx="462.36" cy="400.12" r="3.1"/><circle cx="463.33" cy="400.27" r="3.1"/><circle cx="463.06" cy="400.28" r="3.1"/><circle cx="462.87" cy="399.68" r="3.1"/><circle cx="461.29" cy="398.15" r="3.1"/><circle cx="462.33" cy="398.53" r="3.1"/><circle cx="461.81" cy="397.81" r="3.1"/><circle cx="461.64" cy="397.66" r="3.1"/><circle cx="464.11" cy="399.67" r="3.1"/><circle cx="464.57" cy="399.48" r="3.1"/><circle cx="463.65" cy="398.88" r="3.1"/><circle cx="462.63" cy="398.13" r="3.1"/><circle cx="463.61" cy="398.58" r="3.1"/><circle cx="462.04" cy="397.12" r="3.1"/><circle cx="462.79" cy="397.05" r="3.1"/><circle cx="463.20" cy="397.08" r="3.1"/><circle cx="464.01" cy="397.48" r="3.1"/><circle cx="463.63" cy="397.58" r="3.1"/><circle cx="464.89" cy="398.83" r="3.1"/><circle cx="464.15" cy="397.29" r="3.1"/><circle cx="464.97" cy="398.55" r="3.1"/><circle cx="463.40" cy="396.85" r="3.1"/><circle cx="465.68" cy="398.23" r="3.1"/><circle cx="463.26" cy="395.70" r="3.1"/><circle cx="463.20" cy="395.86" r="3.1"/><circle cx="464.12" cy="396.17" r="3.1"/><circle cx="465.05" cy="396.82" r="3.1"/><circle cx="464.16" cy="396.24" r="3.1"/><circle cx="464.70" cy="395.78" r="3.1"/><circle cx="465.97" cy="397.68" r="3.1"/><circle cx="464.16" cy="395.05" r="3.1"/><circle cx="465.14" cy="396.47" r="3.1"/><circle cx="465.01" cy="395.30" r="3.1"/><circle cx="465.87" cy="396.07" r="3.1"/><circle cx="464.64" cy="395.37" r="3.1"/><circle cx="465.45" cy="395.77" r="3.1"/><circle cx="465.38" cy="395.39" r="3.1"/><circle cx="466.93" cy="396.33" r="3.1"/><circle cx="466.87" cy="396.05" r="3.1"/><circle cx="466.30" cy="395.12" r="3.1"/><circle cx="467.05" cy="395.49" r="3.1"/><circle cx="466.34" cy="394.68" r="3.1"/><circle cx="465.75" cy="394.66" r="3.1"/><circle cx="467.12" cy="395.54" r="3.1"/><circle cx="466.69" cy="394.90" r="3.1"/><circle cx="466.15" cy="393.78" r="3.1"/><circle cx="468.32" cy="395.41" r="3.1"/><circle cx="466.36" cy="393.73" r="3.1"/><circle cx="465.88" cy="393.68" r="3.1"/><circle cx="467.15" cy="393.86" r="3.1"/><circle cx="466.10" cy="393.16" r="3.1"/><circle cx="466.24" cy="392.73" r="3.1"/><circle cx="466.21" cy="392.57" r="3.1"/><circle cx="466.54" cy="392.65" r="3.1"/><circle cx="467.83" cy="393.36" r="3.1"/><circle cx="467.28" cy="392.97" r="3.1"/><circle cx="467.84" cy="393.38" r="3.1"/><circle cx="468.30" cy="393.68" r="3.1"/><circle cx="467.38" cy="392.94" r="3.1"/><circle cx="467.50" cy="392.07" r="3.1"/><circle cx="469.13" cy="393.52" r="3.1"/><circle cx="468.15" cy="392.51" r="3.1"/><circle cx="469.87" cy="393.49" r="3.1"/><circle cx="469.49" cy="393.06" r="3.1"/><circle cx="467.58" cy="391.13" r="3.1"/><circle cx="468.85" cy="392.94" r="3.1"/><circle cx="470.18" cy="393.21" r="3.1"/><circle cx="468.23" cy="391.03" r="3.1"/><circle cx="468.32" cy="391.57" r="3.1"/><circle cx="468.27" cy="390.98" r="3.1"/><circle cx="468.57" cy="391.58" r="3.1"/><circle cx="468.41" cy="390.96" r="3.1"/><circle cx="469.71" cy="391.56" r="3.1"/><circle cx="469.92" cy="391.58" r="3.1"/><circle cx="468.94" cy="390.19" r="3.1"/><circle cx="471.15" cy="392.29" r="3.1"/><circle cx="468.89" cy="389.80" r="3.1"/><circle cx="469.41" cy="390.85" r="3.1"/><circle cx="471.24" cy="391.92" r="3.1"/><circle cx="469.65" cy="390.19" r="3.1"/><circle cx="471.36" cy="392.07" r="3.1"/><circle cx="469.28" cy="390.03" r="3.1"/><circle cx="470.66" cy="390.90" r="3.1"/><circle cx="471.06" cy="390.36" r="3.1"/><circle cx="469.72" cy="389.39" r="3.1"/><circle cx="471.77" cy="391.41" r="3.1"/><circle cx="472.08" cy="391.27" r="3.1"/><circle cx="470.15" cy="389.20" r="3.1"/><circle cx="471.79" cy="390.83" r="3.1"/><circle cx="472.39" cy="390.63" r="3.1"/><circle cx="471.94" cy="389.74" r="3.1"/><circle cx="471.02" cy="389.09" r="3.1"/><circle cx="471.14" cy="389.58" r="3.1"/><circle cx="472.14" cy="389.94" r="3.1"/><circle cx="473.23" cy="390.07" r="3.1"/><circle cx="471.99" cy="389.36" r="3.1"/><circle cx="471.71" cy="388.40" r="3.1"/><circle cx="472.29" cy="388.86" r="3.1"/><circle cx="471.35" cy="388.42" r="3.1"/><circle cx="471.84" cy="387.96" r="3.1"/><circle cx="471.27" cy="387.83" r="3.1"/><circle cx="472.85" cy="388.87" r="3.1"/><circle cx="472.23" cy="387.70" r="3.1"/><circle cx="473.58" cy="389.53" r="3.1"/><circle cx="473.52" cy="388.32" r="3.1"/><circle cx="472.05" cy="387.37" r="3.1"/><circle cx="473.94" cy="389.02" r="3.1"/><circle cx="473.06" cy="388.13" r="3.1"/><circle cx="473.04" cy="387.50" r="3.1"/><circle cx="474.32" cy="388.03" r="3.1"/><circle cx="473.90" cy="387.83" r="3.1"/><circle cx="473.26" cy="387.22" r="3.1"/><circle cx="472.46" cy="385.98" r="3.1"/><circle cx="474.07" cy="387.39" r="3.1"/><circle cx="474.01" cy="387.45" r="3.1"/><circle cx="474.47" cy="387.07" r="3.1"/><circle cx="474.95" cy="387.65" r="3.1"/><circle cx="474.84" cy="386.98" r="3.1"/><circle cx="475.24" cy="387.57" r="3.1"/><circle cx="474.66" cy="386.91" r="3.1"/><circle cx="473.74" cy="385.53" r="3.1"/><circle cx="475.84" cy="386.98" r="3.1"/><circle cx="473.36" cy="385.42" r="3.1"/><circle cx="475.66" cy="386.83" r="3.1"/><circle cx="473.53" cy="385.04" r="3.1"/><circle cx="475.97" cy="386.92" r="3.1"/><circle cx="475.77" cy="386.52" r="3.1"/><circle cx="475.57" cy="385.91" r="3.1"/><circle cx="476.03" cy="386.33" r="3.1"/><circle cx="474.15" cy="384.53" r="3.1"/><circle cx="474.81" cy="384.80" r="3.1"/><circle cx="475.03" cy="385.20" r="3.1"/><circle cx="475.05" cy="384.26" r="3.1"/><circle cx="476.46" cy="385.31" r="3.1"/><circle cx="476.69" cy="385.16" r="3.1"/><circle cx="476.86" cy="385.29" r="3.1"/><circle cx="477.38" cy="385.56" r="3.1"/><circle cx="477.24" cy="385.33" r="3.1"/><circle cx="477.49" cy="385.39" r="3.1"/><circle cx="476.40" cy="384.32" r="3.1"/><circle cx="476.07" cy="384.09" r="3.1"/><circle cx="476.11" cy="383.72" r="3.1"/><circle cx="478.08" cy="384.75" r="3.1"/><circle cx="475.47" cy="383.10" r="3.1"/><circle cx="476.99" cy="383.67" r="3.1"/><circle cx="477.85" cy="384.31" r="3.1"/><circle cx="477.80" cy="384.51" r="3.1"/><circle cx="478.48" cy="384.49" r="3.1"/><circle cx="476.09" cy="382.25" r="3.1"/><circle cx="477.66" cy="383.63" r="3.1"/><circle cx="478.29" cy="384.03" r="3.1"/><circle cx="477.25" cy="382.49" r="3.1"/><circle cx="478.15" cy="383.33" r="3.1"/><circle cx="476.76" cy="382.13" r="3.1"/><circle cx="477.05" cy="381.57" r="3.1"/><circle cx="478.32" cy="382.35" r="3.1"/><circle cx="477.10" cy="381.80" r="3.1"/><circle cx="477.91" cy="382.12" r="3.1"/><circle cx="477.33" cy="381.69" r="3.1"/><circle cx="478.17" cy="382.36" r="3.1"/><circle cx="477.79" cy="381.60" r="3.1"/><circle cx="478.65" cy="381.67" r="3.1"/><circle cx="477.95" cy="381.11" r="3.1"/><circle cx="479.50" cy="381.84" r="3.1"/><circle cx="477.91" cy="380.68" r="3.1"/><circle cx="478.35" cy="380.33" r="3.1"/><circle cx="479.94" cy="381.70" r="3.1"/><circle cx="480.44" cy="382.42" r="3.1"/><circle cx="480.51" cy="382.14" r="3.1"/><circle cx="478.88" cy="380.25" r="3.1"/><circle cx="479.21" cy="381.08" r="3.1"/><circle cx="480.75" cy="381.32" r="3.1"/><circle cx="479.39" cy="380.36" r="3.1"/><circle cx="481.12" cy="381.70" r="3.1"/><circle cx="479.03" cy="379.86" r="3.1"/><circle cx="480.04" cy="380.31" r="3.1"/><circle cx="479.92" cy="379.89" r="3.1"/><circle cx="479.78" cy="379.14" r="3.1"/><circle cx="480.04" cy="379.47" r="3.1"/><circle cx="480.46" cy="380.07" r="3.1"/><circle cx="479.93" cy="379.50" r="3.1"/><circle cx="481.43" cy="380.23" r="3.1"/><circle cx="479.70" cy="378.91" r="3.1"/><circle cx="481.18" cy="380.21" r="3.1"/><circle cx="481.98" cy="379.82" r="3.1"/><circle cx="482.30" cy="380.12" r="3.1"/><circle cx="480.45" cy="378.70" r="3.1"/><circle cx="481.48" cy="379.60" r="3.1"/><circle cx="481.10" cy="378.93" r="3.1"/><circle cx="482.59" cy="379.81" r="3.1"/><circle cx="482.20" cy="379.75" r="3.1"/><circle cx="481.41" cy="378.81" r="3.1"/><circle cx="480.70" cy="377.36" r="3.1"/><circle cx="481.75" cy="378.24" r="3.1"/><circle cx="482.32" cy="378.45" r="3.1"/><circle cx="483.22" cy="378.97" r="3.1"/><circle cx="481.42" cy="377.28" r="3.1"/><circle cx="481.93" cy="377.28" r="3.1"/><circle cx="481.96" cy="377.65" r="3.1"/><circle cx="481.89" cy="377.35" r="3.1"/><circle cx="481.85" cy="377.09" r="3.1"/><circle cx="482.77" cy="377.53" r="3.1"/><circle cx="482.41" cy="377.41" r="3.1"/><circle cx="484.26" cy="378.09" r="3.1"/><circle cx="483.81" cy="377.37" r="3.1"/><circle cx="482.79" cy="376.87" r="3.1"/><circle cx="483.23" cy="376.71" r="3.1"/><circle cx="482.42" cy="375.55" r="3.1"/><circle cx="482.85" cy="375.61" r="3.1"/><circle cx="483.03" cy="376.12" r="3.1"/><circle cx="484.57" cy="376.98" r="3.1"/><circle cx="484.36" cy="377.07" r="3.1"/><circle cx="483.37" cy="376.19" r="3.1"/><circle cx="485.06" cy="376.99" r="3.1"/><circle cx="484.40" cy="376.14" r="3.1"/><circle cx="483.88" cy="375.16" r="3.1"/><circle cx="484.48" cy="376.48" r="3.1"/><circle cx="485.13" cy="375.95" r="3.1"/><circle cx="485.47" cy="376.31" r="3.1"/><circle cx="484.93" cy="375.53" r="3.1"/><circle cx="483.89" cy="374.67" r="3.1"/><circle cx="484.60" cy="375.33" r="3.1"/><circle cx="485.68" cy="376.40" r="3.1"/><circle cx="485.52" cy="375.88" r="3.1"/><circle cx="483.84" cy="374.29" r="3.1"/><circle cx="484.22" cy="374.43" r="3.1"/><circle cx="484.32" cy="373.63" r="3.1"/><circle cx="485.99" cy="375.08" r="3.1"/><circle cx="485.20" cy="373.89" r="3.1"/><circle cx="486.74" cy="375.04" r="3.1"/><circle cx="485.42" cy="373.59" r="3.1"/><circle cx="487.13" cy="374.99" r="3.1"/><circle cx="485.15" cy="373.73" r="3.1"/><circle cx="485.57" cy="373.34" r="3.1"/><circle cx="486.44" cy="373.99" r="3.1"/><circle cx="486.66" cy="374.57" r="3.1"/><circle cx="486.81" cy="373.74" r="3.1"/><circle cx="487.09" cy="374.48" r="3.1"/><circle cx="486.75" cy="373.53" r="3.1"/><circle cx="485.77" cy="372.40" r="3.1"/><circle cx="487.22" cy="373.89" r="3.1"/><circle cx="486.73" cy="372.55" r="3.1"/><circle cx="486.04" cy="372.08" r="3.1"/><circle cx="487.82" cy="373.25" r="3.1"/><circle cx="488.15" cy="373.31" r="3.1"/><circle cx="487.63" cy="373.44" r="3.1"/><circle cx="488.50" cy="373.73" r="3.1"/><circle cx="488.00" cy="372.74" r="3.1"/><circle cx="486.75" cy="371.67" r="3.1"/><circle cx="486.99" cy="371.06" r="3.1"/><circle cx="487.99" cy="372.71" r="3.1"/><circle cx="488.81" cy="373.19" r="3.1"/><circle cx="488.69" cy="372.07" r="3.1"/><circle cx="488.41" cy="372.51" r="3.1"/><circle cx="487.26" cy="370.72" r="3.1"/><circle cx="488.18" cy="371.16" r="3.1"/><circle cx="488.69" cy="371.47" r="3.1"/><circle cx="488.07" cy="371.43" r="3.1"/><circle cx="489.95" cy="372.26" r="3.1"/><circle cx="490.03" cy="372.13" r="3.1"/><circle cx="489.40" cy="371.16" r="3.1"/><circle cx="489.78" cy="372.27" r="3.1"/><circle cx="487.96" cy="370.17" r="3.1"/><circle cx="488.39" cy="370.38" r="3.1"/><circle cx="488.94" cy="370.70" r="3.1"/><circle cx="489.43" cy="370.37" r="3.1"/><circle cx="489.53" cy="370.10" r="3.1"/><circle cx="490.04" cy="370.74" r="3.1"/><circle cx="489.63" cy="369.72" r="3.1"/><circle cx="489.16" cy="370.06" r="3.1"/><circle cx="489.68" cy="370.36" r="3.1"/><circle cx="490.64" cy="370.08" r="3.1"/><circle cx="490.38" cy="370.17" r="3.1"/><circle cx="489.34" cy="368.66" r="3.1"/><circle cx="491.47" cy="370.16" r="3.1"/><circle cx="490.26" cy="368.92" r="3.1"/><circle cx="490.04" cy="368.38" r="3.1"/><circle cx="491.15" cy="370.24" r="3.1"/><circle cx="491.82" cy="370.20" r="3.1"/><circle cx="492.11" cy="369.99" r="3.1"/><circle cx="491.92" cy="369.56" r="3.1"/><circle cx="491.46" cy="369.27" r="3.1"/><circle cx="491.94" cy="369.88" r="3.1"/><circle cx="492.43" cy="369.64" r="3.1"/><circle cx="492.18" cy="369.73" r="3.1"/><circle cx="491.95" cy="368.36" r="3.1"/><circle cx="491.53" cy="368.18" r="3.1"/><circle cx="491.81" cy="368.88" r="3.1"/><circle cx="492.86" cy="369.08" r="3.1"/><circle cx="490.83" cy="366.83" r="3.1"/><circle cx="492.39" cy="368.40" r="3.1"/><circle cx="490.86" cy="366.91" r="3.1"/><circle cx="491.21" cy="366.80" r="3.1"/><circle cx="491.76" cy="367.04" r="3.1"/><circle cx="493.19" cy="368.60" r="3.1"/><circle cx="491.84" cy="366.56" r="3.1"/><circle cx="492.49" cy="366.63" r="3.1"/><circle cx="491.82" cy="366.38" r="3.1"/><circle cx="491.77" cy="366.02" r="3.1"/><circle cx="492.47" cy="366.86" r="3.1"/><circle cx="492.40" cy="366.47" r="3.1"/><circle cx="494.10" cy="367.57" r="3.1"/><circle cx="494.40" cy="367.21" r="3.1"/><circle cx="492.36" cy="365.26" r="3.1"/><circle cx="494.17" cy="367.06" r="3.1"/><circle cx="494.00" cy="366.26" r="3.1"/><circle cx="492.90" cy="365.65" r="3.1"/><circle cx="492.72" cy="365.42" r="3.1"/><circle cx="494.00" cy="366.58" r="3.1"/><circle cx="494.62" cy="366.18" r="3.1"/><circle cx="494.86" cy="366.69" r="3.1"/><circle cx="493.20" cy="365.12" r="3.1"/><circle cx="493.08" cy="364.67" r="3.1"/><circle cx="493.66" cy="364.86" r="3.1"/><circle cx="494.44" cy="365.44" r="3.1"/><circle cx="494.40" cy="365.05" r="3.1"/><circle cx="494.80" cy="365.14" r="3.1"/><circle cx="495.66" cy="365.67" r="3.1"/><circle cx="495.37" cy="365.33" r="3.1"/><circle cx="494.99" cy="365.18" r="3.1"/><circle cx="495.49" cy="364.86" r="3.1"/><circle cx="496.07" cy="365.70" r="3.1"/><circle cx="494.28" cy="363.51" r="3.1"/><circle cx="496.53" cy="365.11" r="3.1"/><circle cx="495.10" cy="363.69" r="3.1"/><circle cx="496.86" cy="364.72" r="3.1"/><circle cx="496.80" cy="364.84" r="3.1"/><circle cx="496.07" cy="363.72" r="3.1"/><circle cx="495.78" cy="363.67" r="3.1"/><circle cx="495.26" cy="363.39" r="3.1"/><circle cx="495.80" cy="362.77" r="3.1"/><circle cx="496.34" cy="363.53" r="3.1"/><circle cx="496.38" cy="363.48" r="3.1"/><circle cx="496.14" cy="362.85" r="3.1"/><circle cx="496.07" cy="362.50" r="3.1"/><circle cx="497.62" cy="363.62" r="3.1"/><circle cx="496.40" cy="362.93" r="3.1"/><circle cx="495.68" cy="361.97" r="3.1"/><circle cx="496.28" cy="362.19" r="3.1"/><circle cx="496.58" cy="361.94" r="3.1"/><circle cx="498.04" cy="363.17" r="3.1"/><circle cx="496.88" cy="361.98" r="3.1"/><circle cx="496.09" cy="361.53" r="3.1"/><circle cx="496.84" cy="361.96" r="3.1"/><circle cx="497.35" cy="362.17" r="3.1"/><circle cx="496.74" cy="361.18" r="3.1"/><circle cx="497.94" cy="362.29" r="3.1"/><circle cx="497.47" cy="361.61" r="3.1"/><circle cx="497.68" cy="361.24" r="3.1"/><circle cx="498.71" cy="362.43" r="3.1"/><circle cx="498.72" cy="362.36" r="3.1"/><circle cx="497.84" cy="360.79" r="3.1"/><circle cx="498.10" cy="360.77" r="3.1"/><circle cx="497.83" cy="360.19" r="3.1"/><circle cx="497.68" cy="359.84" r="3.1"/><circle cx="498.16" cy="360.23" r="3.1"/><circle cx="499.63" cy="361.42" r="3.1"/><circle cx="499.37" cy="361.12" r="3.1"/><circle cx="498.56" cy="360.42" r="3.1"/><circle cx="499.60" cy="360.51" r="3.1"/><circle cx="498.52" cy="359.32" r="3.1"/><circle cx="499.92" cy="360.87" r="3.1"/><circle cx="498.79" cy="359.05" r="3.1"/><circle cx="499.35" cy="359.32" r="3.1"/><circle cx="498.87" cy="358.78" r="3.1"/><circle cx="498.71" cy="358.83" r="3.1"/><circle cx="498.77" cy="358.97" r="3.1"/><circle cx="499.77" cy="359.20" r="3.1"/><circle cx="499.91" cy="359.51" r="3.1"/><circle cx="499.79" cy="358.93" r="3.1"/><circle cx="500.19" cy="358.84" r="3.1"/><circle cx="500.29" cy="359.02" r="3.1"/><circle cx="500.06" cy="358.17" r="3.1"/><circle cx="500.14" cy="358.07" r="3.1"/><circle cx="500.42" cy="357.98" r="3.1"/><circle cx="501.05" cy="359.30" r="3.1"/><circle cx="501.63" cy="359.03" r="3.1"/><circle cx="501.54" cy="359.44" r="3.1"/><circle cx="500.18" cy="357.38" r="3.1"/><circle cx="502.07" cy="359.04" r="3.1"/><circle cx="501.03" cy="358.37" r="3.1"/><circle cx="501.22" cy="358.06" r="3.1"/><circle cx="500.92" cy="357.35" r="3.1"/><circle cx="500.70" cy="357.12" r="3.1"/><circle cx="501.55" cy="357.12" r="3.1"/><circle cx="500.65" cy="356.74" r="3.1"/><circle cx="500.56" cy="356.63" r="3.1"/><circle cx="501.07" cy="356.20" r="3.1"/><circle cx="502.64" cy="357.40" r="3.1"/><circle cx="503.12" cy="357.68" r="3.1"/><circle cx="502.92" cy="357.73" r="3.1"/><circle cx="503.19" cy="357.35" r="3.1"/><circle cx="501.24" cy="356.00" r="3.1"/><circle cx="501.35" cy="355.79" r="3.1"/><circle cx="503.27" cy="356.93" r="3.1"/><circle cx="503.61" cy="357.38" r="3.1"/><circle cx="502.01" cy="355.60" r="3.1"/><circle cx="503.30" cy="356.36" r="3.1"/><circle cx="502.78" cy="355.50" r="3.1"/><circle cx="503.33" cy="355.90" r="3.1"/><circle cx="503.76" cy="356.00" r="3.1"/><circle cx="504.36" cy="356.65" r="3.1"/><circle cx="503.96" cy="356.61" r="3.1"/><circle cx="502.76" cy="355.01" r="3.1"/><circle cx="503.43" cy="354.63" r="3.1"/><circle cx="503.53" cy="354.80" r="3.1"/><circle cx="502.95" cy="354.14" r="3.1"/><circle cx="502.97" cy="354.24" r="3.1"/><circle cx="503.29" cy="354.18" r="3.1"/><circle cx="503.04" cy="354.09" r="3.1"/><circle cx="504.75" cy="355.38" r="3.1"/><circle cx="503.96" cy="353.97" r="3.1"/><circle cx="503.75" cy="354.08" r="3.1"/><circle cx="504.71" cy="354.72" r="3.1"/><circle cx="503.88" cy="353.85" r="3.1"/><circle cx="504.42" cy="353.86" r="3.1"/><circle cx="505.52" cy="354.80" r="3.1"/><circle cx="505.23" cy="354.47" r="3.1"/><circle cx="505.30" cy="353.79" r="3.1"/><circle cx="504.53" cy="352.59" r="3.1"/><circle cx="505.78" cy="353.72" r="3.1"/><circle cx="504.54" cy="352.88" r="3.1"/><circle cx="505.72" cy="353.42" r="3.1"/><circle cx="505.33" cy="352.84" r="3.1"/><circle cx="505.85" cy="353.11" r="3.1"/><circle cx="506.66" cy="353.92" r="3.1"/><circle cx="506.95" cy="353.48" r="3.1"/><circle cx="504.96" cy="352.23" r="3.1"/><circle cx="506.50" cy="353.48" r="3.1"/><circle cx="506.55" cy="353.07" r="3.1"/><circle cx="505.31" cy="351.91" r="3.1"/><circle cx="505.98" cy="352.53" r="3.1"/><circle cx="506.41" cy="351.93" r="3.1"/><circle cx="507.12" cy="352.60" r="3.1"/><circle cx="507.77" cy="352.63" r="3.1"/><circle cx="507.09" cy="352.15" r="3.1"/><circle cx="505.79" cy="351.29" r="3.1"/><circle cx="507.61" cy="352.33" r="3.1"/><circle cx="506.10" cy="350.97" r="3.1"/><circle cx="507.58" cy="351.87" r="3.1"/><circle cx="507.45" cy="351.30" r="3.1"/><circle cx="507.71" cy="351.95" r="3.1"/><circle cx="507.94" cy="351.18" r="3.1"/><circle cx="507.15" cy="350.28" r="3.1"/><circle cx="508.22" cy="351.54" r="3.1"/><circle cx="508.08" cy="350.86" r="3.1"/><circle cx="507.90" cy="351.27" r="3.1"/><circle cx="508.56" cy="351.30" r="3.1"/><circle cx="508.65" cy="351.52" r="3.1"/><circle cx="508.16" cy="350.68" r="3.1"/><circle cx="507.97" cy="350.16" r="3.1"/><circle cx="508.17" cy="349.94" r="3.1"/><circle cx="509.29" cy="350.46" r="3.1"/><circle cx="507.97" cy="349.31" r="3.1"/><circle cx="508.52" cy="349.92" r="3.1"/><circle cx="507.87" cy="349.22" r="3.1"/><circle cx="510.01" cy="350.37" r="3.1"/><circle cx="508.62" cy="349.02" r="3.1"/><circle cx="509.53" cy="350.14" r="3.1"/><circle cx="509.77" cy="350.16" r="3.1"/><circle cx="509.62" cy="349.36" r="3.1"/><circle cx="510.44" cy="349.94" r="3.1"/><circle cx="509.18" cy="348.27" r="3.1"/><circle cx="509.09" cy="348.04" r="3.1"/><circle cx="510.08" cy="349.53" r="3.1"/><circle cx="509.47" cy="348.32" r="3.1"/><circle cx="509.13" cy="348.11" r="3.1"/><circle cx="509.62" cy="347.48" r="3.1"/><circle cx="511.02" cy="349.22" r="3.1"/><circle cx="509.76" cy="347.63" r="3.1"/><circle cx="510.10" cy="348.19" r="3.1"/><circle cx="511.27" cy="348.66" r="3.1"/><circle cx="510.19" cy="347.28" r="3.1"/><circle cx="511.26" cy="348.30" r="3.1"/><circle cx="511.86" cy="348.33" r="3.1"/><circle cx="510.32" cy="346.73" r="3.1"/><circle cx="510.80" cy="347.60" r="3.1"/><circle cx="511.09" cy="347.44" r="3.1"/><circle cx="511.19" cy="346.97" r="3.1"/><circle cx="510.48" cy="346.48" r="3.1"/><circle cx="511.49" cy="347.12" r="3.1"/><circle cx="512.21" cy="347.75" r="3.1"/><circle cx="511.19" cy="346.67" r="3.1"/><circle cx="512.33" cy="347.39" r="3.1"/><circle cx="512.20" cy="347.16" r="3.1"/><circle cx="512.39" cy="346.49" r="3.1"/><circle cx="512.56" cy="346.62" r="3.1"/><circle cx="512.77" cy="346.81" r="3.1"/><circle cx="512.07" cy="346.02" r="3.1"/><circle cx="512.63" cy="346.08" r="3.1"/><circle cx="513.35" cy="346.65" r="3.1"/><circle cx="512.66" cy="346.42" r="3.1"/><circle cx="512.73" cy="345.87" r="3.1"/><circle cx="513.44" cy="346.50" r="3.1"/><circle cx="513.11" cy="346.13" r="3.1"/><circle cx="512.60" cy="345.16" r="3.1"/><circle cx="513.13" cy="345.11" r="3.1"/><circle cx="512.91" cy="344.63" r="3.1"/><circle cx="513.50" cy="345.29" r="3.1"/><circle cx="513.15" cy="344.84" r="3.1"/><circle cx="513.90" cy="345.71" r="3.1"/><circle cx="513.86" cy="345.53" r="3.1"/><circle cx="512.74" cy="344.19" r="3.1"/><circle cx="513.79" cy="344.44" r="3.1"/><circle cx="514.42" cy="344.88" r="3.1"/><circle cx="514.14" cy="343.99" r="3.1"/><circle cx="514.87" cy="344.40" r="3.1"/><circle cx="514.67" cy="344.96" r="3.1"/><circle cx="515.25" cy="344.57" r="3.1"/><circle cx="514.75" cy="343.94" r="3.1"/><circle cx="514.18" cy="343.84" r="3.1"/><circle cx="514.94" cy="344.14" r="3.1"/><circle cx="514.22" cy="342.62" r="3.1"/><circle cx="514.85" cy="343.31" r="3.1"/><circle cx="515.11" cy="343.01" r="3.1"/><circle cx="515.16" cy="343.25" r="3.1"/><circle cx="514.28" cy="342.68" r="3.1"/><circle cx="516.16" cy="343.40" r="3.1"/><circle cx="515.80" cy="343.33" r="3.1"/><circle cx="514.59" cy="342.30" r="3.1"/><circle cx="515.61" cy="342.90" r="3.1"/><circle cx="515.84" cy="342.32" r="3.1"/><circle cx="515.05" cy="342.09" r="3.1"/><circle cx="516.38" cy="342.70" r="3.1"/><circle cx="516.49" cy="343.12" r="3.1"/><circle cx="516.18" cy="341.99" r="3.1"/><circle cx="516.03" cy="342.14" r="3.1"/><circle cx="516.58" cy="342.68" r="3.1"/><circle cx="516.42" cy="342.18" r="3.1"/><circle cx="516.52" cy="341.83" r="3.1"/><circle cx="516.93" cy="341.90" r="3.1"/><circle cx="515.97" cy="340.93" r="3.1"/><circle cx="517.59" cy="341.86" r="3.1"/><circle cx="517.27" cy="341.72" r="3.1"/><circle cx="516.46" cy="340.88" r="3.1"/><circle cx="516.58" cy="340.91" r="3.1"/><circle cx="516.80" cy="340.72" r="3.1"/><circle cx="517.28" cy="340.27" r="3.1"/><circle cx="517.19" cy="340.65" r="3.1"/><circle cx="517.50" cy="340.74" r="3.1"/><circle cx="517.88" cy="341.24" r="3.1"/><circle cx="518.16" cy="340.69" r="3.1"/><circle cx="518.02" cy="340.41" r="3.1"/><circle cx="518.01" cy="339.77" r="3.1"/><circle cx="518.33" cy="340.28" r="3.1"/><circle cx="518.41" cy="339.81" r="3.1"/><circle cx="518.59" cy="339.76" r="3.1"/><circle cx="518.60" cy="340.33" r="3.1"/><circle cx="518.70" cy="339.67" r="3.1"/><circle cx="518.61" cy="339.45" r="3.1"/><circle cx="518.18" cy="339.30" r="3.1"/><circle cx="519.15" cy="339.30" r="3.1"/><circle cx="518.43" cy="338.87" r="3.1"/><circle cx="518.32" cy="338.55" r="3.1"/><circle cx="518.89" cy="339.28" r="3.1"/><circle cx="519.32" cy="339.44" r="3.1"/><circle cx="520.05" cy="339.11" r="3.1"/><circle cx="520.16" cy="339.09" r="3.1"/><circle cx="518.73" cy="338.12" r="3.1"/><circle cx="519.48" cy="338.15" r="3.1"/><circle cx="520.21" cy="338.46" r="3.1"/><circle cx="520.52" cy="338.62" r="3.1"/><circle cx="519.77" cy="337.77" r="3.1"/><circle cx="520.40" cy="338.44" r="3.1"/><circle cx="519.30" cy="337.32" r="3.1"/><circle cx="519.91" cy="337.15" r="3.1"/><circle cx="520.72" cy="338.28" r="3.1"/><circle cx="520.20" cy="337.75" r="3.1"/><circle cx="520.18" cy="337.46" r="3.1"/><circle cx="520.87" cy="337.49" r="3.1"/><circle cx="520.44" cy="337.21" r="3.1"/><circle cx="521.07" cy="337.31" r="3.1"/><circle cx="520.48" cy="336.16" r="3.1"/><circle cx="521.41" cy="337.25" r="3.1"/><circle cx="521.19" cy="336.35" r="3.1"/><circle cx="371.34" cy="491.82" r="3.1"/><circle cx="374.50" cy="489.01" r="3.1"/><circle cx="377.41" cy="486.15" r="3.1"/><circle cx="379.77" cy="482.95" r="3.1"/><circle cx="383.33" cy="479.85" r="3.1"/><circle cx="386.15" cy="476.96" r="3.1"/><circle cx="389.65" cy="473.35" r="3.1"/><circle cx="393.00" cy="469.29" r="3.1"/><circle cx="395.81" cy="466.67" r="3.1"/><circle cx="398.26" cy="464.00" r="3.1"/><circle cx="401.91" cy="459.77" r="3.1"/><circle cx="404.58" cy="457.19" r="3.1"/><circle cx="407.33" cy="454.47" r="3.1"/><circle cx="411.10" cy="450.64" r="3.1"/><circle cx="414.06" cy="447.17" r="3.1"/><circle cx="416.71" cy="444.09" r="3.1"/><circle cx="420.16" cy="440.95" r="3.1"/><circle cx="423.22" cy="437.60" r="3.1"/><circle cx="426.06" cy="434.55" r="3.1"/><circle cx="429.18" cy="431.11" r="3.1"/><circle cx="433.21" cy="427.46" r="3.1"/><circle cx="436.24" cy="423.88" r="3.1"/><circle cx="439.46" cy="420.53" r="3.1"/><circle cx="442.40" cy="417.88" r="3.1"/><circle cx="445.88" cy="413.77" r="3.1"/><circle cx="449.02" cy="410.08" r="3.1"/><circle cx="452.00" cy="407.04" r="3.1"/><circle cx="455.44" cy="403.57" r="3.1"/><circle cx="459.55" cy="399.71" r="3.1"/><circle cx="463.01" cy="395.79" r="3.1"/><circle cx="466.96" cy="391.85" r="3.1"/><circle cx="469.62" cy="388.82" r="3.1"/><circle cx="473.27" cy="385.07" r="3.1"/><circle cx="476.56" cy="381.22" r="3.1"/><circle cx="479.65" cy="378.68" r="3.1"/><circle cx="481.98" cy="375.83" r="3.1"/><circle cx="484.71" cy="373.12" r="3.1"/><circle cx="488.26" cy="369.13" r="3.1"/><circle cx="491.96" cy="365.45" r="3.1"/><circle cx="494.49" cy="362.30" r="3.1"/><circle cx="497.47" cy="359.71" r="3.1"/><circle cx="500.96" cy="355.64" r="3.1"/><circle cx="504.25" cy="352.79" r="3.1"/><circle cx="506.97" cy="349.81" r="3.1"/><circle cx="510.34" cy="346.24" r="3.1"/><circle cx="512.75" cy="343.53" r="3.1"/><circle cx="516.44" cy="339.40" r="3.1"/></g><line x1="58.8" y1="234.4" x2="274.1" y2="7.95" stroke="#5c0a78" stroke-width="1.4"/><line x1="345.5" y1="234.5" x2="560.6" y2="8.0" stroke="#5c0a78" stroke-width="1.4"/><line x1="59.1" y1="520.8" x2="274.3" y2="294.45" stroke="#5c0a78" stroke-width="1.4"/><line x1="346.0" y1="520.8" x2="561.2" y2="294.35" stroke="#5c0a78" stroke-width="1.4"/><text transform="translate(58.80,248.60) scale(1,1.07)" font-size="12" font-weight="bold" text-anchor="middle">-4.34</text><text transform="translate(53.20,238.20) scale(1,1.07)" font-size="12" font-weight="bold" text-anchor="end">-4.34</text><text transform="translate(101.86,248.60) scale(1,1.07)" font-size="12" font-weight="bold" text-anchor="middle">-4.32</text><text transform="translate(53.20,192.91) scale(1,1.07)" font-size="12" font-weight="bold" text-anchor="end">-4.32</text><text transform="translate(144.92,248.60) scale(1,1.07)" font-size="12" font-weight="bold" text-anchor="middle">-4.30</text><text transform="translate(53.20,147.62) scale(1,1.07)" font-size="12" font-weight="bold" text-anchor="end">-4.30</text><text transform="translate(187.98,248.60) scale(1,1.07)" font-size="12" font-weight="bold" text-anchor="middle">-4.28</text><text transform="translate(53.20,102.33) scale(1,1.07)" font-size="12" font-weight="bold" text-anchor="end">-4.28</text><text transform="translate(231.04,248.60) scale(1,1.07)" font-size="12" font-weight="bold" text-anchor="middle">-4.26</text><text transform="translate(53.20,57.04) scale(1,1.07)" font-size="12" font-weight="bold" text-anchor="end">-4.26</text><text transform="translate(274.10,248.60) scale(1,1.07)" font-size="12" font-weight="bold" text-anchor="middle">-4.24</text><text transform="translate(53.20,11.75) scale(1,1.07)" font-size="12" font-weight="bold" text-anchor="end">-4.24</text><text transform="translate(345.50,248.70) scale(1,1.07)" font-size="12" font-weight="bold" text-anchor="middle">-4.34</text><text transform="translate(339.90,238.30) scale(1,1.07)" font-size="12" font-weight="bold" text-anchor="end">-4.34</text><text transform="translate(388.52,248.70) scale(1,1.07)" font-size="12" font-weight="bold" text-anchor="middle">-4.32</text><text transform="translate(339.90,193.00) scale(1,1.07)" font-size="12" font-weight="bold" text-anchor="end">-4.32</text><text transform="translate(431.54,248.70) scale(1,1.07)" font-size="12" font-weight="bold" text-anchor="middle">-4.30</text><text transform="translate(339.90,147.70) scale(1,1.07)" font-size="12" font-weight="bold" text-anchor="end">-4.30</text><text transform="translate(474.56,248.70) scale(1,1.07)" font-size="12" font-weight="bold" text-anchor="middle">-4.28</text><text transform="translate(339.90,102.40) scale(1,1.07)" font-size="12" font-weight="bold" text-anchor="end">-4.28</text><text transform="translate(517.58,248.70) scale(1,1.07)" font-size="12" font-weight="bold" text-anchor="middle">-4.26</text><text transform="translate(339.90,57.10) scale(1,1.07)" font-size="12" font-weight="bold" text-anchor="end">-4.26</text><text transform="translate(560.60,248.70) scale(1,1.07)" font-size="12" font-weight="bold" text-anchor="middle">-4.24</text><text transform="translate(339.90,11.80) scale(1,1.07)" font-size="12" font-weight="bold" text-anchor="end">-4.24</text><text transform="translate(59.10,535.00) scale(1,1.07)" font-size="12" font-weight="bold" text-anchor="middle">-3</text><text transform="translate(53.50,524.60) scale(1,1.07)" font-size="12" font-weight="bold" text-anchor="end">-3</text><text transform="translate(94.97,535.00) scale(1,1.07)" font-size="12" font-weight="bold" text-anchor="middle">-2</text><text transform="translate(53.50,486.87) scale(1,1.07)" font-size="12" font-weight="bold" text-anchor="end">-2</text><text transform="translate(130.83,535.00) scale(1,1.07)" font-size="12" font-weight="bold" text-anchor="middle">-1</text><text transform="translate(53.50,449.15) scale(1,1.07)" font-size="12" font-weight="bold" text-anchor="end">-1</text><text transform="translate(166.70,535.00) scale(1,1.07)" font-size="12" font-weight="bold" text-anchor="middle">0</text><text transform="translate(53.50,411.43) scale(1,1.07)" font-size="12" font-weight="bold" text-anchor="end">0</text><text transform="translate(202.57,535.00) scale(1,1.07)" font-size="12" font-weight="bold" text-anchor="middle">1</text><text transform="translate(53.50,373.70) scale(1,1.07)" font-size="12" font-weight="bold" text-anchor="end">1</text><text transform="translate(238.43,535.00) scale(1,1.07)" font-size="12" font-weight="bold" text-anchor="middle">2</text><text transform="translate(53.50,335.97) scale(1,1.07)" font-size="12" font-weight="bold" text-anchor="end">2</text><text transform="translate(274.30,535.00) scale(1,1.07)" font-size="12" font-weight="bold" text-anchor="middle">3</text><text transform="translate(53.50,298.25) scale(1,1.07)" font-size="12" font-weight="bold" text-anchor="end">3</text><text transform="translate(346.00,535.00) scale(1,1.07)" font-size="12" font-weight="bold" text-anchor="middle">-3</text><text transform="translate(340.40,524.60) scale(1,1.07)" font-size="12" font-weight="bold" text-anchor="end">-3</text><text transform="translate(381.87,535.00) scale(1,1.07)" font-size="12" font-weight="bold" text-anchor="middle">-2</text><text transform="translate(340.40,486.86) scale(1,1.07)" font-size="12" font-weight="bold" text-anchor="end">-2</text><text transform="translate(417.73,535.00) scale(1,1.07)" font-size="12" font-weight="bold" text-anchor="middle">-1</text><text transform="translate(340.40,449.12) scale(1,1.07)" font-size="12" font-weight="bold" text-anchor="end">-1</text><text transform="translate(453.60,535.00) scale(1,1.07)" font-size="12" font-weight="bold" text-anchor="middle">0</text><text transform="translate(340.40,411.38) scale(1,1.07)" font-size="12" font-weight="bold" text-anchor="end">0</text><text transform="translate(489.47,535.00) scale(1,1.07)" font-size="12" font-weight="bold" text-anchor="middle">1</text><text transform="translate(340.40,373.63) scale(1,1.07)" font-size="12" font-weight="bold" text-anchor="end">1</text><text transform="translate(525.33,535.00) scale(1,1.07)" font-size="12" font-weight="bold" text-anchor="middle">2</text><text transform="translate(340.40,335.89) scale(1,1.07)" font-size="12" font-weight="bold" text-anchor="end">2</text><text transform="translate(561.20,535.00) scale(1,1.07)" font-size="12" font-weight="bold" text-anchor="middle">3</text><text transform="translate(340.40,298.15) scale(1,1.07)" font-size="12" font-weight="bold" text-anchor="end">3</text><text transform="translate(66.80,25.45) scale(1,1.09)" font-size="11.15" font-weight="bold">PCC = 99%</text><text transform="translate(66.80,44.90) scale(1,1.09)" font-size="11.15" font-weight="bold">RMSE = 0.78 meV/atom</text><text transform="translate(353.50,25.50) scale(1,1.09)" font-size="11.15" font-weight="bold">PCC = 99%</text><text transform="translate(353.50,44.95) scale(1,1.09)" font-size="11.15" font-weight="bold">RMSE = 0.75 meV/atom</text><text transform="translate(67.10,311.95) scale(1,1.09)" font-size="11.15" font-weight="bold">PCC = 99%</text><text transform="translate(67.10,331.40) scale(1,1.09)" font-size="11.15" font-weight="bold">RMSE = 15.97 meV/Å</text><text transform="translate(354.00,311.85) scale(1,1.09)" font-size="11.15" font-weight="bold">PCC = 99%</text><text transform="translate(354.00,331.30) scale(1,1.09)" font-size="11.15" font-weight="bold">RMSE = 16.16 meV/Å</text><rect x="159.3" y="177.2" width="100.8" height="17.0" fill="#000"/><rect x="157.3" y="174.6" width="100.8" height="17.0" fill="#fff" stroke="#000" stroke-width="1" stroke-linejoin="round"/><circle cx="172.3" cy="183.79999999999998" r="3.3" fill="url(#grl)"/><text transform="translate(189.20,187.60) scale(1,1.02)" font-size="12.5" font-weight="bold">Training set</text><rect x="445.9" y="177.4" width="109.0" height="17.0" fill="#000"/><rect x="443.9" y="174.8" width="109.0" height="17.0" fill="#fff" stroke="#000" stroke-width="1" stroke-linejoin="round"/><circle cx="458.9" cy="184.0" r="3.3" fill="url(#gb)"/><text transform="translate(475.90,187.80) scale(1,1.02)" font-size="12.5" font-weight="bold">Validation set</text><text x="166.45" y="272.10" text-anchor="middle" font-size="15" font-weight="bold"><tspan font-style="italic">E</tspan><tspan font-size="10" dy="4.7">DFT</tspan><tspan dy="-4.7"> (eV/atom)</tspan></text><text x="453.05" y="272.20" text-anchor="middle" font-size="15" font-weight="bold"><tspan font-style="italic">E</tspan><tspan font-size="10" dy="4.7">DFT</tspan><tspan dy="-4.7"> (eV/atom)</tspan></text><text x="166.70" y="558.50" text-anchor="middle" font-size="15" font-weight="bold"><tspan font-style="italic">F</tspan><tspan font-size="10" dy="4.7">DFT</tspan><tspan dy="-4.7"> (eV/Å)</tspan></text><text x="453.60" y="558.50" text-anchor="middle" font-size="15" font-weight="bold"><tspan font-style="italic">F</tspan><tspan font-size="10" dy="4.7">DFT</tspan><tspan dy="-4.7"> (eV/Å)</tspan></text><text transform="translate(18.10,121.17) rotate(-90)" x="0" y="0" text-anchor="middle" font-size="15" font-weight="bold"><tspan font-style="italic">E</tspan><tspan font-size="10" dy="4.7">MTP</tspan><tspan dy="-4.7"> (eV/atom)</tspan></text><text transform="translate(304.80,121.25) rotate(-90)" x="0" y="0" text-anchor="middle" font-size="15" font-weight="bold"><tspan font-style="italic">E</tspan><tspan font-size="10" dy="4.7">MTP</tspan><tspan dy="-4.7"> (eV/atom)</tspan></text><text transform="translate(35.20,407.62) rotate(-90)" x="0" y="0" text-anchor="middle" font-size="15" font-weight="bold"><tspan font-style="italic">F</tspan><tspan font-size="10" dy="4.7">MTP</tspan><tspan dy="-4.7"> (eV/Å)</tspan></text><text transform="translate(321.90,407.57) rotate(-90)" x="0" y="0" text-anchor="middle" font-size="15" font-weight="bold"><tspan font-style="italic">F</tspan><tspan font-size="10" dy="4.7">MTP</tspan><tspan dy="-4.7"> (eV/Å)</tspan></text><text transform="translate(0.60,13.20) scale(1,1.03)" font-size="17" font-weight="bold">(a)</text><text transform="translate(287.40,13.20) scale(1,1.03)" font-size="17" font-weight="bold">(b)</text><text transform="translate(0.60,299.40) scale(1,1.03)" font-size="17" font-weight="bold">(c)</text><text transform="translate(287.40,299.40) scale(1,1.03)" font-size="17" font-weight="bold">(d)</text>
</svg></body></html>
